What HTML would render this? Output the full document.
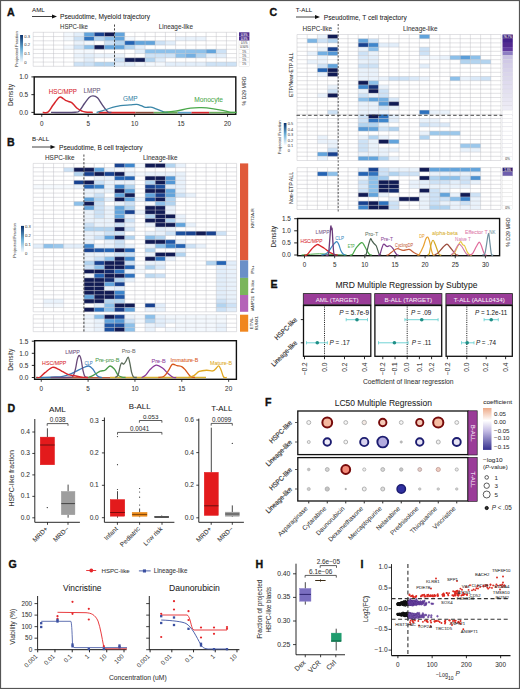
<!DOCTYPE html><html><head><meta charset="utf-8"><style>html,body{margin:0;padding:0;background:#fff;}svg{display:block;font-family:"Liberation Sans",sans-serif;}</style></head><body><svg width="520" height="689" viewBox="0 0 520 689"><rect x="0.5" y="0.5" width="519" height="688" fill="#fff" stroke="#555" stroke-width="1.2"/>
<text x="7" y="16" font-size="10.6" fill="#111" font-weight="bold" stroke="#111" stroke-width="0.35">A</text>
<text x="32" y="12.2" font-size="6.2" fill="#222" stroke="#222" stroke-width="0.05" >AML</text>
<line x1="32" y1="16.5" x2="53" y2="16.5" stroke="#111" stroke-width="0.8" />
<path d="M52 14.5 L57 16.5 L52 18.5 Z" fill="#111"/>
<text x="60" y="19.4" font-size="6.6" fill="#222" stroke="#222" stroke-width="0.05" textLength="90" lengthAdjust="spacingAndGlyphs" >Pseudotime, Myeloid trajectory</text>
<text x="60" y="28.6" font-size="6.3" fill="#333" stroke="#333" stroke-width="0.05" textLength="28" lengthAdjust="spacingAndGlyphs" >HSPC-like</text>
<text x="158.8" y="28.6" font-size="6.3" fill="#333" stroke="#333" stroke-width="0.05" textLength="34.3" lengthAdjust="spacingAndGlyphs" >Lineage-like</text>
<rect x="63.71" y="32.3" width="10.22" height="4.3" fill="#f3f8fd" />
<rect x="73.88" y="32.3" width="10.22" height="4.3" fill="#e2eefa" />
<rect x="84.05" y="32.3" width="10.22" height="4.3" fill="#62a4dc" />
<rect x="94.22" y="32.3" width="10.22" height="4.3" fill="#184290" />
<rect x="104.39" y="32.3" width="10.22" height="4.3" fill="#111b54" />
<rect x="114.56" y="32.3" width="10.22" height="4.3" fill="#62a4dc" />
<rect x="63.71" y="36.55" width="10.22" height="4.3" fill="#f3f8fd" />
<rect x="73.88" y="36.55" width="10.22" height="4.3" fill="#cde2f6" />
<rect x="84.05" y="36.55" width="10.22" height="4.3" fill="#2e72be" />
<rect x="94.22" y="36.55" width="10.22" height="4.3" fill="#b2d4f0" />
<rect x="104.39" y="36.55" width="10.22" height="4.3" fill="#8cc0ea" />
<rect x="114.56" y="36.55" width="10.22" height="4.3" fill="#62a4dc" />
<rect x="124.73" y="36.55" width="10.22" height="4.3" fill="#f3f8fd" />
<rect x="175.58" y="36.55" width="10.22" height="4.3" fill="#e9f2fb" />
<rect x="185.75" y="36.55" width="10.22" height="4.3" fill="#e9f2fb" />
<rect x="195.92" y="36.55" width="10.22" height="4.3" fill="#e9f2fb" />
<rect x="73.88" y="40.8" width="10.22" height="4.3" fill="#e9f2fb" />
<rect x="84.05" y="40.8" width="10.22" height="4.3" fill="#f3f8fd" />
<rect x="104.39" y="40.8" width="10.22" height="4.3" fill="#cde2f6" />
<rect x="114.56" y="40.8" width="10.22" height="4.3" fill="#b2d4f0" />
<rect x="124.73" y="40.8" width="10.22" height="4.3" fill="#2464b4" />
<rect x="134.9" y="40.8" width="10.22" height="4.3" fill="#62a4dc" />
<rect x="145.07" y="40.8" width="10.22" height="4.3" fill="#62a4dc" />
<rect x="155.24" y="40.8" width="10.22" height="4.3" fill="#cde2f6" />
<rect x="165.41" y="40.8" width="10.22" height="4.3" fill="#e2eefa" />
<rect x="63.71" y="45.05" width="10.22" height="4.3" fill="#f3f8fd" />
<rect x="73.88" y="45.05" width="10.22" height="4.3" fill="#cde2f6" />
<rect x="84.05" y="45.05" width="10.22" height="4.3" fill="#8cc0ea" />
<rect x="94.22" y="45.05" width="10.22" height="4.3" fill="#111b54" />
<rect x="104.39" y="45.05" width="10.22" height="4.3" fill="#62a4dc" />
<rect x="114.56" y="45.05" width="10.22" height="4.3" fill="#62a4dc" />
<rect x="124.73" y="45.05" width="10.22" height="4.3" fill="#b2d4f0" />
<rect x="134.9" y="45.05" width="10.22" height="4.3" fill="#e2eefa" />
<rect x="73.88" y="49.3" width="10.22" height="4.3" fill="#f3f8fd" />
<rect x="84.05" y="49.3" width="10.22" height="4.3" fill="#f3f8fd" />
<rect x="134.9" y="49.3" width="10.22" height="4.3" fill="#e2eefa" />
<rect x="145.07" y="49.3" width="10.22" height="4.3" fill="#8cc0ea" />
<rect x="155.24" y="49.3" width="10.22" height="4.3" fill="#8cc0ea" />
<rect x="165.41" y="49.3" width="10.22" height="4.3" fill="#8cc0ea" />
<rect x="175.58" y="49.3" width="10.22" height="4.3" fill="#8cc0ea" />
<rect x="185.75" y="49.3" width="10.22" height="4.3" fill="#8cc0ea" />
<rect x="195.92" y="49.3" width="10.22" height="4.3" fill="#8cc0ea" />
<rect x="206.09" y="49.3" width="10.22" height="4.3" fill="#62a4dc" />
<rect x="216.26" y="49.3" width="10.22" height="4.3" fill="#cde2f6" />
<rect x="73.88" y="53.55" width="10.22" height="4.3" fill="#e9f2fb" />
<rect x="84.05" y="53.55" width="10.22" height="4.3" fill="#e2eefa" />
<rect x="94.22" y="53.55" width="10.22" height="4.3" fill="#e9f2fb" />
<rect x="104.39" y="53.55" width="10.22" height="4.3" fill="#e9f2fb" />
<rect x="114.56" y="53.55" width="10.22" height="4.3" fill="#e9f2fb" />
<rect x="145.07" y="53.55" width="10.22" height="4.3" fill="#cde2f6" />
<rect x="155.24" y="53.55" width="10.22" height="4.3" fill="#cde2f6" />
<rect x="165.41" y="53.55" width="10.22" height="4.3" fill="#cde2f6" />
<rect x="175.58" y="53.55" width="10.22" height="4.3" fill="#8cc0ea" />
<rect x="185.75" y="53.55" width="10.22" height="4.3" fill="#73afe2" />
<rect x="195.92" y="53.55" width="10.22" height="4.3" fill="#b2d4f0" />
<rect x="206.09" y="53.55" width="10.22" height="4.3" fill="#e2eefa" />
<rect x="216.26" y="53.55" width="10.22" height="4.3" fill="#e2eefa" />
<rect x="73.88" y="57.8" width="10.22" height="4.3" fill="#f3f8fd" />
<rect x="84.05" y="57.8" width="10.22" height="4.3" fill="#e2eefa" />
<rect x="114.56" y="57.8" width="10.22" height="4.3" fill="#cde2f6" />
<rect x="124.73" y="57.8" width="10.22" height="4.3" fill="#111b54" />
<rect x="134.9" y="57.8" width="10.22" height="4.3" fill="#111b54" />
<rect x="145.07" y="57.8" width="10.22" height="4.3" fill="#b2d4f0" />
<rect x="155.24" y="57.8" width="10.22" height="4.3" fill="#e2eefa" />
<rect x="73.88" y="62.05" width="10.22" height="4.3" fill="#cde2f6" />
<rect x="84.05" y="62.05" width="10.22" height="4.3" fill="#cde2f6" />
<rect x="94.22" y="62.05" width="10.22" height="4.3" fill="#b2d4f0" />
<rect x="104.39" y="62.05" width="10.22" height="4.3" fill="#b2d4f0" />
<rect x="114.56" y="62.05" width="10.22" height="4.3" fill="#e2eefa" />
<rect x="124.73" y="62.05" width="10.22" height="4.3" fill="#e2eefa" />
<rect x="134.9" y="62.05" width="10.22" height="4.3" fill="#f3f8fd" />
<rect x="145.07" y="62.05" width="10.22" height="4.3" fill="#f3f8fd" />
<rect x="155.24" y="62.05" width="10.22" height="4.3" fill="#f3f8fd" />
<rect x="165.41" y="62.05" width="10.22" height="4.3" fill="#e2eefa" />
<rect x="175.58" y="62.05" width="10.22" height="4.3" fill="#e2eefa" />
<rect x="185.75" y="62.05" width="10.22" height="4.3" fill="#e2eefa" />
<rect x="195.92" y="62.05" width="10.22" height="4.3" fill="#e2eefa" />
<rect x="206.09" y="62.05" width="10.22" height="4.3" fill="#cde2f6" />
<rect x="216.26" y="62.05" width="10.22" height="4.3" fill="#cde2f6" />
<rect x="226.43" y="62.05" width="10.22" height="4.3" fill="#cde2f6" />
<path d="M33.2 32.3H236.6M33.2 36.55H236.6M33.2 40.8H236.6M33.2 45.05H236.6M33.2 49.3H236.6M33.2 53.55H236.6M33.2 57.8H236.6M33.2 62.05H236.6M33.2 66.3H236.6M33.2 32.3V66.3M43.37 32.3V66.3M53.54 32.3V66.3M63.71 32.3V66.3M73.88 32.3V66.3M84.05 32.3V66.3M94.22 32.3V66.3M104.39 32.3V66.3M114.56 32.3V66.3M124.73 32.3V66.3M134.9 32.3V66.3M145.07 32.3V66.3M155.24 32.3V66.3M165.41 32.3V66.3M175.58 32.3V66.3M185.75 32.3V66.3M195.92 32.3V66.3M206.09 32.3V66.3M216.26 32.3V66.3M226.43 32.3V66.3M236.6 32.3V66.3" stroke="#bbbbc3" stroke-width="0.45" fill="none"/>
<line x1="114.5" y1="24.5" x2="114.5" y2="67" stroke="#333" stroke-width="0.9" stroke-dasharray="2.2,1.6" />
<rect x="239" y="32.3" width="10.4" height="4.25" fill="#4b2c8c" />
<text x="244.2" y="35.5" font-size="2.8" fill="#fff" stroke="#fff" stroke-width="0.05" text-anchor="middle" >0.3%</text>
<rect x="239" y="36.55" width="10.4" height="4.25" fill="#4b2c8c" />
<text x="244.2" y="39.75" font-size="2.8" fill="#fff" stroke="#fff" stroke-width="0.05" text-anchor="middle" >0.3%</text>
<rect x="239" y="40.8" width="10.4" height="4.25" fill="#fff" stroke="#ccc" stroke-width="0.3" />
<text x="244.2" y="44" font-size="2.8" fill="#555" stroke="#555" stroke-width="0.05" text-anchor="middle" >0.5%</text>
<rect x="239" y="45.05" width="10.4" height="4.25" fill="#fff" stroke="#ccc" stroke-width="0.3" />
<text x="244.2" y="48.25" font-size="2.8" fill="#555" stroke="#555" stroke-width="0.05" text-anchor="middle" >0.50%</text>
<rect x="239" y="49.3" width="10.4" height="4.25" fill="#fff" stroke="#ccc" stroke-width="0.3" />
<text x="244.2" y="52.5" font-size="2.8" fill="#555" stroke="#555" stroke-width="0.05" text-anchor="middle" >1%</text>
<rect x="239" y="53.55" width="10.4" height="4.25" fill="#fff" stroke="#ccc" stroke-width="0.3" />
<text x="244.2" y="56.75" font-size="2.8" fill="#555" stroke="#555" stroke-width="0.05" text-anchor="middle" >1%</text>
<rect x="239" y="57.8" width="10.4" height="4.25" fill="#fff" stroke="#ccc" stroke-width="0.3" />
<text x="244.2" y="61" font-size="2.8" fill="#555" stroke="#555" stroke-width="0.05" text-anchor="middle" >1%</text>
<rect x="239" y="62.05" width="10.4" height="4.25" fill="#fff" stroke="#ccc" stroke-width="0.3" />
<text x="244.2" y="65.25" font-size="2.8" fill="#555" stroke="#555" stroke-width="0.05" text-anchor="middle" >1%</text>
<defs><linearGradient id="cb236" x1="0" y1="1" x2="0" y2="0"><stop offset="0" stop-color="#f7fbff"/><stop offset="0.5" stop-color="#6aaed6"/><stop offset="1" stop-color="#08306b"/></linearGradient></defs>
<rect x="20.1" y="35" width="2.9" height="27.5" fill="url(#cb236)" />
<text x="24.3" y="37.7" font-size="4.2" fill="#555" stroke="#555" stroke-width="0.05" >0.3</text>
<text x="24.3" y="46.3" font-size="4.2" fill="#555" stroke="#555" stroke-width="0.05" >0.2</text>
<text x="24.3" y="54.9" font-size="4.2" fill="#555" stroke="#555" stroke-width="0.05" >0.1</text>
<text x="24.3" y="63.7" font-size="4.2" fill="#555" stroke="#555" stroke-width="0.05" >0</text>
<text x="17.6" y="49" font-size="3.6" fill="#555" stroke="#555" stroke-width="0.05" text-anchor="middle" transform="rotate(-90 17.6 49)" textLength="36" lengthAdjust="spacingAndGlyphs" >Projected Fraction</text>
<rect x="34.2" y="76.9" width="201.6" height="37.4" fill="none" stroke="#111" stroke-width="1.4" />
<line x1="31.4" y1="76.9" x2="34.2" y2="76.9" stroke="#111" stroke-width="0.9" />
<text x="28.2" y="79.2" font-size="6.5" fill="#333" stroke="#333" stroke-width="0.05" text-anchor="end" >1.0</text>
<line x1="31.4" y1="94.65" x2="34.2" y2="94.65" stroke="#111" stroke-width="0.9" />
<text x="28.2" y="96.95" font-size="6.5" fill="#333" stroke="#333" stroke-width="0.05" text-anchor="end" >0.5</text>
<line x1="31.4" y1="112.4" x2="34.2" y2="112.4" stroke="#111" stroke-width="0.9" />
<text x="28.2" y="114.7" font-size="6.5" fill="#333" stroke="#333" stroke-width="0.05" text-anchor="end" >0.0</text>
<line x1="41.75" y1="114.4" x2="41.75" y2="116.8" stroke="#111" stroke-width="0.8" />
<text x="41.75" y="126" font-size="6.4" fill="#333" stroke="#333" stroke-width="0.05" text-anchor="middle" >0</text>
<line x1="88.2" y1="114.4" x2="88.2" y2="116.8" stroke="#111" stroke-width="0.8" />
<text x="88.2" y="126" font-size="6.4" fill="#333" stroke="#333" stroke-width="0.05" text-anchor="middle" >5</text>
<line x1="134.65" y1="114.4" x2="134.65" y2="116.8" stroke="#111" stroke-width="0.8" />
<text x="134.65" y="126" font-size="6.4" fill="#333" stroke="#333" stroke-width="0.05" text-anchor="middle" >10</text>
<line x1="181.1" y1="114.4" x2="181.1" y2="116.8" stroke="#111" stroke-width="0.8" />
<text x="181.1" y="126" font-size="6.4" fill="#333" stroke="#333" stroke-width="0.05" text-anchor="middle" >15</text>
<line x1="227.55" y1="114.4" x2="227.55" y2="116.8" stroke="#111" stroke-width="0.8" />
<text x="227.55" y="126" font-size="6.4" fill="#333" stroke="#333" stroke-width="0.05" text-anchor="middle" >20</text>
<text x="12.6" y="95" font-size="6.6" fill="#333" stroke="#333" stroke-width="0.05" text-anchor="middle" transform="rotate(-90 12.6 95)" >Density</text>
<text x="246" y="91" font-size="6.1" fill="#333" stroke="#333" stroke-width="0.05" text-anchor="middle" transform="rotate(-90 246 91)" textLength="29" lengthAdjust="spacingAndGlyphs" >% D29 MRD</text>
<line x1="98.5" y1="112.6" x2="135.4" y2="112.6" stroke="#d7262b" stroke-width="1.6" />
<line x1="135.4" y1="112.6" x2="153.8" y2="112.6" stroke="#8b4a3a" stroke-width="1.6" />
<line x1="153.8" y1="112.6" x2="177.7" y2="112.6" stroke="#6aaa5a" stroke-width="1.6" />
<line x1="177.7" y1="112.6" x2="191.5" y2="112.6" stroke="#5b9fc8" stroke-width="1.6" />
<line x1="191.5" y1="112.6" x2="209.2" y2="112.6" stroke="#d7262b" stroke-width="1.6" />
<line x1="209.2" y1="112.6" x2="235" y2="112.6" stroke="#6aaa5a" stroke-width="1.6" />
<path d="M51.04 112.4 C55.07 112.38 70.39 112.65 75.19 112.29 C79.99 111.94 78.29 111.73 79.84 110.27 C81.39 108.81 82.94 105.66 84.48 103.53 C86.03 101.4 87.7 98.76 89.13 97.49 C90.55 96.22 91.64 95.83 93.03 95.89 C94.42 95.95 95.97 96.4 97.49 97.84 C99.01 99.29 100.43 102.28 102.13 104.59 C103.84 106.9 106.16 110.39 107.71 111.69 C109.26 112.99 110.81 112.28 111.42 112.4" fill="none" stroke="#5a4a78" stroke-width="1.4" stroke-linejoin="round"/>
<path d="M96.56 112.4 C97.49 112.16 100.06 111.63 102.13 110.98 C104.21 110.33 105.97 109.38 109.01 108.5 C112.04 107.61 116.84 106.25 120.34 105.66 C123.84 105.06 127.28 105.15 130 104.95 C132.73 104.74 134.84 104.29 136.69 104.41 C138.55 104.53 139.7 105.15 141.15 105.66 C142.61 106.16 143.85 107.19 145.43 107.43 C147.01 107.67 148.86 106.84 150.63 107.08 C152.39 107.31 153.73 108.02 156.02 108.85 C158.31 109.68 162.37 111.45 164.38 112.05 C166.39 112.64 167.47 112.34 168.09 112.4" fill="none" stroke="#3a86a8" stroke-width="1.3" stroke-linejoin="round"/>
<path d="M162.52 112.4 C164.61 112.2 170.42 111.89 175.06 111.19 C179.71 110.49 185.98 108.79 190.39 108.21 C194.8 107.63 197.67 107.61 201.54 107.71 C205.41 107.82 209.78 108.34 213.61 108.85 C217.45 109.36 221.71 110.23 224.58 110.8 C227.44 111.38 228.76 112.03 230.8 112.29 C232.85 112.56 235.83 112.38 236.84 112.4" fill="none" stroke="#4aa84a" stroke-width="1.3" stroke-linejoin="round"/>
<path d="M42.68 112.4 C43.56 112.37 46.27 113.41 47.97 112.22 C49.68 111.04 51.02 107.79 52.9 105.3 C54.77 102.82 57.51 98.44 59.22 97.31 C60.92 96.19 61.97 97.99 63.12 98.56 C64.26 99.12 64.73 100.03 66.09 100.69 C67.45 101.34 69.93 101.69 71.29 102.46 C72.65 103.23 73.24 104.29 74.27 105.3 C75.29 106.31 76.18 107.55 77.42 108.5 C78.66 109.44 80.4 110.39 81.7 110.98 C83 111.57 83.37 111.81 85.23 112.05 C87.09 112.28 91.58 112.34 92.84 112.4" fill="none" stroke="#d7262b" stroke-width="1.5" stroke-linejoin="round"/>
<text x="48.8" y="94.2" font-size="6.3" fill="#d7262b" stroke="#d7262b" stroke-width="0.05" textLength="28.2" lengthAdjust="spacingAndGlyphs" >HSC/MPP</text>
<text x="83.4" y="92.5" font-size="6.3" fill="#6b5b7b" stroke="#6b5b7b" stroke-width="0.05" >LMPP</text>
<text x="122.9" y="100.6" font-size="6.4" fill="#3a86a8" stroke="#3a86a8" stroke-width="0.05" textLength="14.7" lengthAdjust="spacingAndGlyphs" >GMP</text>
<text x="194.2" y="101.5" font-size="6.6" fill="#4aa84a" stroke="#4aa84a" stroke-width="0.05" textLength="28.9" lengthAdjust="spacingAndGlyphs" >Monocyte</text>
<text x="7" y="145.5" font-size="10.6" fill="#111" font-weight="bold" stroke="#111" stroke-width="0.35">B</text>
<text x="32" y="141.2" font-size="6.2" fill="#222" stroke="#222" stroke-width="0.05" >B-ALL</text>
<line x1="32" y1="147" x2="51.5" y2="147" stroke="#111" stroke-width="0.8" />
<path d="M50.5 145 L55.5 147 L50.5 149 Z" fill="#111"/>
<text x="59" y="149.5" font-size="6.6" fill="#222" stroke="#222" stroke-width="0.05" >Pseudotime, B cell trajectory</text>
<text x="45" y="159.5" font-size="6.4" fill="#333" stroke="#333" stroke-width="0.05" >HSPC-like</text>
<text x="143" y="159.5" font-size="6.4" fill="#333" stroke="#333" stroke-width="0.05" >Lineage-like</text>
<rect x="114.56" y="163.4" width="10.22" height="4.29" fill="#184290" />
<rect x="124.73" y="163.4" width="10.22" height="4.29" fill="#3e86cc" />
<rect x="134.9" y="163.4" width="10.22" height="4.29" fill="#f3f8fd" />
<rect x="145.07" y="163.4" width="10.22" height="4.29" fill="#111b54" />
<rect x="155.24" y="163.4" width="10.22" height="4.29" fill="#111b54" />
<rect x="165.41" y="163.4" width="10.22" height="4.29" fill="#b2d4f0" />
<rect x="175.58" y="163.4" width="10.22" height="4.29" fill="#e9f2fb" />
<rect x="63.71" y="167.64" width="10.22" height="4.29" fill="#cde2f6" />
<rect x="73.88" y="167.64" width="10.22" height="4.29" fill="#111b54" />
<rect x="84.05" y="167.64" width="10.22" height="4.29" fill="#111b54" />
<rect x="94.22" y="167.64" width="10.22" height="4.29" fill="#62a4dc" />
<rect x="104.39" y="167.64" width="10.22" height="4.29" fill="#e9f2fb" />
<rect x="114.56" y="167.64" width="10.22" height="4.29" fill="#f3f8fd" />
<rect x="124.73" y="167.64" width="10.22" height="4.29" fill="#f3f8fd" />
<rect x="73.88" y="171.88" width="10.22" height="4.29" fill="#b2d4f0" />
<rect x="84.05" y="171.88" width="10.22" height="4.29" fill="#184290" />
<rect x="94.22" y="171.88" width="10.22" height="4.29" fill="#111b54" />
<rect x="104.39" y="171.88" width="10.22" height="4.29" fill="#184290" />
<rect x="114.56" y="171.88" width="10.22" height="4.29" fill="#111b54" />
<rect x="124.73" y="171.88" width="10.22" height="4.29" fill="#e2eefa" />
<rect x="134.9" y="171.88" width="10.22" height="4.29" fill="#f3f8fd" />
<rect x="145.07" y="171.88" width="10.22" height="4.29" fill="#e9f2fb" />
<rect x="155.24" y="171.88" width="10.22" height="4.29" fill="#e9f2fb" />
<rect x="165.41" y="171.88" width="10.22" height="4.29" fill="#e9f2fb" />
<rect x="175.58" y="171.88" width="10.22" height="4.29" fill="#e9f2fb" />
<rect x="94.22" y="176.12" width="10.22" height="4.29" fill="#e9f2fb" />
<rect x="104.39" y="176.12" width="10.22" height="4.29" fill="#e9f2fb" />
<rect x="114.56" y="176.12" width="10.22" height="4.29" fill="#2464b4" />
<rect x="124.73" y="176.12" width="10.22" height="4.29" fill="#2464b4" />
<rect x="145.07" y="176.12" width="10.22" height="4.29" fill="#111b54" />
<rect x="155.24" y="176.12" width="10.22" height="4.29" fill="#111b54" />
<rect x="165.41" y="176.12" width="10.22" height="4.29" fill="#5498d6" />
<rect x="175.58" y="176.12" width="10.22" height="4.29" fill="#e9f2fb" />
<rect x="73.88" y="180.36" width="10.22" height="4.29" fill="#184290" />
<rect x="84.05" y="180.36" width="10.22" height="4.29" fill="#111b54" />
<rect x="94.22" y="180.36" width="10.22" height="4.29" fill="#cde2f6" />
<rect x="104.39" y="180.36" width="10.22" height="4.29" fill="#e9f2fb" />
<rect x="114.56" y="180.36" width="10.22" height="4.29" fill="#e9f2fb" />
<rect x="124.73" y="180.36" width="10.22" height="4.29" fill="#e9f2fb" />
<rect x="145.07" y="180.36" width="10.22" height="4.29" fill="#b2d4f0" />
<rect x="155.24" y="180.36" width="10.22" height="4.29" fill="#111b54" />
<rect x="165.41" y="180.36" width="10.22" height="4.29" fill="#5498d6" />
<rect x="175.58" y="180.36" width="10.22" height="4.29" fill="#e9f2fb" />
<rect x="33.2" y="184.6" width="10.22" height="4.29" fill="#f5f9fd" />
<rect x="43.37" y="184.6" width="10.22" height="4.29" fill="#f5f9fd" />
<rect x="53.54" y="184.6" width="10.22" height="4.29" fill="#f5f9fd" />
<rect x="63.71" y="184.6" width="10.22" height="4.29" fill="#f5f9fd" />
<rect x="73.88" y="184.6" width="10.22" height="4.29" fill="#e9f2fb" />
<rect x="84.05" y="184.6" width="10.22" height="4.29" fill="#2464b4" />
<rect x="94.22" y="184.6" width="10.22" height="4.29" fill="#3e86cc" />
<rect x="104.39" y="184.6" width="10.22" height="4.29" fill="#e9f2fb" />
<rect x="114.56" y="184.6" width="10.22" height="4.29" fill="#3e86cc" />
<rect x="124.73" y="184.6" width="10.22" height="4.29" fill="#b2d4f0" />
<rect x="145.07" y="184.6" width="10.22" height="4.29" fill="#184290" />
<rect x="155.24" y="184.6" width="10.22" height="4.29" fill="#1d509e" />
<rect x="165.41" y="184.6" width="10.22" height="4.29" fill="#e2eefa" />
<rect x="175.58" y="184.6" width="10.22" height="4.29" fill="#e9f2fb" />
<rect x="84.05" y="188.84" width="10.22" height="4.29" fill="#e9f2fb" />
<rect x="94.22" y="188.84" width="10.22" height="4.29" fill="#e9f2fb" />
<rect x="104.39" y="188.84" width="10.22" height="4.29" fill="#e9f2fb" />
<rect x="114.56" y="188.84" width="10.22" height="4.29" fill="#111b54" />
<rect x="124.73" y="188.84" width="10.22" height="4.29" fill="#62a4dc" />
<rect x="145.07" y="188.84" width="10.22" height="4.29" fill="#111b54" />
<rect x="155.24" y="188.84" width="10.22" height="4.29" fill="#111b54" />
<rect x="165.41" y="188.84" width="10.22" height="4.29" fill="#62a4dc" />
<rect x="175.58" y="188.84" width="10.22" height="4.29" fill="#e9f2fb" />
<rect x="84.05" y="193.08" width="10.22" height="4.29" fill="#e9f2fb" />
<rect x="94.22" y="193.08" width="10.22" height="4.29" fill="#cde2f6" />
<rect x="114.56" y="193.08" width="10.22" height="4.29" fill="#62a4dc" />
<rect x="124.73" y="193.08" width="10.22" height="4.29" fill="#111b54" />
<rect x="145.07" y="193.08" width="10.22" height="4.29" fill="#62a4dc" />
<rect x="155.24" y="193.08" width="10.22" height="4.29" fill="#184290" />
<rect x="165.41" y="193.08" width="10.22" height="4.29" fill="#62a4dc" />
<rect x="175.58" y="193.08" width="10.22" height="4.29" fill="#cde2f6" />
<rect x="185.75" y="193.08" width="10.22" height="4.29" fill="#e9f2fb" />
<rect x="84.05" y="197.32" width="10.22" height="4.29" fill="#62a4dc" />
<rect x="94.22" y="197.32" width="10.22" height="4.29" fill="#b2d4f0" />
<rect x="104.39" y="197.32" width="10.22" height="4.29" fill="#e2eefa" />
<rect x="114.56" y="197.32" width="10.22" height="4.29" fill="#111b54" />
<rect x="124.73" y="197.32" width="10.22" height="4.29" fill="#62a4dc" />
<rect x="134.9" y="197.32" width="10.22" height="4.29" fill="#e9f2fb" />
<rect x="145.07" y="197.32" width="10.22" height="4.29" fill="#1d509e" />
<rect x="155.24" y="197.32" width="10.22" height="4.29" fill="#111b54" />
<rect x="165.41" y="197.32" width="10.22" height="4.29" fill="#b2d4f0" />
<rect x="73.88" y="201.56" width="10.22" height="4.29" fill="#8cc0ea" />
<rect x="84.05" y="201.56" width="10.22" height="4.29" fill="#111b54" />
<rect x="94.22" y="201.56" width="10.22" height="4.29" fill="#cde2f6" />
<rect x="114.56" y="201.56" width="10.22" height="4.29" fill="#e9f2fb" />
<rect x="124.73" y="201.56" width="10.22" height="4.29" fill="#cde2f6" />
<rect x="145.07" y="201.56" width="10.22" height="4.29" fill="#f3f8fd" />
<rect x="155.24" y="201.56" width="10.22" height="4.29" fill="#8cc0ea" />
<rect x="165.41" y="201.56" width="10.22" height="4.29" fill="#b2d4f0" />
<rect x="84.05" y="205.8" width="10.22" height="4.29" fill="#62a4dc" />
<rect x="94.22" y="205.8" width="10.22" height="4.29" fill="#cde2f6" />
<rect x="104.39" y="205.8" width="10.22" height="4.29" fill="#e9f2fb" />
<rect x="114.56" y="205.8" width="10.22" height="4.29" fill="#62a4dc" />
<rect x="124.73" y="205.8" width="10.22" height="4.29" fill="#b2d4f0" />
<rect x="145.07" y="205.8" width="10.22" height="4.29" fill="#111b54" />
<rect x="155.24" y="205.8" width="10.22" height="4.29" fill="#111b54" />
<rect x="165.41" y="205.8" width="10.22" height="4.29" fill="#e9f2fb" />
<rect x="84.05" y="210.04" width="10.22" height="4.29" fill="#e9f2fb" />
<rect x="94.22" y="210.04" width="10.22" height="4.29" fill="#cde2f6" />
<rect x="104.39" y="210.04" width="10.22" height="4.29" fill="#e9f2fb" />
<rect x="114.56" y="210.04" width="10.22" height="4.29" fill="#62a4dc" />
<rect x="124.73" y="210.04" width="10.22" height="4.29" fill="#184290" />
<rect x="134.9" y="210.04" width="10.22" height="4.29" fill="#e9f2fb" />
<rect x="145.07" y="210.04" width="10.22" height="4.29" fill="#111b54" />
<rect x="155.24" y="210.04" width="10.22" height="4.29" fill="#111b54" />
<rect x="165.41" y="210.04" width="10.22" height="4.29" fill="#e9f2fb" />
<rect x="84.05" y="214.28" width="10.22" height="4.29" fill="#e9f2fb" />
<rect x="94.22" y="214.28" width="10.22" height="4.29" fill="#cde2f6" />
<rect x="104.39" y="214.28" width="10.22" height="4.29" fill="#e9f2fb" />
<rect x="114.56" y="214.28" width="10.22" height="4.29" fill="#62a4dc" />
<rect x="124.73" y="214.28" width="10.22" height="4.29" fill="#e9f2fb" />
<rect x="145.07" y="214.28" width="10.22" height="4.29" fill="#b2d4f0" />
<rect x="155.24" y="214.28" width="10.22" height="4.29" fill="#111b54" />
<rect x="165.41" y="214.28" width="10.22" height="4.29" fill="#111b54" />
<rect x="175.58" y="214.28" width="10.22" height="4.29" fill="#e9f2fb" />
<rect x="84.05" y="218.52" width="10.22" height="4.29" fill="#e9f2fb" />
<rect x="94.22" y="218.52" width="10.22" height="4.29" fill="#e9f2fb" />
<rect x="104.39" y="218.52" width="10.22" height="4.29" fill="#e9f2fb" />
<rect x="114.56" y="218.52" width="10.22" height="4.29" fill="#111b54" />
<rect x="124.73" y="218.52" width="10.22" height="4.29" fill="#cde2f6" />
<rect x="145.07" y="218.52" width="10.22" height="4.29" fill="#111b54" />
<rect x="155.24" y="218.52" width="10.22" height="4.29" fill="#111b54" />
<rect x="165.41" y="218.52" width="10.22" height="4.29" fill="#b2d4f0" />
<rect x="175.58" y="218.52" width="10.22" height="4.29" fill="#e9f2fb" />
<rect x="84.05" y="222.76" width="10.22" height="4.29" fill="#cde2f6" />
<rect x="94.22" y="222.76" width="10.22" height="4.29" fill="#e9f2fb" />
<rect x="104.39" y="222.76" width="10.22" height="4.29" fill="#e9f2fb" />
<rect x="114.56" y="222.76" width="10.22" height="4.29" fill="#cde2f6" />
<rect x="124.73" y="222.76" width="10.22" height="4.29" fill="#e9f2fb" />
<rect x="145.07" y="222.76" width="10.22" height="4.29" fill="#e9f2fb" />
<rect x="155.24" y="222.76" width="10.22" height="4.29" fill="#111b54" />
<rect x="165.41" y="222.76" width="10.22" height="4.29" fill="#111b54" />
<rect x="175.58" y="222.76" width="10.22" height="4.29" fill="#62a4dc" />
<rect x="185.75" y="222.76" width="10.22" height="4.29" fill="#e9f2fb" />
<rect x="84.05" y="227" width="10.22" height="4.29" fill="#b2d4f0" />
<rect x="94.22" y="227" width="10.22" height="4.29" fill="#b2d4f0" />
<rect x="104.39" y="227" width="10.22" height="4.29" fill="#b2d4f0" />
<rect x="114.56" y="227" width="10.22" height="4.29" fill="#111b54" />
<rect x="124.73" y="227" width="10.22" height="4.29" fill="#cde2f6" />
<rect x="155.24" y="227" width="10.22" height="4.29" fill="#e2eefa" />
<rect x="165.41" y="227" width="10.22" height="4.29" fill="#e9f2fb" />
<rect x="84.05" y="231.24" width="10.22" height="4.29" fill="#e9f2fb" />
<rect x="94.22" y="231.24" width="10.22" height="4.29" fill="#e9f2fb" />
<rect x="104.39" y="231.24" width="10.22" height="4.29" fill="#cde2f6" />
<rect x="114.56" y="231.24" width="10.22" height="4.29" fill="#cde2f6" />
<rect x="145.07" y="231.24" width="10.22" height="4.29" fill="#e9f2fb" />
<rect x="155.24" y="231.24" width="10.22" height="4.29" fill="#e9f2fb" />
<rect x="165.41" y="231.24" width="10.22" height="4.29" fill="#cde2f6" />
<rect x="175.58" y="231.24" width="10.22" height="4.29" fill="#1d509e" />
<rect x="185.75" y="231.24" width="10.22" height="4.29" fill="#184290" />
<rect x="195.92" y="231.24" width="10.22" height="4.29" fill="#111b54" />
<rect x="206.09" y="231.24" width="10.22" height="4.29" fill="#184290" />
<rect x="216.26" y="231.24" width="10.22" height="4.29" fill="#cde2f6" />
<rect x="84.05" y="235.48" width="10.22" height="4.29" fill="#e9f2fb" />
<rect x="94.22" y="235.48" width="10.22" height="4.29" fill="#cde2f6" />
<rect x="104.39" y="235.48" width="10.22" height="4.29" fill="#62a4dc" />
<rect x="114.56" y="235.48" width="10.22" height="4.29" fill="#111b54" />
<rect x="124.73" y="235.48" width="10.22" height="4.29" fill="#b2d4f0" />
<rect x="145.07" y="235.48" width="10.22" height="4.29" fill="#8cc0ea" />
<rect x="155.24" y="235.48" width="10.22" height="4.29" fill="#b2d4f0" />
<rect x="84.05" y="239.72" width="10.22" height="4.29" fill="#e9f2fb" />
<rect x="104.39" y="239.72" width="10.22" height="4.29" fill="#e9f2fb" />
<rect x="114.56" y="239.72" width="10.22" height="4.29" fill="#cde2f6" />
<rect x="145.07" y="239.72" width="10.22" height="4.29" fill="#111b54" />
<rect x="155.24" y="239.72" width="10.22" height="4.29" fill="#111b54" />
<rect x="165.41" y="239.72" width="10.22" height="4.29" fill="#1f56a6" />
<rect x="175.58" y="239.72" width="10.22" height="4.29" fill="#e9f2fb" />
<rect x="33.2" y="243.96" width="10.22" height="4.29" fill="#e2eefa" />
<rect x="43.37" y="243.96" width="10.22" height="4.29" fill="#8cc0ea" />
<rect x="53.54" y="243.96" width="10.22" height="4.29" fill="#9bc8ec" />
<rect x="63.71" y="243.96" width="10.22" height="4.29" fill="#e2eefa" />
<rect x="73.88" y="243.96" width="10.22" height="4.29" fill="#e2eefa" />
<rect x="84.05" y="243.96" width="10.22" height="4.29" fill="#3e86cc" />
<rect x="94.22" y="243.96" width="10.22" height="4.29" fill="#e9f2fb" />
<rect x="104.39" y="243.96" width="10.22" height="4.29" fill="#e9f2fb" />
<rect x="114.56" y="243.96" width="10.22" height="4.29" fill="#cde2f6" />
<rect x="124.73" y="243.96" width="10.22" height="4.29" fill="#e9f2fb" />
<rect x="145.07" y="243.96" width="10.22" height="4.29" fill="#e9f2fb" />
<rect x="155.24" y="243.96" width="10.22" height="4.29" fill="#8cc0ea" />
<rect x="165.41" y="243.96" width="10.22" height="4.29" fill="#3e86cc" />
<rect x="175.58" y="243.96" width="10.22" height="4.29" fill="#2464b4" />
<rect x="185.75" y="243.96" width="10.22" height="4.29" fill="#cde2f6" />
<rect x="195.92" y="243.96" width="10.22" height="4.29" fill="#e9f2fb" />
<rect x="84.05" y="248.2" width="10.22" height="4.29" fill="#184290" />
<rect x="94.22" y="248.2" width="10.22" height="4.29" fill="#1f56a6" />
<rect x="104.39" y="248.2" width="10.22" height="4.29" fill="#2464b4" />
<rect x="114.56" y="248.2" width="10.22" height="4.29" fill="#111b54" />
<rect x="124.73" y="248.2" width="10.22" height="4.29" fill="#2464b4" />
<rect x="145.07" y="248.2" width="10.22" height="4.29" fill="#b2d4f0" />
<rect x="175.58" y="248.2" width="10.22" height="4.29" fill="#e9f2fb" />
<rect x="84.05" y="252.44" width="10.22" height="4.29" fill="#e9f2fb" />
<rect x="94.22" y="252.44" width="10.22" height="4.29" fill="#e9f2fb" />
<rect x="104.39" y="252.44" width="10.22" height="4.29" fill="#e9f2fb" />
<rect x="114.56" y="252.44" width="10.22" height="4.29" fill="#cde2f6" />
<rect x="124.73" y="252.44" width="10.22" height="4.29" fill="#cde2f6" />
<rect x="145.07" y="252.44" width="10.22" height="4.29" fill="#e9f2fb" />
<rect x="155.24" y="252.44" width="10.22" height="4.29" fill="#111b54" />
<rect x="165.41" y="252.44" width="10.22" height="4.29" fill="#111b54" />
<rect x="175.58" y="252.44" width="10.22" height="4.29" fill="#b2d4f0" />
<rect x="84.05" y="256.68" width="10.22" height="4.29" fill="#e9f2fb" />
<rect x="94.22" y="256.68" width="10.22" height="4.29" fill="#cde2f6" />
<rect x="104.39" y="256.68" width="10.22" height="4.29" fill="#8cc0ea" />
<rect x="114.56" y="256.68" width="10.22" height="4.29" fill="#111b54" />
<rect x="124.73" y="256.68" width="10.22" height="4.29" fill="#3e86cc" />
<rect x="145.07" y="256.68" width="10.22" height="4.29" fill="#111b54" />
<rect x="155.24" y="256.68" width="10.22" height="4.29" fill="#2e72be" />
<rect x="165.41" y="256.68" width="10.22" height="4.29" fill="#e9f2fb" />
<rect x="84.05" y="260.92" width="10.22" height="4.29" fill="#b2d4f0" />
<rect x="94.22" y="260.92" width="10.22" height="4.29" fill="#184290" />
<rect x="104.39" y="260.92" width="10.22" height="4.29" fill="#111b54" />
<rect x="114.56" y="260.92" width="10.22" height="4.29" fill="#111b54" />
<rect x="124.73" y="260.92" width="10.22" height="4.29" fill="#cde2f6" />
<rect x="145.07" y="260.92" width="10.22" height="4.29" fill="#e9f2fb" />
<rect x="155.24" y="260.92" width="10.22" height="4.29" fill="#e9f2fb" />
<rect x="206.09" y="260.92" width="10.22" height="4.29" fill="#b2d4f0" />
<rect x="216.26" y="260.92" width="10.22" height="4.29" fill="#2464b4" />
<rect x="226.43" y="260.92" width="10.22" height="4.29" fill="#e2eefa" />
<rect x="84.05" y="265.16" width="10.22" height="4.29" fill="#cde2f6" />
<rect x="94.22" y="265.16" width="10.22" height="4.29" fill="#8cc0ea" />
<rect x="104.39" y="265.16" width="10.22" height="4.29" fill="#111b54" />
<rect x="114.56" y="265.16" width="10.22" height="4.29" fill="#111b54" />
<rect x="124.73" y="265.16" width="10.22" height="4.29" fill="#2464b4" />
<rect x="134.9" y="265.16" width="10.22" height="4.29" fill="#f3f8fd" />
<rect x="145.07" y="265.16" width="10.22" height="4.29" fill="#b2d4f0" />
<rect x="155.24" y="265.16" width="10.22" height="4.29" fill="#dae9f8" />
<rect x="216.26" y="265.16" width="10.22" height="4.29" fill="#e2eefa" />
<rect x="226.43" y="265.16" width="10.22" height="4.29" fill="#e9f2fb" />
<rect x="84.05" y="269.4" width="10.22" height="4.29" fill="#111b54" />
<rect x="94.22" y="269.4" width="10.22" height="4.29" fill="#111b54" />
<rect x="104.39" y="269.4" width="10.22" height="4.29" fill="#142b6c" />
<rect x="114.56" y="269.4" width="10.22" height="4.29" fill="#2e72be" />
<rect x="124.73" y="269.4" width="10.22" height="4.29" fill="#e9f2fb" />
<rect x="134.9" y="269.4" width="10.22" height="4.29" fill="#f3f8fd" />
<rect x="216.26" y="269.4" width="10.22" height="4.29" fill="#e2eefa" />
<rect x="226.43" y="269.4" width="10.22" height="4.29" fill="#e9f2fb" />
<rect x="84.05" y="273.64" width="10.22" height="4.29" fill="#f3f8fd" />
<rect x="94.22" y="273.64" width="10.22" height="4.29" fill="#2464b4" />
<rect x="104.39" y="273.64" width="10.22" height="4.29" fill="#111b54" />
<rect x="114.56" y="273.64" width="10.22" height="4.29" fill="#111b54" />
<rect x="124.73" y="273.64" width="10.22" height="4.29" fill="#2e72be" />
<rect x="145.07" y="273.64" width="10.22" height="4.29" fill="#bddaf2" />
<rect x="155.24" y="273.64" width="10.22" height="4.29" fill="#cde2f6" />
<rect x="216.26" y="273.64" width="10.22" height="4.29" fill="#e2eefa" />
<rect x="226.43" y="273.64" width="10.22" height="4.29" fill="#e9f2fb" />
<rect x="84.05" y="277.88" width="10.22" height="4.29" fill="#111b54" />
<rect x="94.22" y="277.88" width="10.22" height="4.29" fill="#111b54" />
<rect x="104.39" y="277.88" width="10.22" height="4.29" fill="#142b6c" />
<rect x="114.56" y="277.88" width="10.22" height="4.29" fill="#b2d4f0" />
<rect x="124.73" y="277.88" width="10.22" height="4.29" fill="#e9f2fb" />
<rect x="216.26" y="277.88" width="10.22" height="4.29" fill="#e2eefa" />
<rect x="226.43" y="277.88" width="10.22" height="4.29" fill="#e9f2fb" />
<rect x="84.05" y="282.12" width="10.22" height="4.29" fill="#111b54" />
<rect x="94.22" y="282.12" width="10.22" height="4.29" fill="#111b54" />
<rect x="104.39" y="282.12" width="10.22" height="4.29" fill="#62a4dc" />
<rect x="114.56" y="282.12" width="10.22" height="4.29" fill="#184290" />
<rect x="216.26" y="282.12" width="10.22" height="4.29" fill="#e2eefa" />
<rect x="226.43" y="282.12" width="10.22" height="4.29" fill="#e9f2fb" />
<rect x="84.05" y="286.36" width="10.22" height="4.29" fill="#111b54" />
<rect x="94.22" y="286.36" width="10.22" height="4.29" fill="#111b54" />
<rect x="104.39" y="286.36" width="10.22" height="4.29" fill="#e9f2fb" />
<rect x="114.56" y="286.36" width="10.22" height="4.29" fill="#e2eefa" />
<rect x="216.26" y="286.36" width="10.22" height="4.29" fill="#e2eefa" />
<rect x="226.43" y="286.36" width="10.22" height="4.29" fill="#e9f2fb" />
<rect x="84.05" y="290.6" width="10.22" height="4.29" fill="#111b54" />
<rect x="94.22" y="290.6" width="10.22" height="4.29" fill="#111b54" />
<rect x="104.39" y="290.6" width="10.22" height="4.29" fill="#111b54" />
<rect x="114.56" y="290.6" width="10.22" height="4.29" fill="#3e86cc" />
<rect x="216.26" y="290.6" width="10.22" height="4.29" fill="#e2eefa" />
<rect x="226.43" y="290.6" width="10.22" height="4.29" fill="#e9f2fb" />
<rect x="84.05" y="294.84" width="10.22" height="4.29" fill="#62a4dc" />
<rect x="94.22" y="294.84" width="10.22" height="4.29" fill="#111b54" />
<rect x="104.39" y="294.84" width="10.22" height="4.29" fill="#111b54" />
<rect x="114.56" y="294.84" width="10.22" height="4.29" fill="#1f56a6" />
<rect x="216.26" y="294.84" width="10.22" height="4.29" fill="#e2eefa" />
<rect x="226.43" y="294.84" width="10.22" height="4.29" fill="#e9f2fb" />
<rect x="43.37" y="299.08" width="10.22" height="4.29" fill="#e9f2fb" />
<rect x="53.54" y="299.08" width="10.22" height="4.29" fill="#e9f2fb" />
<rect x="84.05" y="299.08" width="10.22" height="4.29" fill="#111b54" />
<rect x="94.22" y="299.08" width="10.22" height="4.29" fill="#111b54" />
<rect x="104.39" y="299.08" width="10.22" height="4.29" fill="#b2d4f0" />
<rect x="114.56" y="299.08" width="10.22" height="4.29" fill="#b2d4f0" />
<rect x="216.26" y="299.08" width="10.22" height="4.29" fill="#cde2f6" />
<rect x="226.43" y="299.08" width="10.22" height="4.29" fill="#e2eefa" />
<rect x="43.37" y="303.32" width="10.22" height="4.29" fill="#f3f8fd" />
<rect x="53.54" y="303.32" width="10.22" height="4.29" fill="#f3f8fd" />
<rect x="94.22" y="303.32" width="10.22" height="4.29" fill="#e2eefa" />
<rect x="104.39" y="303.32" width="10.22" height="4.29" fill="#8cc0ea" />
<rect x="114.56" y="303.32" width="10.22" height="4.29" fill="#111b54" />
<rect x="124.73" y="303.32" width="10.22" height="4.29" fill="#111b54" />
<rect x="145.07" y="303.32" width="10.22" height="4.29" fill="#184290" />
<rect x="155.24" y="303.32" width="10.22" height="4.29" fill="#e2eefa" />
<rect x="216.26" y="303.32" width="10.22" height="4.29" fill="#b2d4f0" />
<rect x="226.43" y="303.32" width="10.22" height="4.29" fill="#cde2f6" />
<rect x="84.05" y="307.56" width="10.22" height="4.29" fill="#111b54" />
<rect x="94.22" y="307.56" width="10.22" height="4.29" fill="#2e72be" />
<rect x="104.39" y="307.56" width="10.22" height="4.29" fill="#8cc0ea" />
<rect x="114.56" y="307.56" width="10.22" height="4.29" fill="#173a84" />
<rect x="124.73" y="307.56" width="10.22" height="4.29" fill="#62a4dc" />
<rect x="145.07" y="307.56" width="10.22" height="4.29" fill="#e9f2fb" />
<rect x="155.24" y="307.56" width="10.22" height="4.29" fill="#e9f2fb" />
<rect x="216.26" y="307.56" width="10.22" height="4.29" fill="#cde2f6" />
<rect x="226.43" y="307.56" width="10.22" height="4.29" fill="#e2eefa" />
<path d="M33.2 163.4H236.6M33.2 167.64H236.6M33.2 171.88H236.6M33.2 176.12H236.6M33.2 180.36H236.6M33.2 184.6H236.6M33.2 188.84H236.6M33.2 193.08H236.6M33.2 197.32H236.6M33.2 201.56H236.6M33.2 205.8H236.6M33.2 210.04H236.6M33.2 214.28H236.6M33.2 218.52H236.6M33.2 222.76H236.6M33.2 227H236.6M33.2 231.24H236.6M33.2 235.48H236.6M33.2 239.72H236.6M33.2 243.96H236.6M33.2 248.2H236.6M33.2 252.44H236.6M33.2 256.68H236.6M33.2 260.92H236.6M33.2 265.16H236.6M33.2 269.4H236.6M33.2 273.64H236.6M33.2 277.88H236.6M33.2 282.12H236.6M33.2 286.36H236.6M33.2 290.6H236.6M33.2 294.84H236.6M33.2 299.08H236.6M33.2 303.32H236.6M33.2 307.56H236.6M33.2 311.8H236.6M33.2 163.4V311.8M43.37 163.4V311.8M53.54 163.4V311.8M63.71 163.4V311.8M73.88 163.4V311.8M84.05 163.4V311.8M94.22 163.4V311.8M104.39 163.4V311.8M114.56 163.4V311.8M124.73 163.4V311.8M134.9 163.4V311.8M145.07 163.4V311.8M155.24 163.4V311.8M165.41 163.4V311.8M175.58 163.4V311.8M185.75 163.4V311.8M195.92 163.4V311.8M206.09 163.4V311.8M216.26 163.4V311.8M226.43 163.4V311.8M236.6 163.4V311.8" stroke="#bbbbc3" stroke-width="0.45" fill="none"/>
<rect x="84.05" y="314.7" width="10.22" height="4.29" fill="#e9f2fb" />
<rect x="94.22" y="314.7" width="10.22" height="4.29" fill="#8cc0ea" />
<rect x="104.39" y="314.7" width="10.22" height="4.29" fill="#111b54" />
<rect x="114.56" y="314.7" width="10.22" height="4.29" fill="#184290" />
<rect x="124.73" y="314.7" width="10.22" height="4.29" fill="#e9f2fb" />
<rect x="134.9" y="314.7" width="10.22" height="4.29" fill="#f3f8fd" />
<rect x="145.07" y="314.7" width="10.22" height="4.29" fill="#8cc0ea" />
<rect x="155.24" y="314.7" width="10.22" height="4.29" fill="#e9f2fb" />
<rect x="165.41" y="314.7" width="10.22" height="4.29" fill="#f3f8fd" />
<rect x="175.58" y="314.7" width="10.22" height="4.29" fill="#f3f8fd" />
<rect x="185.75" y="314.7" width="10.22" height="4.29" fill="#f3f8fd" />
<rect x="195.92" y="314.7" width="10.22" height="4.29" fill="#f3f8fd" />
<rect x="206.09" y="314.7" width="10.22" height="4.29" fill="#f3f8fd" />
<rect x="216.26" y="314.7" width="10.22" height="4.29" fill="#f3f8fd" />
<rect x="84.05" y="318.94" width="10.22" height="4.29" fill="#f3f8fd" />
<rect x="94.22" y="318.94" width="10.22" height="4.29" fill="#e9f2fb" />
<rect x="104.39" y="318.94" width="10.22" height="4.29" fill="#62a4dc" />
<rect x="114.56" y="318.94" width="10.22" height="4.29" fill="#5498d6" />
<rect x="124.73" y="318.94" width="10.22" height="4.29" fill="#cde2f6" />
<rect x="134.9" y="318.94" width="10.22" height="4.29" fill="#f3f8fd" />
<rect x="145.07" y="318.94" width="10.22" height="4.29" fill="#b2d4f0" />
<rect x="155.24" y="318.94" width="10.22" height="4.29" fill="#e2eefa" />
<rect x="165.41" y="318.94" width="10.22" height="4.29" fill="#e9f2fb" />
<rect x="175.58" y="318.94" width="10.22" height="4.29" fill="#f3f8fd" />
<rect x="185.75" y="318.94" width="10.22" height="4.29" fill="#f3f8fd" />
<rect x="195.92" y="318.94" width="10.22" height="4.29" fill="#f3f8fd" />
<rect x="206.09" y="318.94" width="10.22" height="4.29" fill="#f3f8fd" />
<rect x="216.26" y="318.94" width="10.22" height="4.29" fill="#f3f8fd" />
<rect x="84.05" y="323.18" width="10.22" height="4.29" fill="#f3f8fd" />
<rect x="94.22" y="323.18" width="10.22" height="4.29" fill="#e9f2fb" />
<rect x="104.39" y="323.18" width="10.22" height="4.29" fill="#1f56a6" />
<rect x="114.56" y="323.18" width="10.22" height="4.29" fill="#1d509e" />
<rect x="124.73" y="323.18" width="10.22" height="4.29" fill="#8cc0ea" />
<rect x="145.07" y="323.18" width="10.22" height="4.29" fill="#e9f2fb" />
<rect x="155.24" y="323.18" width="10.22" height="4.29" fill="#e2eefa" />
<rect x="175.58" y="323.18" width="10.22" height="4.29" fill="#f3f8fd" />
<rect x="185.75" y="323.18" width="10.22" height="4.29" fill="#f3f8fd" />
<rect x="195.92" y="323.18" width="10.22" height="4.29" fill="#f3f8fd" />
<rect x="206.09" y="323.18" width="10.22" height="4.29" fill="#f3f8fd" />
<rect x="216.26" y="323.18" width="10.22" height="4.29" fill="#e9f2fb" />
<rect x="84.05" y="327.42" width="10.22" height="4.29" fill="#f3f8fd" />
<rect x="94.22" y="327.42" width="10.22" height="4.29" fill="#e9f2fb" />
<rect x="104.39" y="327.42" width="10.22" height="4.29" fill="#1d509e" />
<rect x="114.56" y="327.42" width="10.22" height="4.29" fill="#111b54" />
<rect x="124.73" y="327.42" width="10.22" height="4.29" fill="#8cc0ea" />
<rect x="145.07" y="327.42" width="10.22" height="4.29" fill="#e9f2fb" />
<rect x="165.41" y="327.42" width="10.22" height="4.29" fill="#f3f8fd" />
<rect x="175.58" y="327.42" width="10.22" height="4.29" fill="#f3f8fd" />
<rect x="185.75" y="327.42" width="10.22" height="4.29" fill="#f3f8fd" />
<rect x="195.92" y="327.42" width="10.22" height="4.29" fill="#f3f8fd" />
<rect x="206.09" y="327.42" width="10.22" height="4.29" fill="#f3f8fd" />
<rect x="216.26" y="327.42" width="10.22" height="4.29" fill="#e9f2fb" />
<path d="M33.2 314.7H236.6M33.2 318.94H236.6M33.2 323.18H236.6M33.2 327.42H236.6M33.2 331.66H236.6M33.2 314.7V331.66M43.37 314.7V331.66M53.54 314.7V331.66M63.71 314.7V331.66M73.88 314.7V331.66M84.05 314.7V331.66M94.22 314.7V331.66M104.39 314.7V331.66M114.56 314.7V331.66M124.73 314.7V331.66M134.9 314.7V331.66M145.07 314.7V331.66M155.24 314.7V331.66M165.41 314.7V331.66M175.58 314.7V331.66M185.75 314.7V331.66M195.92 314.7V331.66M206.09 314.7V331.66M216.26 314.7V331.66M226.43 314.7V331.66M236.6 314.7V331.66" stroke="#bbbbc3" stroke-width="0.45" fill="none"/>
<line x1="83.9" y1="154.5" x2="83.9" y2="333" stroke="#333" stroke-width="0.9" stroke-dasharray="2.2,1.6" />
<rect x="240" y="163.4" width="8.2" height="96.9" fill="#e05a3a" />
<rect x="240" y="260.3" width="8.2" height="17.6" fill="#6a8fc8" />
<rect x="240" y="277.9" width="8.2" height="17.1" fill="#7ab55c" />
<rect x="240" y="295" width="8.2" height="16.8" fill="#b463b8" />
<rect x="240" y="314.7" width="8.2" height="17" fill="#f0861e" />
<text x="254.2" y="218" font-size="4.4" fill="#444" stroke="#444" stroke-width="0.05" text-anchor="middle" transform="rotate(-90 254.2 218)" >KMT2A-R</text>
<text x="254.2" y="269.5" font-size="4.4" fill="#444" stroke="#444" stroke-width="0.05" text-anchor="middle" transform="rotate(-90 254.2 269.5)" >Ph+</text>
<text x="254.2" y="286.5" font-size="4.4" fill="#444" stroke="#444" stroke-width="0.05" text-anchor="middle" transform="rotate(-90 254.2 286.5)" >Ph-like</text>
<text x="254.2" y="303.5" font-size="4.4" fill="#444" stroke="#444" stroke-width="0.05" text-anchor="middle" transform="rotate(-90 254.2 303.5)" >iAMP21</text>
<text x="253.2" y="323.2" font-size="4.2" fill="#444" stroke="#444" stroke-width="0.05" text-anchor="middle" transform="rotate(-90 253.2 323.2)" >ETV6-</text>
<text x="257.6" y="323.2" font-size="4.2" fill="#444" stroke="#444" stroke-width="0.05" text-anchor="middle" transform="rotate(-90 257.6 323.2)" >RUNX1</text>
<defs><linearGradient id="cb435" x1="0" y1="1" x2="0" y2="0"><stop offset="0" stop-color="#f7fbff"/><stop offset="0.5" stop-color="#6aaed6"/><stop offset="1" stop-color="#08306b"/></linearGradient></defs>
<rect x="21" y="225.9" width="3" height="26.5" fill="url(#cb435)" />
<text x="25" y="228.4" font-size="4.2" fill="#555" stroke="#555" stroke-width="0.05" >0.3</text>
<text x="25" y="237.4" font-size="4.2" fill="#555" stroke="#555" stroke-width="0.05" >0.2</text>
<text x="25" y="246.2" font-size="4.2" fill="#555" stroke="#555" stroke-width="0.05" >0.1</text>
<text x="25" y="254.5" font-size="4.2" fill="#555" stroke="#555" stroke-width="0.05" >0</text>
<text x="16.3" y="240.4" font-size="3.8" fill="#555" stroke="#555" stroke-width="0.05" text-anchor="middle" transform="rotate(-90 16.3 240.4)" textLength="34.8" lengthAdjust="spacingAndGlyphs" >Projected Fraction</text>
<rect x="34.6" y="340.7" width="201.8" height="38.6" fill="none" stroke="#111" stroke-width="1.4" />
<line x1="31.8" y1="341.2" x2="34.6" y2="341.2" stroke="#111" stroke-width="0.9" />
<text x="28.4" y="343.5" font-size="6.5" fill="#333" stroke="#333" stroke-width="0.05" text-anchor="end" >1.5</text>
<line x1="31.8" y1="353.3" x2="34.6" y2="353.3" stroke="#111" stroke-width="0.9" />
<text x="28.4" y="355.6" font-size="6.5" fill="#333" stroke="#333" stroke-width="0.05" text-anchor="end" >1.0</text>
<line x1="31.8" y1="365.4" x2="34.6" y2="365.4" stroke="#111" stroke-width="0.9" />
<text x="28.4" y="367.7" font-size="6.5" fill="#333" stroke="#333" stroke-width="0.05" text-anchor="end" >0.5</text>
<line x1="31.8" y1="377.5" x2="34.6" y2="377.5" stroke="#111" stroke-width="0.9" />
<text x="28.4" y="379.8" font-size="6.5" fill="#333" stroke="#333" stroke-width="0.05" text-anchor="end" >0.0</text>
<line x1="41.25" y1="379.4" x2="41.25" y2="381.8" stroke="#111" stroke-width="0.8" />
<text x="41.25" y="390.8" font-size="6.4" fill="#333" stroke="#333" stroke-width="0.05" text-anchor="middle" >0</text>
<line x1="88.1" y1="379.4" x2="88.1" y2="381.8" stroke="#111" stroke-width="0.8" />
<text x="88.1" y="390.8" font-size="6.4" fill="#333" stroke="#333" stroke-width="0.05" text-anchor="middle" >5</text>
<line x1="134.95" y1="379.4" x2="134.95" y2="381.8" stroke="#111" stroke-width="0.8" />
<text x="134.95" y="390.8" font-size="6.4" fill="#333" stroke="#333" stroke-width="0.05" text-anchor="middle" >10</text>
<line x1="181.8" y1="379.4" x2="181.8" y2="381.8" stroke="#111" stroke-width="0.8" />
<text x="181.8" y="390.8" font-size="6.4" fill="#333" stroke="#333" stroke-width="0.05" text-anchor="middle" >15</text>
<line x1="228.65" y1="379.4" x2="228.65" y2="381.8" stroke="#111" stroke-width="0.8" />
<text x="228.65" y="390.8" font-size="6.4" fill="#333" stroke="#333" stroke-width="0.05" text-anchor="middle" >20</text>
<text x="12.8" y="359.8" font-size="6.6" fill="#333" stroke="#333" stroke-width="0.05" text-anchor="middle" transform="rotate(-90 12.8 359.8)" >Density</text>
<line x1="36" y1="377.6" x2="60" y2="377.6" stroke="#3a8a7a" stroke-width="1.3" />
<line x1="60" y1="377.6" x2="110" y2="377.6" stroke="#c05a3a" stroke-width="1.1" />
<line x1="110" y1="377.6" x2="206" y2="377.6" stroke="#d8b030" stroke-width="1.5" />
<path d="M41.25 377.5 C43.59 377.42 51.71 377.22 55.3 377.02 C58.9 376.81 60.46 376.73 62.8 376.29 C65.14 375.85 67.28 375.12 69.36 374.35 C71.44 373.59 72.98 372.78 75.26 371.69 C77.54 370.6 80.79 368.77 83.04 367.82 C85.29 366.87 87.13 365.8 88.76 366 C90.38 366.21 91.33 367.36 92.78 369.03 C94.24 370.7 95.91 374.64 97.47 376.05 C99.03 377.46 101.37 377.26 102.16 377.5" fill="none" stroke="#3a7ab8" stroke-width="1.3" stroke-linejoin="round"/>
<path d="M50.62 377.5 C53.74 377.46 65.61 377.5 69.36 377.26 C73.11 377.02 72.09 377.42 73.11 376.05 C74.12 374.68 74.75 371.81 75.45 369.03 C76.15 366.25 76.7 361.61 77.32 359.35 C77.95 357.09 78.57 355.48 79.2 355.48 C79.82 355.48 80.45 356.89 81.07 359.35 C81.7 361.81 82.32 367.42 82.95 370.24 C83.57 373.06 83.96 375.08 84.82 376.29 C85.68 377.5 87.55 377.3 88.1 377.5" fill="none" stroke="#6a4a7a" stroke-width="1.3" stroke-linejoin="round"/>
<path d="M36.56 377.5 C37.11 377.46 38.44 378.06 39.84 377.26 C41.25 376.45 42.92 374.31 45 372.66 C47.08 371.01 50.12 367.94 52.31 367.34 C54.49 366.73 56.37 368.3 58.12 369.03 C59.87 369.76 61.05 370.76 62.8 371.69 C64.55 372.62 66.74 373.91 68.61 374.6 C70.48 375.28 72.45 375.48 74.04 375.81 C75.64 376.13 76.51 376.27 78.17 376.53 C79.82 376.79 82.32 377.22 83.98 377.38 C85.63 377.54 87.41 377.48 88.1 377.5" fill="none" stroke="#d7262b" stroke-width="1.4" stroke-linejoin="round"/>
<path d="M88.1 377.5 C89.04 377.1 91.69 376.13 93.72 375.08 C95.75 374.03 98.41 372.01 100.28 371.21 C102.15 370.4 103.34 371.11 104.97 370.24 C106.59 369.37 108.46 366.21 110.03 366 C111.59 365.8 112.99 367.52 114.34 369.03 C115.68 370.54 116.83 373.75 118.08 375.08 C119.33 376.41 120.58 376.61 121.83 377.02 C123.08 377.42 124.96 377.42 125.58 377.5" fill="none" stroke="#4a9a4a" stroke-width="1.3" stroke-linejoin="round"/>
<path d="M115.27 377.5 C115.74 377.1 117.23 377.1 118.08 375.08 C118.94 373.06 119.8 367.42 120.43 365.4 C121.05 363.38 121.29 363.18 121.83 362.98 C122.38 362.78 123.08 364.39 123.71 364.19 C124.33 363.99 124.83 362.94 125.58 361.77 C126.33 360.6 127.5 356.97 128.2 357.17 C128.91 357.37 129.22 360.4 129.8 362.98 C130.37 365.56 131.05 370.32 131.67 372.66 C132.3 375 132.69 376.21 133.54 377.02 C134.4 377.82 136.28 377.42 136.82 377.5" fill="none" stroke="#5a6a58" stroke-width="1.3" stroke-linejoin="round"/>
<path d="M141.51 377.5 C142.13 377.18 143.79 376.94 145.26 375.56 C146.72 374.19 148.46 371.01 150.32 369.27 C152.18 367.54 154.38 365.36 156.41 365.16 C158.44 364.96 160.47 366.57 162.5 368.06 C164.53 369.55 166.84 372.58 168.59 374.11 C170.34 375.64 171.73 376.69 172.99 377.26 C174.26 377.82 175.65 377.46 176.18 377.5" fill="none" stroke="#8a3a9a" stroke-width="1.3" stroke-linejoin="round"/>
<path d="M158.38 377.5 C159.31 377.3 162.29 377.46 164 376.29 C165.7 375.12 167.21 372.46 168.59 370.48 C169.96 368.51 170.82 365.24 172.24 364.43 C173.66 363.63 175.48 365.24 177.11 365.64 C178.75 366.05 180.64 366.05 182.08 366.85 C183.52 367.66 184.31 368.87 185.74 370.48 C187.16 372.1 189.08 375.36 190.61 376.53 C192.14 377.7 194.2 377.34 194.92 377.5" fill="none" stroke="#d8561a" stroke-width="1.3" stroke-linejoin="round"/>
<path d="M188.36 377.5 C189.3 377.18 192.17 376.57 193.98 375.56 C195.79 374.56 197.14 372.34 199.23 371.45 C201.32 370.56 204.3 370.32 206.54 370.24 C208.77 370.16 211.13 371.17 212.63 370.97 C214.13 370.76 214.52 369.88 215.53 369.03 C216.55 368.18 217.78 365.68 218.72 365.88 C219.65 366.09 220.34 368.38 221.15 370.24 C221.97 372.1 222.65 375.81 223.59 377.02 C224.53 378.23 226.25 377.42 226.78 377.5" fill="none" stroke="#e0a820" stroke-width="1.3" stroke-linejoin="round"/>
<text x="42.1" y="365.4" font-size="5.8" fill="#d7262b" stroke="#d7262b" stroke-width="0.05" textLength="24.2" lengthAdjust="spacingAndGlyphs" >HSC/MPP</text>
<text x="65.2" y="354.4" font-size="5.8" fill="#6a4a7a" stroke="#6a4a7a" stroke-width="0.05" textLength="14.6" lengthAdjust="spacingAndGlyphs" >LMPP</text>
<text x="84.4" y="365.4" font-size="5.8" fill="#3a7ab8" stroke="#3a7ab8" stroke-width="0.05" textLength="8.3" lengthAdjust="spacingAndGlyphs" >CLP</text>
<text x="95.2" y="361.5" font-size="5.8" fill="#4a9a4a" stroke="#4a9a4a" stroke-width="0.05" textLength="24.4" lengthAdjust="spacingAndGlyphs" >Pre-pro-B</text>
<text x="121.7" y="352.7" font-size="5.8" fill="#6a6a6a" stroke="#6a6a6a" stroke-width="0.05" textLength="13.9" lengthAdjust="spacingAndGlyphs" >Pro-B</text>
<text x="151.5" y="363.2" font-size="5.8" fill="#8a3a9a" stroke="#8a3a9a" stroke-width="0.05" textLength="14.2" lengthAdjust="spacingAndGlyphs" >Pre-B</text>
<text x="170.6" y="361.5" font-size="5.8" fill="#d8561a" stroke="#d8561a" stroke-width="0.05" textLength="27.8" lengthAdjust="spacingAndGlyphs" >Immature-B</text>
<text x="210.1" y="364.9" font-size="5.8" fill="#e0a820" stroke="#e0a820" stroke-width="0.05" textLength="22" lengthAdjust="spacingAndGlyphs" >Mature-B</text>
<text x="269.5" y="16.3" font-size="10.6" fill="#111" font-weight="bold" stroke="#111" stroke-width="0.35">C</text>
<text x="295.8" y="12.2" font-size="6.2" fill="#222" stroke="#222" stroke-width="0.05" >T-ALL</text>
<line x1="296" y1="17" x2="316" y2="17" stroke="#111" stroke-width="0.8" />
<path d="M315 15 L320 17 L315 19 Z" fill="#111"/>
<text x="323.8" y="20" font-size="6.6" fill="#222" stroke="#222" stroke-width="0.05" >Pseudotime, T cell trajectory</text>
<text x="302.5" y="30.5" font-size="6.4" fill="#333" stroke="#333" stroke-width="0.05" >HSPC-like</text>
<text x="403" y="30.5" font-size="6.4" fill="#333" stroke="#333" stroke-width="0.05" >Lineage-like</text>
<rect x="317.4" y="34.5" width="10.25" height="4.25" fill="#e9f2fb" />
<rect x="327.6" y="34.5" width="10.25" height="4.25" fill="#111b54" />
<rect x="419.4" y="34.5" width="10.25" height="4.25" fill="#62a4dc" />
<rect x="307.2" y="38.7" width="10.25" height="4.25" fill="#7bb5e4" />
<rect x="317.4" y="38.7" width="10.25" height="4.25" fill="#cde2f6" />
<rect x="327.6" y="38.7" width="10.25" height="4.25" fill="#b2d4f0" />
<rect x="358.2" y="38.7" width="10.25" height="4.25" fill="#62a4dc" />
<rect x="368.4" y="38.7" width="10.25" height="4.25" fill="#cde2f6" />
<rect x="358.2" y="42.9" width="10.25" height="4.25" fill="#184290" />
<rect x="368.4" y="42.9" width="10.25" height="4.25" fill="#3e86cc" />
<rect x="378.6" y="42.9" width="10.25" height="4.25" fill="#e2eefa" />
<rect x="388.8" y="42.9" width="10.25" height="4.25" fill="#e2eefa" />
<rect x="317.4" y="47.1" width="10.25" height="4.25" fill="#e9f2fb" />
<rect x="327.6" y="47.1" width="10.25" height="4.25" fill="#184290" />
<rect x="358.2" y="47.1" width="10.25" height="4.25" fill="#e9f2fb" />
<rect x="368.4" y="47.1" width="10.25" height="4.25" fill="#8cc0ea" />
<rect x="419.4" y="47.1" width="10.25" height="4.25" fill="#cde2f6" />
<rect x="307.2" y="51.3" width="10.25" height="4.25" fill="#e9f2fb" />
<rect x="317.4" y="51.3" width="10.25" height="4.25" fill="#73afe2" />
<rect x="327.6" y="51.3" width="10.25" height="4.25" fill="#5498d6" />
<rect x="358.2" y="51.3" width="10.25" height="4.25" fill="#cde2f6" />
<rect x="368.4" y="51.3" width="10.25" height="4.25" fill="#e9f2fb" />
<rect x="419.4" y="51.3" width="10.25" height="4.25" fill="#cde2f6" />
<rect x="317.4" y="55.5" width="10.25" height="4.25" fill="#e9f2fb" />
<rect x="358.2" y="55.5" width="10.25" height="4.25" fill="#dae9f8" />
<rect x="368.4" y="55.5" width="10.25" height="4.25" fill="#e2eefa" />
<rect x="419.4" y="55.5" width="10.25" height="4.25" fill="#f3f8fd" />
<rect x="429.6" y="55.5" width="10.25" height="4.25" fill="#f3f8fd" />
<rect x="439.8" y="55.5" width="10.25" height="4.25" fill="#e9f2fb" />
<rect x="450" y="55.5" width="10.25" height="4.25" fill="#8cc0ea" />
<rect x="460.2" y="55.5" width="10.25" height="4.25" fill="#5b9ed9" />
<rect x="470.4" y="55.5" width="10.25" height="4.25" fill="#8cc0ea" />
<rect x="307.2" y="59.7" width="10.25" height="4.25" fill="#e9f2fb" />
<rect x="317.4" y="59.7" width="10.25" height="4.25" fill="#e9f2fb" />
<rect x="358.2" y="59.7" width="10.25" height="4.25" fill="#e9f2fb" />
<rect x="368.4" y="59.7" width="10.25" height="4.25" fill="#e2eefa" />
<rect x="460.2" y="59.7" width="10.25" height="4.25" fill="#b2d4f0" />
<rect x="470.4" y="59.7" width="10.25" height="4.25" fill="#b2d4f0" />
<rect x="480.6" y="59.7" width="10.25" height="4.25" fill="#b2d4f0" />
<rect x="317.4" y="63.9" width="10.25" height="4.25" fill="#cde2f6" />
<rect x="327.6" y="63.9" width="10.25" height="4.25" fill="#62a4dc" />
<rect x="358.2" y="63.9" width="10.25" height="4.25" fill="#cde2f6" />
<rect x="368.4" y="63.9" width="10.25" height="4.25" fill="#cde2f6" />
<rect x="419.4" y="63.9" width="10.25" height="4.25" fill="#e2eefa" />
<rect x="317.4" y="68.1" width="10.25" height="4.25" fill="#2464b4" />
<rect x="327.6" y="68.1" width="10.25" height="4.25" fill="#111b54" />
<rect x="358.2" y="68.1" width="10.25" height="4.25" fill="#e9f2fb" />
<rect x="368.4" y="68.1" width="10.25" height="4.25" fill="#e9f2fb" />
<rect x="317.4" y="72.3" width="10.25" height="4.25" fill="#e9f2fb" />
<rect x="327.6" y="72.3" width="10.25" height="4.25" fill="#111b54" />
<rect x="358.2" y="72.3" width="10.25" height="4.25" fill="#e9f2fb" />
<rect x="368.4" y="72.3" width="10.25" height="4.25" fill="#e9f2fb" />
<rect x="358.2" y="76.5" width="10.25" height="4.25" fill="#e9f2fb" />
<rect x="368.4" y="76.5" width="10.25" height="4.25" fill="#e9f2fb" />
<rect x="378.6" y="76.5" width="10.25" height="4.25" fill="#e9f2fb" />
<rect x="388.8" y="76.5" width="10.25" height="4.25" fill="#cde2f6" />
<rect x="399" y="76.5" width="10.25" height="4.25" fill="#cde2f6" />
<rect x="409.2" y="76.5" width="10.25" height="4.25" fill="#dae9f8" />
<rect x="419.4" y="76.5" width="10.25" height="4.25" fill="#e9f2fb" />
<rect x="450" y="76.5" width="10.25" height="4.25" fill="#8cc0ea" />
<rect x="460.2" y="76.5" width="10.25" height="4.25" fill="#e9f2fb" />
<rect x="470.4" y="76.5" width="10.25" height="4.25" fill="#dae9f8" />
<rect x="480.6" y="76.5" width="10.25" height="4.25" fill="#cde2f6" />
<rect x="358.2" y="80.7" width="10.25" height="4.25" fill="#111b54" />
<rect x="368.4" y="80.7" width="10.25" height="4.25" fill="#8cc0ea" />
<rect x="327.6" y="84.9" width="10.25" height="4.25" fill="#e9f2fb" />
<rect x="358.2" y="84.9" width="10.25" height="4.25" fill="#3e86cc" />
<rect x="368.4" y="84.9" width="10.25" height="4.25" fill="#153278" />
<rect x="378.6" y="84.9" width="10.25" height="4.25" fill="#e9f2fb" />
<rect x="327.6" y="89.1" width="10.25" height="4.25" fill="#cde2f6" />
<rect x="358.2" y="89.1" width="10.25" height="4.25" fill="#e9f2fb" />
<rect x="368.4" y="89.1" width="10.25" height="4.25" fill="#111b54" />
<rect x="378.6" y="89.1" width="10.25" height="4.25" fill="#cde2f6" />
<rect x="317.4" y="93.3" width="10.25" height="4.25" fill="#e9f2fb" />
<rect x="327.6" y="93.3" width="10.25" height="4.25" fill="#111b54" />
<rect x="358.2" y="93.3" width="10.25" height="4.25" fill="#cde2f6" />
<rect x="368.4" y="93.3" width="10.25" height="4.25" fill="#e9f2fb" />
<rect x="378.6" y="93.3" width="10.25" height="4.25" fill="#cde2f6" />
<rect x="358.2" y="97.5" width="10.25" height="4.25" fill="#8cc0ea" />
<rect x="368.4" y="97.5" width="10.25" height="4.25" fill="#62a4dc" />
<rect x="378.6" y="97.5" width="10.25" height="4.25" fill="#73afe2" />
<rect x="388.8" y="97.5" width="10.25" height="4.25" fill="#dae9f8" />
<rect x="358.2" y="101.7" width="10.25" height="4.25" fill="#e9f2fb" />
<rect x="368.4" y="101.7" width="10.25" height="4.25" fill="#e9f2fb" />
<rect x="378.6" y="101.7" width="10.25" height="4.25" fill="#5498d6" />
<rect x="388.8" y="101.7" width="10.25" height="4.25" fill="#111b54" />
<rect x="358.2" y="105.9" width="10.25" height="4.25" fill="#e9f2fb" />
<rect x="368.4" y="105.9" width="10.25" height="4.25" fill="#e9f2fb" />
<rect x="378.6" y="105.9" width="10.25" height="4.25" fill="#cde2f6" />
<rect x="388.8" y="105.9" width="10.25" height="4.25" fill="#e9f2fb" />
<rect x="327.6" y="110.1" width="10.25" height="4.25" fill="#cde2f6" />
<rect x="358.2" y="110.1" width="10.25" height="4.25" fill="#e9f2fb" />
<rect x="368.4" y="110.1" width="10.25" height="4.25" fill="#e9f2fb" />
<rect x="378.6" y="110.1" width="10.25" height="4.25" fill="#e9f2fb" />
<rect x="419.4" y="110.1" width="10.25" height="4.25" fill="#2e72be" />
<rect x="429.6" y="110.1" width="10.25" height="4.25" fill="#e9f2fb" />
<rect x="439.8" y="110.1" width="10.25" height="4.25" fill="#e9f2fb" />
<rect x="358.2" y="114.3" width="10.25" height="4.25" fill="#cde2f6" />
<rect x="368.4" y="114.3" width="10.25" height="4.25" fill="#111b54" />
<rect x="378.6" y="114.3" width="10.25" height="4.25" fill="#2e72be" />
<rect x="388.8" y="114.3" width="10.25" height="4.25" fill="#e2eefa" />
<rect x="358.2" y="118.5" width="10.25" height="4.25" fill="#cde2f6" />
<rect x="368.4" y="118.5" width="10.25" height="4.25" fill="#2e72be" />
<rect x="378.6" y="118.5" width="10.25" height="4.25" fill="#3e86cc" />
<rect x="388.8" y="118.5" width="10.25" height="4.25" fill="#e2eefa" />
<rect x="419.4" y="118.5" width="10.25" height="4.25" fill="#e9f2fb" />
<rect x="429.6" y="118.5" width="10.25" height="4.25" fill="#e9f2fb" />
<rect x="358.2" y="122.7" width="10.25" height="4.25" fill="#b2d4f0" />
<rect x="368.4" y="122.7" width="10.25" height="4.25" fill="#b2d4f0" />
<rect x="378.6" y="122.7" width="10.25" height="4.25" fill="#e9f2fb" />
<rect x="419.4" y="122.7" width="10.25" height="4.25" fill="#cde2f6" />
<rect x="429.6" y="122.7" width="10.25" height="4.25" fill="#dae9f8" />
<rect x="439.8" y="122.7" width="10.25" height="4.25" fill="#dae9f8" />
<rect x="358.2" y="126.9" width="10.25" height="4.25" fill="#5498d6" />
<rect x="368.4" y="126.9" width="10.25" height="4.25" fill="#62a4dc" />
<rect x="378.6" y="126.9" width="10.25" height="4.25" fill="#cde2f6" />
<rect x="388.8" y="126.9" width="10.25" height="4.25" fill="#b2d4f0" />
<rect x="419.4" y="131.1" width="10.25" height="4.25" fill="#e9f2fb" />
<rect x="429.6" y="131.1" width="10.25" height="4.25" fill="#9bc8ec" />
<rect x="439.8" y="131.1" width="10.25" height="4.25" fill="#9bc8ec" />
<rect x="450" y="131.1" width="10.25" height="4.25" fill="#9bc8ec" />
<rect x="317.4" y="135.3" width="10.25" height="4.25" fill="#e9f2fb" />
<rect x="358.2" y="135.3" width="10.25" height="4.25" fill="#e9f2fb" />
<rect x="368.4" y="135.3" width="10.25" height="4.25" fill="#b2d4f0" />
<rect x="378.6" y="135.3" width="10.25" height="4.25" fill="#e9f2fb" />
<rect x="419.4" y="135.3" width="10.25" height="4.25" fill="#b2d4f0" />
<rect x="317.4" y="139.5" width="10.25" height="4.25" fill="#e9f2fb" />
<rect x="327.6" y="139.5" width="10.25" height="4.25" fill="#e9f2fb" />
<rect x="358.2" y="139.5" width="10.25" height="4.25" fill="#cde2f6" />
<rect x="368.4" y="139.5" width="10.25" height="4.25" fill="#e9f2fb" />
<rect x="378.6" y="139.5" width="10.25" height="4.25" fill="#111b54" />
<rect x="388.8" y="139.5" width="10.25" height="4.25" fill="#62a4dc" />
<rect x="327.6" y="143.7" width="10.25" height="4.25" fill="#e9f2fb" />
<rect x="358.2" y="143.7" width="10.25" height="4.25" fill="#cde2f6" />
<rect x="368.4" y="143.7" width="10.25" height="4.25" fill="#e9f2fb" />
<rect x="460.2" y="143.7" width="10.25" height="4.25" fill="#9bc8ec" />
<rect x="470.4" y="143.7" width="10.25" height="4.25" fill="#9bc8ec" />
<rect x="327.6" y="147.9" width="10.25" height="4.25" fill="#cde2f6" />
<rect x="358.2" y="147.9" width="10.25" height="4.25" fill="#cde2f6" />
<rect x="368.4" y="147.9" width="10.25" height="4.25" fill="#e9f2fb" />
<rect x="378.6" y="147.9" width="10.25" height="4.25" fill="#e9f2fb" />
<rect x="388.8" y="147.9" width="10.25" height="4.25" fill="#e9f2fb" />
<rect x="460.2" y="147.9" width="10.25" height="4.25" fill="#e9f2fb" />
<rect x="470.4" y="147.9" width="10.25" height="4.25" fill="#e9f2fb" />
<rect x="317.4" y="152.1" width="10.25" height="4.25" fill="#62a4dc" />
<rect x="327.6" y="152.1" width="10.25" height="4.25" fill="#184290" />
<rect x="358.2" y="152.1" width="10.25" height="4.25" fill="#e9f2fb" />
<rect x="368.4" y="152.1" width="10.25" height="4.25" fill="#e9f2fb" />
<rect x="378.6" y="152.1" width="10.25" height="4.25" fill="#e9f2fb" />
<rect x="317.4" y="156.3" width="10.25" height="4.25" fill="#e9f2fb" />
<rect x="358.2" y="156.3" width="10.25" height="4.25" fill="#62a4dc" />
<rect x="368.4" y="156.3" width="10.25" height="4.25" fill="#62a4dc" />
<rect x="378.6" y="156.3" width="10.25" height="4.25" fill="#b2d4f0" />
<rect x="388.8" y="156.3" width="10.25" height="4.25" fill="#e9f2fb" />
<path d="M297 34.5H501M297 38.7H501M297 42.9H501M297 47.1H501M297 51.3H501M297 55.5H501M297 59.7H501M297 63.9H501M297 68.1H501M297 72.3H501M297 76.5H501M297 80.7H501M297 84.9H501M297 89.1H501M297 93.3H501M297 97.5H501M297 101.7H501M297 105.9H501M297 110.1H501M297 114.3H501M297 118.5H501M297 122.7H501M297 126.9H501M297 131.1H501M297 135.3H501M297 139.5H501M297 143.7H501M297 147.9H501M297 152.1H501M297 156.3H501M297 160.5H501M297 34.5V160.5M307.2 34.5V160.5M317.4 34.5V160.5M327.6 34.5V160.5M337.8 34.5V160.5M348 34.5V160.5M358.2 34.5V160.5M368.4 34.5V160.5M378.6 34.5V160.5M388.8 34.5V160.5M399 34.5V160.5M409.2 34.5V160.5M419.4 34.5V160.5M429.6 34.5V160.5M439.8 34.5V160.5M450 34.5V160.5M460.2 34.5V160.5M470.4 34.5V160.5M480.6 34.5V160.5M490.8 34.5V160.5M501 34.5V160.5" stroke="#bbbbc3" stroke-width="0.45" fill="none"/>
<rect x="358.2" y="167.6" width="10.25" height="4.24" fill="#e9f2fb" />
<rect x="368.4" y="167.6" width="10.25" height="4.24" fill="#184290" />
<rect x="378.6" y="167.6" width="10.25" height="4.24" fill="#cde2f6" />
<rect x="388.8" y="167.6" width="10.25" height="4.24" fill="#e9f2fb" />
<rect x="399" y="167.6" width="10.25" height="4.24" fill="#e9f2fb" />
<rect x="409.2" y="167.6" width="10.25" height="4.24" fill="#e9f2fb" />
<rect x="419.4" y="167.6" width="10.25" height="4.24" fill="#111b54" />
<rect x="429.6" y="167.6" width="10.25" height="4.24" fill="#62a4dc" />
<rect x="439.8" y="167.6" width="10.25" height="4.24" fill="#62a4dc" />
<rect x="450" y="167.6" width="10.25" height="4.24" fill="#62a4dc" />
<rect x="460.2" y="167.6" width="10.25" height="4.24" fill="#62a4dc" />
<rect x="470.4" y="167.6" width="10.25" height="4.24" fill="#62a4dc" />
<rect x="317.4" y="171.79" width="10.25" height="4.24" fill="#2464b4" />
<rect x="327.6" y="171.79" width="10.25" height="4.24" fill="#8cc0ea" />
<rect x="358.2" y="171.79" width="10.25" height="4.24" fill="#2464b4" />
<rect x="368.4" y="171.79" width="10.25" height="4.24" fill="#2e72be" />
<rect x="378.6" y="171.79" width="10.25" height="4.24" fill="#cde2f6" />
<rect x="388.8" y="171.79" width="10.25" height="4.24" fill="#b2d4f0" />
<rect x="399" y="171.79" width="10.25" height="4.24" fill="#cde2f6" />
<rect x="409.2" y="171.79" width="10.25" height="4.24" fill="#cde2f6" />
<rect x="429.6" y="171.79" width="10.25" height="4.24" fill="#e9f2fb" />
<rect x="439.8" y="171.79" width="10.25" height="4.24" fill="#e9f2fb" />
<rect x="450" y="171.79" width="10.25" height="4.24" fill="#e9f2fb" />
<rect x="460.2" y="171.79" width="10.25" height="4.24" fill="#e9f2fb" />
<rect x="470.4" y="171.79" width="10.25" height="4.24" fill="#e9f2fb" />
<rect x="358.2" y="175.98" width="10.25" height="4.24" fill="#e9f2fb" />
<rect x="368.4" y="175.98" width="10.25" height="4.24" fill="#8cc0ea" />
<rect x="378.6" y="175.98" width="10.25" height="4.24" fill="#a3ccee" />
<rect x="419.4" y="175.98" width="10.25" height="4.24" fill="#111b54" />
<rect x="429.6" y="175.98" width="10.25" height="4.24" fill="#b2d4f0" />
<rect x="439.8" y="175.98" width="10.25" height="4.24" fill="#8cc0ea" />
<rect x="450" y="175.98" width="10.25" height="4.24" fill="#8cc0ea" />
<rect x="460.2" y="175.98" width="10.25" height="4.24" fill="#cde2f6" />
<rect x="470.4" y="175.98" width="10.25" height="4.24" fill="#4c92d2" />
<rect x="358.2" y="180.17" width="10.25" height="4.24" fill="#cde2f6" />
<rect x="368.4" y="180.17" width="10.25" height="4.24" fill="#8cc0ea" />
<rect x="378.6" y="180.17" width="10.25" height="4.24" fill="#111b54" />
<rect x="388.8" y="180.17" width="10.25" height="4.24" fill="#111b54" />
<rect x="409.2" y="180.17" width="10.25" height="4.24" fill="#e9f2fb" />
<rect x="419.4" y="180.17" width="10.25" height="4.24" fill="#e2eefa" />
<rect x="429.6" y="180.17" width="10.25" height="4.24" fill="#cde2f6" />
<rect x="439.8" y="180.17" width="10.25" height="4.24" fill="#cde2f6" />
<rect x="450" y="180.17" width="10.25" height="4.24" fill="#e2eefa" />
<rect x="460.2" y="180.17" width="10.25" height="4.24" fill="#cde2f6" />
<rect x="470.4" y="180.17" width="10.25" height="4.24" fill="#e9f2fb" />
<rect x="358.2" y="184.36" width="10.25" height="4.24" fill="#dae9f8" />
<rect x="368.4" y="184.36" width="10.25" height="4.24" fill="#8cc0ea" />
<rect x="378.6" y="184.36" width="10.25" height="4.24" fill="#111b54" />
<rect x="388.8" y="184.36" width="10.25" height="4.24" fill="#111b54" />
<rect x="409.2" y="184.36" width="10.25" height="4.24" fill="#e9f2fb" />
<rect x="419.4" y="184.36" width="10.25" height="4.24" fill="#e9f2fb" />
<rect x="429.6" y="184.36" width="10.25" height="4.24" fill="#e9f2fb" />
<rect x="439.8" y="184.36" width="10.25" height="4.24" fill="#e9f2fb" />
<rect x="450" y="184.36" width="10.25" height="4.24" fill="#e9f2fb" />
<rect x="460.2" y="184.36" width="10.25" height="4.24" fill="#e9f2fb" />
<rect x="358.2" y="188.55" width="10.25" height="4.24" fill="#cde2f6" />
<rect x="368.4" y="188.55" width="10.25" height="4.24" fill="#8cc0ea" />
<rect x="378.6" y="188.55" width="10.25" height="4.24" fill="#111b54" />
<rect x="388.8" y="188.55" width="10.25" height="4.24" fill="#142b6c" />
<rect x="419.4" y="188.55" width="10.25" height="4.24" fill="#111b54" />
<rect x="429.6" y="188.55" width="10.25" height="4.24" fill="#cde2f6" />
<rect x="439.8" y="188.55" width="10.25" height="4.24" fill="#e9f2fb" />
<rect x="358.2" y="192.74" width="10.25" height="4.24" fill="#111b54" />
<rect x="368.4" y="192.74" width="10.25" height="4.24" fill="#62a4dc" />
<rect x="378.6" y="192.74" width="10.25" height="4.24" fill="#e9f2fb" />
<rect x="419.4" y="192.74" width="10.25" height="4.24" fill="#e9f2fb" />
<rect x="429.6" y="192.74" width="10.25" height="4.24" fill="#cde2f6" />
<rect x="439.8" y="192.74" width="10.25" height="4.24" fill="#62a4dc" />
<rect x="450" y="192.74" width="10.25" height="4.24" fill="#e9f2fb" />
<rect x="460.2" y="192.74" width="10.25" height="4.24" fill="#111b54" />
<rect x="470.4" y="192.74" width="10.25" height="4.24" fill="#cde2f6" />
<rect x="388.8" y="196.93" width="10.25" height="4.24" fill="#e9f2fb" />
<rect x="399" y="196.93" width="10.25" height="4.24" fill="#111b54" />
<rect x="409.2" y="196.93" width="10.25" height="4.24" fill="#111b54" />
<rect x="419.4" y="196.93" width="10.25" height="4.24" fill="#e9f2fb" />
<rect x="429.6" y="196.93" width="10.25" height="4.24" fill="#cde2f6" />
<rect x="439.8" y="196.93" width="10.25" height="4.24" fill="#cde2f6" />
<rect x="450" y="196.93" width="10.25" height="4.24" fill="#8cc0ea" />
<rect x="460.2" y="196.93" width="10.25" height="4.24" fill="#3e86cc" />
<rect x="470.4" y="196.93" width="10.25" height="4.24" fill="#e9f2fb" />
<rect x="358.2" y="201.12" width="10.25" height="4.24" fill="#184290" />
<rect x="368.4" y="201.12" width="10.25" height="4.24" fill="#111b54" />
<rect x="378.6" y="201.12" width="10.25" height="4.24" fill="#2e72be" />
<rect x="388.8" y="201.12" width="10.25" height="4.24" fill="#cde2f6" />
<rect x="419.4" y="201.12" width="10.25" height="4.24" fill="#e9f2fb" />
<rect x="429.6" y="201.12" width="10.25" height="4.24" fill="#cde2f6" />
<rect x="439.8" y="201.12" width="10.25" height="4.24" fill="#e9f2fb" />
<rect x="450" y="201.12" width="10.25" height="4.24" fill="#e9f2fb" />
<rect x="460.2" y="201.12" width="10.25" height="4.24" fill="#cde2f6" />
<rect x="470.4" y="201.12" width="10.25" height="4.24" fill="#e9f2fb" />
<rect x="358.2" y="205.31" width="10.25" height="4.24" fill="#3e86cc" />
<rect x="368.4" y="205.31" width="10.25" height="4.24" fill="#111b54" />
<rect x="378.6" y="205.31" width="10.25" height="4.24" fill="#111b54" />
<rect x="388.8" y="205.31" width="10.25" height="4.24" fill="#cde2f6" />
<rect x="419.4" y="205.31" width="10.25" height="4.24" fill="#e9f2fb" />
<rect x="429.6" y="205.31" width="10.25" height="4.24" fill="#b2d4f0" />
<rect x="439.8" y="205.31" width="10.25" height="4.24" fill="#b2d4f0" />
<rect x="450" y="205.31" width="10.25" height="4.24" fill="#e9f2fb" />
<rect x="460.2" y="205.31" width="10.25" height="4.24" fill="#e9f2fb" />
<rect x="470.4" y="205.31" width="10.25" height="4.24" fill="#e9f2fb" />
<path d="M297 167.6H501M297 171.79H501M297 175.98H501M297 180.17H501M297 184.36H501M297 188.55H501M297 192.74H501M297 196.93H501M297 201.12H501M297 205.31H501M297 209.5H501M297 167.6V209.5M307.2 167.6V209.5M317.4 167.6V209.5M327.6 167.6V209.5M337.8 167.6V209.5M348 167.6V209.5M358.2 167.6V209.5M368.4 167.6V209.5M378.6 167.6V209.5M388.8 167.6V209.5M399 167.6V209.5M409.2 167.6V209.5M419.4 167.6V209.5M429.6 167.6V209.5M439.8 167.6V209.5M450 167.6V209.5M460.2 167.6V209.5M470.4 167.6V209.5M480.6 167.6V209.5M490.8 167.6V209.5M501 167.6V209.5" stroke="#bbbbc3" stroke-width="0.45" fill="none"/>
<line x1="338.2" y1="24" x2="338.2" y2="212" stroke="#333" stroke-width="0.8" stroke-dasharray="2,1.5" />
<line x1="296.5" y1="115.3" x2="512.5" y2="115.3" stroke="#333" stroke-width="0.9" stroke-dasharray="3.5,2.3" />
<rect x="502.5" y="34.5" width="10.3" height="4.25" fill="#3b1a76" />
<rect x="502.5" y="38.7" width="10.3" height="4.25" fill="#44208a" />
<rect x="502.5" y="42.9" width="10.3" height="4.25" fill="#52298f" />
<rect x="502.5" y="47.1" width="10.3" height="4.25" fill="#613a9e" />
<rect x="502.5" y="51.3" width="10.3" height="4.25" fill="#8d7dc2" />
<rect x="502.5" y="55.5" width="10.3" height="4.2" fill="#c9c1e2" stroke="#d4d4dc" stroke-width="0.3" />
<rect x="502.5" y="59.7" width="10.3" height="4.2" fill="#d0c9e6" stroke="#d4d4dc" stroke-width="0.3" />
<rect x="502.5" y="63.9" width="10.3" height="4.2" fill="#d4cee8" stroke="#d4d4dc" stroke-width="0.3" />
<rect x="502.5" y="68.1" width="10.3" height="4.2" fill="#d7d2ea" stroke="#d4d4dc" stroke-width="0.3" />
<rect x="502.5" y="72.3" width="10.3" height="4.2" fill="#dad5eb" stroke="#d4d4dc" stroke-width="0.3" />
<rect x="502.5" y="76.5" width="10.3" height="4.2" fill="#dcd8ec" stroke="#d4d4dc" stroke-width="0.3" />
<rect x="502.5" y="80.7" width="10.3" height="4.2" fill="#dfdbee" stroke="#d4d4dc" stroke-width="0.3" />
<rect x="502.5" y="84.9" width="10.3" height="4.2" fill="#e1deef" stroke="#d4d4dc" stroke-width="0.3" />
<rect x="502.5" y="89.1" width="10.3" height="4.2" fill="#e3e0f0" stroke="#d4d4dc" stroke-width="0.3" />
<rect x="502.5" y="93.3" width="10.3" height="4.2" fill="#e5e3f1" stroke="#d4d4dc" stroke-width="0.3" />
<rect x="502.5" y="97.5" width="10.3" height="4.2" fill="#e8e6f3" stroke="#d4d4dc" stroke-width="0.3" />
<rect x="502.5" y="101.7" width="10.3" height="4.2" fill="#ebe9f4" stroke="#d4d4dc" stroke-width="0.3" />
<rect x="502.5" y="105.9" width="10.3" height="4.2" fill="#eeedf6" stroke="#d4d4dc" stroke-width="0.3" />
<rect x="502.5" y="110.1" width="10.3" height="4.2" fill="#ffffff" stroke="#d4d4dc" stroke-width="0.3" />
<rect x="502.5" y="114.3" width="10.3" height="4.2" fill="#ffffff" stroke="#d4d4dc" stroke-width="0.3" />
<rect x="502.5" y="118.5" width="10.3" height="4.2" fill="#ffffff" stroke="#d4d4dc" stroke-width="0.3" />
<rect x="502.5" y="122.7" width="10.3" height="4.2" fill="#ffffff" stroke="#d4d4dc" stroke-width="0.3" />
<rect x="502.5" y="126.9" width="10.3" height="4.2" fill="#ffffff" stroke="#d4d4dc" stroke-width="0.3" />
<rect x="502.5" y="131.1" width="10.3" height="4.2" fill="#ffffff" stroke="#d4d4dc" stroke-width="0.3" />
<rect x="502.5" y="135.3" width="10.3" height="4.2" fill="#ffffff" stroke="#d4d4dc" stroke-width="0.3" />
<rect x="502.5" y="139.5" width="10.3" height="4.2" fill="#ffffff" stroke="#d4d4dc" stroke-width="0.3" />
<rect x="502.5" y="143.7" width="10.3" height="4.2" fill="#ffffff" stroke="#d4d4dc" stroke-width="0.3" />
<rect x="502.5" y="147.9" width="10.3" height="4.2" fill="#ffffff" stroke="#d4d4dc" stroke-width="0.3" />
<rect x="502.5" y="152.1" width="10.3" height="4.2" fill="#ffffff" stroke="#d4d4dc" stroke-width="0.3" />
<rect x="502.5" y="156.3" width="10.3" height="4.2" fill="#ffffff" stroke="#d4d4dc" stroke-width="0.3" />
<text x="507.6" y="38" font-size="3" fill="#fff" stroke="#fff" stroke-width="0.05" text-anchor="middle" >76.7%</text>
<text x="507.6" y="159.8" font-size="3.3" fill="#555" stroke="#555" stroke-width="0.05" text-anchor="middle" >0%</text>
<rect x="502.5" y="167.6" width="10.3" height="4.19" fill="#2f1b6c" stroke="#d0d0d0" stroke-width="0.25" />
<rect x="502.5" y="171.79" width="10.3" height="4.19" fill="#6e5eae" stroke="#d0d0d0" stroke-width="0.25" />
<rect x="502.5" y="175.98" width="10.3" height="4.19" fill="#ffffff" stroke="#d0d0d0" stroke-width="0.25" />
<rect x="502.5" y="180.17" width="10.3" height="4.19" fill="#ffffff" stroke="#d0d0d0" stroke-width="0.25" />
<rect x="502.5" y="184.36" width="10.3" height="4.19" fill="#ffffff" stroke="#d0d0d0" stroke-width="0.25" />
<rect x="502.5" y="188.55" width="10.3" height="4.19" fill="#ffffff" stroke="#d0d0d0" stroke-width="0.25" />
<rect x="502.5" y="192.74" width="10.3" height="4.19" fill="#ffffff" stroke="#d0d0d0" stroke-width="0.25" />
<rect x="502.5" y="196.93" width="10.3" height="4.19" fill="#ffffff" stroke="#d0d0d0" stroke-width="0.25" />
<rect x="502.5" y="201.12" width="10.3" height="4.19" fill="#ffffff" stroke="#d0d0d0" stroke-width="0.25" />
<rect x="502.5" y="205.31" width="10.3" height="4.19" fill="#ffffff" stroke="#d0d0d0" stroke-width="0.25" />
<text x="507.6" y="171" font-size="3" fill="#fff" stroke="#fff" stroke-width="0.05" text-anchor="middle" >1.5%</text>
<text x="507.6" y="209" font-size="3.3" fill="#555" stroke="#555" stroke-width="0.05" text-anchor="middle" >0%</text>
<text x="292.8" y="74.8" font-size="5.4" fill="#333" stroke="#333" stroke-width="0.05" text-anchor="middle" transform="rotate(-90 292.8 74.8)" textLength="44.5" lengthAdjust="spacingAndGlyphs" >ETP/Near-ETP ALL</text>
<text x="292.8" y="187.9" font-size="5.4" fill="#333" stroke="#333" stroke-width="0.05" text-anchor="middle" transform="rotate(-90 292.8 187.9)" textLength="32" lengthAdjust="spacingAndGlyphs" >Non-ETP ALL</text>
<defs><linearGradient id="cb2961" x1="0" y1="1" x2="0" y2="0"><stop offset="0" stop-color="#f7fbff"/><stop offset="0.5" stop-color="#6aaed6"/><stop offset="1" stop-color="#08306b"/></linearGradient></defs>
<rect x="283.8" y="123" width="2.7" height="22" fill="url(#cb2961)" />
<text x="287.7" y="125.2" font-size="3.9" fill="#555" stroke="#555" stroke-width="0.05" >0.5</text>
<text x="287.7" y="130.6" font-size="3.9" fill="#555" stroke="#555" stroke-width="0.05" >0.4</text>
<text x="287.7" y="136" font-size="3.9" fill="#555" stroke="#555" stroke-width="0.05" >0.3</text>
<text x="287.7" y="141.7" font-size="3.9" fill="#555" stroke="#555" stroke-width="0.05" >0.2</text>
<text x="287.7" y="147.1" font-size="3.9" fill="#555" stroke="#555" stroke-width="0.05" >0.1</text>
<text x="287.7" y="152.2" font-size="3.9" fill="#555" stroke="#555" stroke-width="0.05" >0</text>
<text x="280.8" y="137.3" font-size="3.2" fill="#555" stroke="#555" stroke-width="0.05" text-anchor="middle" transform="rotate(-90 280.8 137.3)" textLength="34" lengthAdjust="spacingAndGlyphs" >Projected Fraction</text>
<rect x="297.6" y="218.5" width="202" height="37.2" fill="none" stroke="#111" stroke-width="1.4" />
<line x1="294.2" y1="218.7" x2="297.5" y2="218.7" stroke="#111" stroke-width="0.9" />
<text x="290.8" y="220.9" font-size="6.4" fill="#333" stroke="#333" stroke-width="0.05" text-anchor="end" >1.5</text>
<line x1="294.2" y1="230.8" x2="297.5" y2="230.8" stroke="#111" stroke-width="0.9" />
<text x="290.8" y="233" font-size="6.4" fill="#333" stroke="#333" stroke-width="0.05" text-anchor="end" >1.0</text>
<line x1="294.2" y1="242.9" x2="297.5" y2="242.9" stroke="#111" stroke-width="0.9" />
<text x="290.8" y="245.1" font-size="6.4" fill="#333" stroke="#333" stroke-width="0.05" text-anchor="end" >0.5</text>
<line x1="294.2" y1="255" x2="297.5" y2="255" stroke="#111" stroke-width="0.9" />
<text x="290.8" y="257.2" font-size="6.4" fill="#333" stroke="#333" stroke-width="0.05" text-anchor="end" >0.0</text>
<line x1="304.5" y1="255.8" x2="304.5" y2="258.2" stroke="#111" stroke-width="0.8" />
<text x="304.5" y="267.4" font-size="6.3" fill="#333" stroke="#333" stroke-width="0.05" text-anchor="middle" >0</text>
<line x1="334.65" y1="255.8" x2="334.65" y2="258.2" stroke="#111" stroke-width="0.8" />
<text x="334.65" y="267.4" font-size="6.3" fill="#333" stroke="#333" stroke-width="0.05" text-anchor="middle" >5</text>
<line x1="364.8" y1="255.8" x2="364.8" y2="258.2" stroke="#111" stroke-width="0.8" />
<text x="364.8" y="267.4" font-size="6.3" fill="#333" stroke="#333" stroke-width="0.05" text-anchor="middle" >10</text>
<line x1="394.95" y1="255.8" x2="394.95" y2="258.2" stroke="#111" stroke-width="0.8" />
<text x="394.95" y="267.4" font-size="6.3" fill="#333" stroke="#333" stroke-width="0.05" text-anchor="middle" >15</text>
<line x1="425.1" y1="255.8" x2="425.1" y2="258.2" stroke="#111" stroke-width="0.8" />
<text x="425.1" y="267.4" font-size="6.3" fill="#333" stroke="#333" stroke-width="0.05" text-anchor="middle" >20</text>
<line x1="455.25" y1="255.8" x2="455.25" y2="258.2" stroke="#111" stroke-width="0.8" />
<text x="455.25" y="267.4" font-size="6.3" fill="#333" stroke="#333" stroke-width="0.05" text-anchor="middle" >25</text>
<line x1="485.4" y1="255.8" x2="485.4" y2="258.2" stroke="#111" stroke-width="0.8" />
<text x="485.4" y="267.4" font-size="6.3" fill="#333" stroke="#333" stroke-width="0.05" text-anchor="middle" >30</text>
<text x="275.8" y="236.8" font-size="6.6" fill="#333" stroke="#333" stroke-width="0.05" text-anchor="middle" transform="rotate(-90 275.8 236.8)" textLength="21.6" lengthAdjust="spacingAndGlyphs" >Density</text>
<text x="509.6" y="232.1" font-size="6.1" fill="#333" stroke="#333" stroke-width="0.05" text-anchor="middle" transform="rotate(-90 509.6 232.1)" textLength="29.4" lengthAdjust="spacingAndGlyphs" >% D29 MRD</text>
<path d="M301.49 255 C302.99 254.88 307.51 254.48 310.53 254.27 C313.54 254.07 316.56 253.79 319.57 253.79 C322.59 253.79 325.61 254.11 328.62 254.27 C331.63 254.44 334.65 254.64 337.67 254.76 C340.68 254.88 345.2 254.96 346.71 255" fill="none" stroke="#4aa84a" stroke-width="1" stroke-linejoin="round"/>
<path d="M321.38 255 C321.99 254.88 323.8 254.88 325 254.27 C326.21 253.67 327.38 252.78 328.62 251.37 C329.86 249.96 331.07 247.42 332.42 245.8 C333.77 244.19 335.62 241.85 336.7 241.69 C337.78 241.53 338.19 243.38 338.87 244.84 C339.55 246.29 340.1 248.87 340.8 250.4 C341.5 251.93 342.31 253.27 343.09 254.03 C343.88 254.8 345.1 254.84 345.5 255" fill="none" stroke="#3a8ac0" stroke-width="1.2" stroke-linejoin="round"/>
<path d="M304.5 255 C304.91 254.96 305.77 255.77 306.97 254.76 C308.18 253.75 310.07 250.64 311.74 248.95 C313.4 247.26 315.47 245.08 316.98 244.59 C318.49 244.11 319.63 245.48 320.78 246.05 C321.94 246.61 322.81 247.22 323.92 247.98 C325.02 248.75 326.38 249.88 327.41 250.64 C328.45 251.41 328.92 251.93 330.13 252.58 C331.33 253.23 333.39 254.11 334.65 254.52 C335.91 254.92 337.16 254.92 337.67 255" fill="none" stroke="#d7262b" stroke-width="1.3" stroke-linejoin="round"/>
<path d="M325.61 255 C326.06 254.92 327.67 256.53 328.32 254.52 C328.97 252.5 329.11 247.58 329.52 242.9 C329.94 238.22 330.47 228.66 330.79 226.44 C331.11 224.23 331.23 229.19 331.45 229.59 C331.68 229.99 331.87 226.65 332.12 228.86 C332.37 231.08 332.66 238.75 332.96 242.9 C333.26 247.05 333.44 251.77 333.93 253.79 C334.41 255.81 335.53 254.8 335.86 255" fill="none" stroke="#6a3a7a" stroke-width="1.3" stroke-linejoin="round"/>
<path d="M349.73 255 C350.17 254.92 351.27 255.73 352.38 254.52 C353.48 253.31 354.82 249.72 356.36 247.74 C357.9 245.76 360.3 243.06 361.6 242.66 C362.91 242.25 363.29 243.95 364.2 245.32 C365.1 246.69 366.13 249.35 367.03 250.89 C367.94 252.42 368.79 253.83 369.62 254.52 C370.46 255.2 371.63 254.92 372.04 255" fill="none" stroke="#4aa84a" stroke-width="1.2" stroke-linejoin="round"/>
<path d="M364.2 255 C364.53 254.88 365.48 255.89 366.19 254.27 C366.89 252.66 367.69 247.9 368.42 245.32 C369.14 242.74 369.93 239.51 370.53 238.79 C371.13 238.06 371.48 240.2 372.04 240.96 C372.59 241.73 373.15 242.58 373.85 243.38 C374.54 244.19 375.54 244.67 376.2 245.8 C376.85 246.93 377.26 248.79 377.76 250.16 C378.27 251.53 378.66 253.23 379.21 254.03 C379.76 254.84 380.77 254.84 381.08 255" fill="none" stroke="#4a6050" stroke-width="1.2" stroke-linejoin="round"/>
<path d="M378.07 255 C378.39 254.88 379.34 255.48 380 254.27 C380.65 253.06 381.35 249.43 381.99 247.74 C382.62 246.05 382.97 244.31 383.79 244.11 C384.62 243.91 385.89 246.25 386.93 246.53 C387.97 246.81 388.98 245.44 390.01 245.8 C391.03 246.17 392.26 247.66 393.08 248.71 C393.9 249.76 394.32 251.09 394.95 252.1 C395.58 253.1 396.28 254.27 396.88 254.76 C397.48 255.24 398.29 254.96 398.57 255" fill="none" stroke="#7a3a8a" stroke-width="1.2" stroke-linejoin="round"/>
<path d="M386.51 255 C386.84 254.96 387.29 255.52 388.5 254.76 C389.7 253.99 392.21 251.41 393.74 250.4 C395.28 249.39 396.17 248.71 397.72 248.71 C399.28 248.71 401.18 250.28 403.09 250.4 C405 250.52 407.39 249.07 409.18 249.43 C410.97 249.8 412.28 251.69 413.82 252.58 C415.37 253.47 417.39 254.35 418.47 254.76 C419.54 255.16 419.97 254.96 420.28 255" fill="none" stroke="#c8603a" stroke-width="1.2" stroke-linejoin="round"/>
<path d="M417.26 255 C417.58 254.92 418.19 255.93 419.19 254.52 C420.2 253.1 422.21 249.07 423.29 246.53 C424.38 243.99 424.97 240.84 425.7 239.27 C426.44 237.7 427.04 236.69 427.69 237.09 C428.35 237.5 428.99 239.47 429.62 241.69 C430.26 243.91 430.94 248.22 431.49 250.4 C432.04 252.58 432.4 253.99 432.94 254.76 C433.48 255.52 434.45 254.96 434.75 255" fill="none" stroke="#e8a030" stroke-width="1.2" stroke-linejoin="round"/>
<path d="M427.51 255 C427.79 254.8 428.6 255.6 429.2 253.79 C429.8 251.97 430.48 246.37 431.13 244.11 C431.78 241.85 432.47 240.24 433.12 240.24 C433.77 240.24 434.42 242.66 435.05 244.11 C435.68 245.56 436.23 247.22 436.92 248.95 C437.61 250.68 438.47 253.51 439.21 254.52 C439.95 255.52 441.02 254.92 441.38 255" fill="none" stroke="#d4a820" stroke-width="1.2" stroke-linejoin="round"/>
<path d="M434.75 255 C435.35 254.6 437.06 253.79 438.37 252.58 C439.67 251.37 441.18 249.15 442.59 247.74 C443.99 246.33 445.6 244.23 446.81 244.11 C448.01 243.99 448.78 245.84 449.82 247.01 C450.87 248.18 452.02 249.84 453.08 251.13 C454.13 252.42 455.29 254.11 456.15 254.76 C457.02 255.4 457.91 254.96 458.26 255" fill="none" stroke="#9a4a3a" stroke-width="1.2" stroke-linejoin="round"/>
<path d="M451.03 255 C451.63 254.6 453.44 254.19 454.65 252.58 C455.85 250.97 457.26 247.13 458.26 245.32 C459.27 243.5 459.92 241.77 460.68 241.69 C461.43 241.61 462.13 244.15 462.79 244.84 C463.44 245.52 463.84 244.59 464.6 245.8 C465.35 247.01 466.46 250.6 467.31 252.1 C468.16 253.59 468.92 254.27 469.72 254.76 C470.53 255.24 471.73 254.96 472.13 255" fill="none" stroke="#e8c840" stroke-width="1.2" stroke-linejoin="round"/>
<path d="M451.03 255 C451.53 254.52 453.04 253.51 454.04 252.1 C455.05 250.68 456.19 247.86 457.06 246.53 C457.92 245.2 458.43 244.11 459.23 244.11 C460.03 244.11 461.04 245.44 461.88 246.53 C462.73 247.62 463.49 249.35 464.3 250.64 C465.1 251.93 465.9 253.55 466.71 254.27 C467.51 255 468.72 254.88 469.12 255" fill="none" stroke="#d07aa8" stroke-width="1.1" stroke-linejoin="round"/>
<path d="M469.72 255 C470.22 254.72 471.63 254.72 472.74 253.31 C473.84 251.89 475.28 248.39 476.36 246.53 C477.43 244.67 478.39 242.38 479.19 242.17 C479.99 241.97 480.53 243.87 481.18 245.32 C481.83 246.77 482.51 249.35 483.11 250.89 C483.71 252.42 484.21 253.83 484.8 254.52 C485.38 255.2 486.3 254.92 486.61 255" fill="none" stroke="#e06a9a" stroke-width="1.2" stroke-linejoin="round"/>
<path d="M482.38 255 C482.79 254.8 484.09 255.6 484.8 253.79 C485.5 251.97 485.99 247.5 486.61 244.11 C487.22 240.72 487.92 233.66 488.48 233.46 C489.03 233.26 489.43 239.43 489.92 242.9 C490.41 246.37 490.88 252.26 491.43 254.27 C491.98 256.29 492.94 254.88 493.24 255" fill="none" stroke="#7090a0" stroke-width="1.2" stroke-linejoin="round"/>
<text x="300.4" y="242.9" font-size="5.6" fill="#d7262b" stroke="#d7262b" stroke-width="0.05" textLength="22" lengthAdjust="spacingAndGlyphs" >HSC/MPP</text>
<text x="315.5" y="234.2" font-size="5.6" fill="#7a5a8a" stroke="#7a5a8a" stroke-width="0.05" textLength="14.1" lengthAdjust="spacingAndGlyphs" >LMPP</text>
<text x="335.2" y="239.5" font-size="5.6" fill="#3a8ac0" stroke="#3a8ac0" stroke-width="0.05" textLength="8.7" lengthAdjust="spacingAndGlyphs" >CLP</text>
<text x="347.8" y="248" font-size="5.6" fill="#4aa84a" stroke="#4aa84a" stroke-width="0.05" textLength="6.9" lengthAdjust="spacingAndGlyphs" >ETP</text>
<text x="364.9" y="236.2" font-size="5.6" fill="#6a7a6a" stroke="#6a7a6a" stroke-width="0.05" textLength="13.3" lengthAdjust="spacingAndGlyphs" >Pro-T</text>
<text x="380.8" y="241.1" font-size="5.6" fill="#8a4a9a" stroke="#8a4a9a" stroke-width="0.05" textLength="12.3" lengthAdjust="spacingAndGlyphs" >Pre-T</text>
<text x="395.1" y="246.5" font-size="5.6" fill="#c8603a" stroke="#c8603a" stroke-width="0.05" textLength="18" lengthAdjust="spacingAndGlyphs" >CyclingDP</text>
<text x="419.2" y="238" font-size="5.6" fill="#e8a030" stroke="#e8a030" stroke-width="0.05" textLength="5.4" lengthAdjust="spacingAndGlyphs" >DP</text>
<text x="432" y="234.6" font-size="5.6" fill="#d8b030" stroke="#d8b030" stroke-width="0.05" textLength="25.7" lengthAdjust="spacingAndGlyphs" >alpha-beta</text>
<text x="455.1" y="240.8" font-size="5.6" fill="#d880b0" stroke="#d880b0" stroke-width="0.05" textLength="15.7" lengthAdjust="spacingAndGlyphs" >Naive T</text>
<text x="464.9" y="234.2" font-size="5.6" fill="#e07aa8" stroke="#e07aa8" stroke-width="0.05" textLength="22.8" lengthAdjust="spacingAndGlyphs" >Effector T</text>
<text x="489.2" y="234.2" font-size="5.6" fill="#7090a0" stroke="#7090a0" stroke-width="0.05" textLength="6.2" lengthAdjust="spacingAndGlyphs" >NK</text>
<text x="7.5" y="412" font-size="10.6" fill="#111" font-weight="bold" stroke="#111" stroke-width="0.35">D</text>
<text x="57.4" y="411.6" font-size="7.8" fill="#222" stroke="#222" stroke-width="0.05" text-anchor="middle" textLength="16.8" lengthAdjust="spacingAndGlyphs" >AML</text>
<line x1="34.8" y1="419" x2="34.8" y2="522.3" stroke="#111" stroke-width="0.9" />
<line x1="32.3" y1="432" x2="34.8" y2="432" stroke="#111" stroke-width="0.8" />
<text x="30" y="434" font-size="6.6" fill="#333" stroke="#333" stroke-width="0.05" text-anchor="end" >0.4</text>
<line x1="32.3" y1="453.45" x2="34.8" y2="453.45" stroke="#111" stroke-width="0.8" />
<text x="30" y="455.45" font-size="6.6" fill="#333" stroke="#333" stroke-width="0.05" text-anchor="end" >0.3</text>
<line x1="32.3" y1="474.9" x2="34.8" y2="474.9" stroke="#111" stroke-width="0.8" />
<text x="30" y="476.9" font-size="6.6" fill="#333" stroke="#333" stroke-width="0.05" text-anchor="end" >0.2</text>
<line x1="32.3" y1="496.35" x2="34.8" y2="496.35" stroke="#111" stroke-width="0.8" />
<text x="30" y="498.35" font-size="6.6" fill="#333" stroke="#333" stroke-width="0.05" text-anchor="end" >0.1</text>
<line x1="32.3" y1="517.8" x2="34.8" y2="517.8" stroke="#111" stroke-width="0.8" />
<text x="30" y="519.8" font-size="6.6" fill="#333" stroke="#333" stroke-width="0.05" text-anchor="end" >0.0</text>
<line x1="34.8" y1="522.3" x2="79.9" y2="522.3" stroke="#111" stroke-width="0.9" />
<line x1="47.5" y1="522.3" x2="47.5" y2="524.8" stroke="#111" stroke-width="0.8" />
<text x="48.3" y="529.3" font-size="6.5" fill="#333" stroke="#333" stroke-width="0.05" text-anchor="end" transform="rotate(-45 48.3 529.3)" >MRD+</text>
<line x1="68" y1="522.3" x2="68" y2="524.8" stroke="#111" stroke-width="0.8" />
<text x="68.8" y="529.3" font-size="6.5" fill="#333" stroke="#333" stroke-width="0.05" text-anchor="end" transform="rotate(-45 68.8 529.3)" >MRD–</text>
<line x1="47.4" y1="428.3" x2="47.4" y2="437.1" stroke="#333" stroke-width="0.9" />
<line x1="47.4" y1="464.8" x2="47.4" y2="464.8" stroke="#333" stroke-width="0.9" />
<rect x="40.2" y="437.1" width="14.4" height="27.7" fill="#e31a1c" stroke="#e31a1c" stroke-width="0.4" />
<line x1="40.2" y1="445" x2="54.6" y2="445" stroke="#6b1010" stroke-width="1" />
<circle cx="47.3" cy="507.6" r="0.7" fill="#333"/>
<line x1="68.1" y1="484.6" x2="68.1" y2="491.4" stroke="#333" stroke-width="0.9" />
<line x1="68.1" y1="514.8" x2="68.1" y2="517.7" stroke="#333" stroke-width="0.9" />
<rect x="61.25" y="491.4" width="13.7" height="23.4" fill="#9e9e9e" stroke="#9e9e9e" stroke-width="0.4" />
<line x1="61.25" y1="503.6" x2="74.95" y2="503.6" stroke="#444" stroke-width="1" />
<path d="M47.2 425.8 V423.6 H68 V425.8" fill="none" stroke="#333" stroke-width="0.8"/>
<text x="57.6" y="421.9" font-size="6.3" fill="#333" stroke="#333" stroke-width="0.05" text-anchor="middle" >0.038</text>
<text x="14.2" y="478.4" font-size="6.9" fill="#333" stroke="#333" stroke-width="0.05" text-anchor="middle" transform="rotate(-90 14.2 478.4)" textLength="56.3" lengthAdjust="spacingAndGlyphs" >HSPC-like fraction</text>
<text x="139.65" y="408.6" font-size="7.8" fill="#222" stroke="#222" stroke-width="0.05" text-anchor="middle" textLength="21.9" lengthAdjust="spacingAndGlyphs" >B-ALL</text>
<line x1="104.4" y1="417.5" x2="104.4" y2="522.3" stroke="#111" stroke-width="0.9" />
<line x1="101.9" y1="420.5" x2="104.4" y2="420.5" stroke="#111" stroke-width="0.8" />
<text x="98.8" y="422.5" font-size="6.6" fill="#333" stroke="#333" stroke-width="0.05" text-anchor="end" >0.3</text>
<line x1="101.9" y1="452.9" x2="104.4" y2="452.9" stroke="#111" stroke-width="0.8" />
<text x="98.8" y="454.9" font-size="6.6" fill="#333" stroke="#333" stroke-width="0.05" text-anchor="end" >0.2</text>
<line x1="101.9" y1="485.3" x2="104.4" y2="485.3" stroke="#111" stroke-width="0.8" />
<text x="98.8" y="487.3" font-size="6.6" fill="#333" stroke="#333" stroke-width="0.05" text-anchor="end" >0.1</text>
<line x1="101.9" y1="517.7" x2="104.4" y2="517.7" stroke="#111" stroke-width="0.8" />
<text x="98.8" y="519.7" font-size="6.6" fill="#333" stroke="#333" stroke-width="0.05" text-anchor="end" >0.0</text>
<line x1="104.4" y1="522.3" x2="174.4" y2="522.3" stroke="#111" stroke-width="0.9" />
<line x1="117.4" y1="522.3" x2="117.4" y2="524.8" stroke="#111" stroke-width="0.8" />
<text x="118.2" y="529.3" font-size="6.5" fill="#333" stroke="#333" stroke-width="0.05" text-anchor="end" transform="rotate(-45 118.2 529.3)" >Infant</text>
<line x1="139.6" y1="522.3" x2="139.6" y2="524.8" stroke="#111" stroke-width="0.8" />
<text x="140.4" y="529.3" font-size="6.5" fill="#333" stroke="#333" stroke-width="0.05" text-anchor="end" transform="rotate(-45 140.4 529.3)" >Pediatric</text>
<line x1="162" y1="522.3" x2="162" y2="524.8" stroke="#111" stroke-width="0.8" />
<text x="162.8" y="529.3" font-size="6.5" fill="#333" stroke="#333" stroke-width="0.05" text-anchor="end" transform="rotate(-45 162.8 529.3)" >Low risk</text>
<line x1="117.5" y1="491.2" x2="117.5" y2="499.5" stroke="#333" stroke-width="0.9" />
<line x1="117.5" y1="516.2" x2="117.5" y2="517.7" stroke="#333" stroke-width="0.9" />
<rect x="110.2" y="499.5" width="14.6" height="16.7" fill="#e31a1c" stroke="#e31a1c" stroke-width="0.4" />
<line x1="110.2" y1="512.5" x2="124.8" y2="512.5" stroke="#7a0a0a" stroke-width="1" />
<circle cx="117.5" cy="464.7" r="0.6" fill="#333"/>
<circle cx="117.5" cy="436.6" r="0.6" fill="#333"/>
<circle cx="117.5" cy="489.5" r="0.6" fill="#333"/>
<line x1="139.6" y1="508.5" x2="139.6" y2="512.3" stroke="#333" stroke-width="0.9" />
<line x1="139.6" y1="516.3" x2="139.6" y2="517.2" stroke="#333" stroke-width="0.9" />
<rect x="132.15" y="512.3" width="14.9" height="4" fill="#e8891a" stroke="#e8891a" stroke-width="0.4" />
<line x1="132.15" y1="514.5" x2="147.05" y2="514.5" stroke="#8a4a0a" stroke-width="1" />
<circle cx="139.6" cy="492" r="0.6" fill="#333"/>
<circle cx="139.6" cy="497.2" r="0.6" fill="#333"/>
<circle cx="139.6" cy="488.5" r="0.6" fill="#333"/>
<circle cx="139.6" cy="505" r="0.6" fill="#333"/>
<line x1="161.7" y1="515.5" x2="161.7" y2="516.2" stroke="#333" stroke-width="0.9" />
<line x1="161.7" y1="517.8" x2="161.7" y2="518" stroke="#333" stroke-width="0.9" />
<rect x="154.6" y="516.2" width="14.2" height="1.6" fill="#777" stroke="#777" stroke-width="0.4" />
<line x1="154.6" y1="517" x2="168.8" y2="517" stroke="#222" stroke-width="1" />
<path d="M139.4 422.7 V420.5 H161.9 V422.7" fill="none" stroke="#333" stroke-width="0.8"/>
<text x="150.65" y="419" font-size="6.2" fill="#333" stroke="#333" stroke-width="0.05" text-anchor="middle" >0.053</text>
<path d="M117.5 434.6 V432.4 H161.9 V434.6" fill="none" stroke="#333" stroke-width="0.8"/>
<text x="139.7" y="430.5" font-size="6.3" fill="#333" stroke="#333" stroke-width="0.05" text-anchor="middle" >0.0041</text>
<text x="221.8" y="411" font-size="7.8" fill="#222" stroke="#222" stroke-width="0.05" text-anchor="middle" textLength="21" lengthAdjust="spacingAndGlyphs" >T-ALL</text>
<line x1="198.8" y1="418.6" x2="198.8" y2="522.3" stroke="#111" stroke-width="0.9" />
<line x1="196.3" y1="420" x2="198.8" y2="420" stroke="#111" stroke-width="0.8" />
<text x="194" y="422" font-size="6.6" fill="#333" stroke="#333" stroke-width="0.05" text-anchor="end" >0.6</text>
<line x1="196.3" y1="452.6" x2="198.8" y2="452.6" stroke="#111" stroke-width="0.8" />
<text x="194" y="454.6" font-size="6.6" fill="#333" stroke="#333" stroke-width="0.05" text-anchor="end" >0.4</text>
<line x1="196.3" y1="485.2" x2="198.8" y2="485.2" stroke="#111" stroke-width="0.8" />
<text x="194" y="487.2" font-size="6.6" fill="#333" stroke="#333" stroke-width="0.05" text-anchor="end" >0.2</text>
<line x1="196.3" y1="517.8" x2="198.8" y2="517.8" stroke="#111" stroke-width="0.8" />
<text x="194" y="519.8" font-size="6.6" fill="#333" stroke="#333" stroke-width="0.05" text-anchor="end" >0.0</text>
<line x1="198.8" y1="522.3" x2="243.9" y2="522.3" stroke="#111" stroke-width="0.9" />
<line x1="211.2" y1="522.3" x2="211.2" y2="524.8" stroke="#111" stroke-width="0.8" />
<text x="212" y="529.3" font-size="6.5" fill="#333" stroke="#333" stroke-width="0.05" text-anchor="end" transform="rotate(-45 212 529.3)" >MRD+</text>
<line x1="232.3" y1="522.3" x2="232.3" y2="524.8" stroke="#111" stroke-width="0.8" />
<text x="233.1" y="529.3" font-size="6.5" fill="#333" stroke="#333" stroke-width="0.05" text-anchor="end" transform="rotate(-45 233.1 529.3)" >MRD–</text>
<line x1="211.3" y1="427.7" x2="211.3" y2="472.3" stroke="#333" stroke-width="0.9" />
<line x1="211.3" y1="515.5" x2="211.3" y2="515.5" stroke="#333" stroke-width="0.9" />
<rect x="204.2" y="472.3" width="14.2" height="43.2" fill="#e31a1c" stroke="#e31a1c" stroke-width="0.4" />
<line x1="204.2" y1="505.8" x2="218.4" y2="505.8" stroke="#6b1010" stroke-width="1" />
<line x1="232.3" y1="505.4" x2="232.3" y2="512.1" stroke="#333" stroke-width="0.9" />
<line x1="232.3" y1="516.2" x2="232.3" y2="517" stroke="#333" stroke-width="0.9" />
<rect x="225.2" y="512.1" width="14.2" height="4.1" fill="#9e9e9e" stroke="#9e9e9e" stroke-width="0.4" />
<line x1="225.2" y1="514" x2="239.4" y2="514" stroke="#444" stroke-width="1" />
<circle cx="232.3" cy="443.4" r="0.6" fill="#333"/>
<path d="M211.2 425.6 V423.4 H232.3 V425.6" fill="none" stroke="#333" stroke-width="0.8"/>
<text x="221.75" y="421.6" font-size="6.3" fill="#333" stroke="#333" stroke-width="0.05" text-anchor="middle" >0.0099</text>
<text x="270.5" y="288.2" font-size="10.6" fill="#111" font-weight="bold" stroke="#111" stroke-width="0.35">E</text>
<text x="335.4" y="287.8" font-size="8.6" fill="#222" stroke="#222" stroke-width="0.05" textLength="142" lengthAdjust="spacingAndGlyphs" >MRD Multiple Regression by Subtype</text>
<rect x="303.3" y="293.6" width="67.7" height="11.2" fill="#9a3c98" stroke="#222" stroke-width="0.8" />
<text x="337.15" y="302.2" font-size="6.2" fill="#f8eef8" stroke="#f8eef8" stroke-width="0.05" text-anchor="middle" >AML (TARGET)</text>
<rect x="303.5" y="305.5" width="67.3" height="50.8" fill="none" stroke="#111" stroke-width="1.3" />
<line x1="324.5" y1="306.5" x2="324.5" y2="355.5" stroke="#222" stroke-width="1" stroke-dasharray="1.1,1.1" />
<line x1="304.5" y1="356.5" x2="304.5" y2="359.2" stroke="#111" stroke-width="0.9" />
<text x="306.7" y="362.6" font-size="6.3" fill="#333" stroke="#333" stroke-width="0.05" text-anchor="end" transform="rotate(-90 306.7 362.6)" textLength="12.4" lengthAdjust="spacingAndGlyphs" >−0.2</text>
<line x1="324.5" y1="356.5" x2="324.5" y2="359.2" stroke="#111" stroke-width="0.9" />
<text x="326.7" y="362.6" font-size="6.3" fill="#333" stroke="#333" stroke-width="0.05" text-anchor="end" transform="rotate(-90 326.7 362.6)" textLength="9.1" lengthAdjust="spacingAndGlyphs" >0.0</text>
<line x1="344.5" y1="356.5" x2="344.5" y2="359.2" stroke="#111" stroke-width="0.9" />
<text x="346.7" y="362.6" font-size="6.3" fill="#333" stroke="#333" stroke-width="0.05" text-anchor="end" transform="rotate(-90 346.7 362.6)" textLength="9.1" lengthAdjust="spacingAndGlyphs" >0.2</text>
<line x1="364.5" y1="356.5" x2="364.5" y2="359.2" stroke="#111" stroke-width="0.9" />
<text x="366.7" y="362.6" font-size="6.3" fill="#333" stroke="#333" stroke-width="0.05" text-anchor="end" transform="rotate(-90 366.7 362.6)" textLength="9.1" lengthAdjust="spacingAndGlyphs" >0.4</text>
<line x1="346.2" y1="319.7" x2="367.5" y2="319.7" stroke="#62cfd0" stroke-width="0.9" />
<line x1="346.2" y1="318.1" x2="346.2" y2="321.3" stroke="#62cfd0" stroke-width="0.8" />
<line x1="367.5" y1="318.1" x2="367.5" y2="321.3" stroke="#62cfd0" stroke-width="0.8" />
<circle cx="357" cy="319.7" r="1.8" fill="#1f8f86"/>
<line x1="306.5" y1="342.8" x2="327.4" y2="342.8" stroke="#62cfd0" stroke-width="0.9" />
<line x1="306.5" y1="341.2" x2="306.5" y2="344.4" stroke="#62cfd0" stroke-width="0.8" />
<line x1="327.4" y1="341.2" x2="327.4" y2="344.4" stroke="#62cfd0" stroke-width="0.8" />
<circle cx="317.3" cy="342.8" r="1.8" fill="#1f8f86"/>
<text x="339.2" y="314.6" font-size="6.4" fill="#222" stroke="#222" stroke-width="0.05" textLength="29.8" lengthAdjust="spacingAndGlyphs" ><tspan font-style="italic">P</tspan> = 5.7e-9</text>
<text x="329.6" y="344.6" font-size="6.4" fill="#222" stroke="#222" stroke-width="0.05" textLength="20.2" lengthAdjust="spacingAndGlyphs" ><tspan font-style="italic">P</tspan> = .17</text>
<rect x="374.7" y="293.6" width="67.2" height="11.2" fill="#9a3c98" stroke="#222" stroke-width="0.8" />
<text x="408.3" y="302.2" font-size="6.2" fill="#f8eef8" stroke="#f8eef8" stroke-width="0.05" text-anchor="middle" >B-ALL (TARGET)</text>
<rect x="374.9" y="305.5" width="66.8" height="50.8" fill="none" stroke="#111" stroke-width="1.3" />
<line x1="407.2" y1="306.5" x2="407.2" y2="355.5" stroke="#222" stroke-width="1" stroke-dasharray="1.1,1.1" />
<line x1="382.8" y1="356.5" x2="382.8" y2="359.2" stroke="#111" stroke-width="0.9" />
<text x="385" y="362.6" font-size="6.3" fill="#333" stroke="#333" stroke-width="0.05" text-anchor="end" transform="rotate(-90 385 362.6)" textLength="12.4" lengthAdjust="spacingAndGlyphs" >−0.2</text>
<line x1="395" y1="356.5" x2="395" y2="359.2" stroke="#111" stroke-width="0.9" />
<text x="397.2" y="362.6" font-size="6.3" fill="#333" stroke="#333" stroke-width="0.05" text-anchor="end" transform="rotate(-90 397.2 362.6)" textLength="12.4" lengthAdjust="spacingAndGlyphs" >−0.1</text>
<line x1="407.2" y1="356.5" x2="407.2" y2="359.2" stroke="#111" stroke-width="0.9" />
<text x="409.4" y="362.6" font-size="6.3" fill="#333" stroke="#333" stroke-width="0.05" text-anchor="end" transform="rotate(-90 409.4 362.6)" textLength="9.1" lengthAdjust="spacingAndGlyphs" >0.0</text>
<line x1="419.4" y1="356.5" x2="419.4" y2="359.2" stroke="#111" stroke-width="0.9" />
<text x="421.6" y="362.6" font-size="6.3" fill="#333" stroke="#333" stroke-width="0.05" text-anchor="end" transform="rotate(-90 421.6 362.6)" textLength="9.1" lengthAdjust="spacingAndGlyphs" >0.1</text>
<line x1="431.6" y1="356.5" x2="431.6" y2="359.2" stroke="#111" stroke-width="0.9" />
<text x="433.8" y="362.6" font-size="6.3" fill="#333" stroke="#333" stroke-width="0.05" text-anchor="end" transform="rotate(-90 433.8 362.6)" textLength="9.1" lengthAdjust="spacingAndGlyphs" >0.2</text>
<line x1="404.9" y1="319.7" x2="438.1" y2="319.7" stroke="#62cfd0" stroke-width="0.9" />
<line x1="404.9" y1="318.1" x2="404.9" y2="321.3" stroke="#62cfd0" stroke-width="0.8" />
<line x1="438.1" y1="318.1" x2="438.1" y2="321.3" stroke="#62cfd0" stroke-width="0.8" />
<circle cx="421.72" cy="319.7" r="1.8" fill="#1f8f86"/>
<line x1="378.5" y1="342.8" x2="408.1" y2="342.8" stroke="#62cfd0" stroke-width="0.9" />
<line x1="378.5" y1="341.2" x2="378.5" y2="344.4" stroke="#62cfd0" stroke-width="0.8" />
<line x1="408.1" y1="341.2" x2="408.1" y2="344.4" stroke="#62cfd0" stroke-width="0.8" />
<circle cx="394.39" cy="342.8" r="1.8" fill="#1f8f86"/>
<text x="411" y="314.6" font-size="6.4" fill="#222" stroke="#222" stroke-width="0.05" textLength="20.2" lengthAdjust="spacingAndGlyphs" ><tspan font-style="italic">P</tspan> = .09</text>
<text x="411.7" y="344.6" font-size="6.4" fill="#222" stroke="#222" stroke-width="0.05" textLength="19.5" lengthAdjust="spacingAndGlyphs" ><tspan font-style="italic">P</tspan> = .11</text>
<rect x="445.9" y="293.6" width="66.6" height="11.2" fill="#9a3c98" stroke="#222" stroke-width="0.8" />
<text x="479.2" y="302.2" font-size="6.2" fill="#f8eef8" stroke="#f8eef8" stroke-width="0.05" text-anchor="middle" >T-ALL (AALL0434)</text>
<rect x="446.1" y="305.5" width="66.2" height="50.8" fill="none" stroke="#111" stroke-width="1.3" />
<line x1="466.8" y1="306.5" x2="466.8" y2="355.5" stroke="#222" stroke-width="1" stroke-dasharray="1.1,1.1" />
<line x1="447.4" y1="356.5" x2="447.4" y2="359.2" stroke="#111" stroke-width="0.9" />
<text x="449.6" y="362.6" font-size="6.3" fill="#333" stroke="#333" stroke-width="0.05" text-anchor="end" transform="rotate(-90 449.6 362.6)" textLength="12.4" lengthAdjust="spacingAndGlyphs" >−0.2</text>
<line x1="466.8" y1="356.5" x2="466.8" y2="359.2" stroke="#111" stroke-width="0.9" />
<text x="469" y="362.6" font-size="6.3" fill="#333" stroke="#333" stroke-width="0.05" text-anchor="end" transform="rotate(-90 469 362.6)" textLength="9.1" lengthAdjust="spacingAndGlyphs" >0.0</text>
<line x1="486.2" y1="356.5" x2="486.2" y2="359.2" stroke="#111" stroke-width="0.9" />
<text x="488.4" y="362.6" font-size="6.3" fill="#333" stroke="#333" stroke-width="0.05" text-anchor="end" transform="rotate(-90 488.4 362.6)" textLength="9.1" lengthAdjust="spacingAndGlyphs" >0.2</text>
<line x1="505.6" y1="356.5" x2="505.6" y2="359.2" stroke="#111" stroke-width="0.9" />
<text x="507.8" y="362.6" font-size="6.3" fill="#333" stroke="#333" stroke-width="0.05" text-anchor="end" transform="rotate(-90 507.8 362.6)" textLength="9.1" lengthAdjust="spacingAndGlyphs" >0.4</text>
<line x1="484.1" y1="319.7" x2="498.3" y2="319.7" stroke="#62cfd0" stroke-width="0.9" />
<line x1="484.1" y1="318.1" x2="484.1" y2="321.3" stroke="#62cfd0" stroke-width="0.8" />
<line x1="498.3" y1="318.1" x2="498.3" y2="321.3" stroke="#62cfd0" stroke-width="0.8" />
<circle cx="491.24" cy="319.7" r="1.8" fill="#1f8f86"/>
<line x1="461.5" y1="342.8" x2="474" y2="342.8" stroke="#62cfd0" stroke-width="0.9" />
<line x1="461.5" y1="341.2" x2="461.5" y2="344.4" stroke="#62cfd0" stroke-width="0.8" />
<line x1="474" y1="341.2" x2="474" y2="344.4" stroke="#62cfd0" stroke-width="0.8" />
<circle cx="467.19" cy="342.8" r="1.8" fill="#1f8f86"/>
<text x="475" y="314.6" font-size="6.4" fill="#222" stroke="#222" stroke-width="0.05" textLength="32.2" lengthAdjust="spacingAndGlyphs" ><tspan font-style="italic">P</tspan> = 1.2e-11</text>
<text x="475.9" y="344.6" font-size="6.4" fill="#222" stroke="#222" stroke-width="0.05" textLength="20.2" lengthAdjust="spacingAndGlyphs" ><tspan font-style="italic">P</tspan> = .74</text>
<line x1="300.8" y1="319.6" x2="303.5" y2="319.6" stroke="#111" stroke-width="0.9" />
<text x="297.6" y="320.2" font-size="6.9" fill="#333" text-anchor="end" transform="rotate(-45 297.6 320.2)" textLength="28.6" lengthAdjust="spacingAndGlyphs" stroke="#333" stroke-width="0.18">HSPC-like</text>
<line x1="300.8" y1="342.8" x2="303.5" y2="342.8" stroke="#111" stroke-width="0.9" />
<text x="297.6" y="343.4" font-size="6.9" fill="#333" text-anchor="end" transform="rotate(-45 297.6 343.4)" textLength="33.4" lengthAdjust="spacingAndGlyphs" stroke="#333" stroke-width="0.18">Lineage-like</text>
<text x="363" y="384" font-size="7.6" fill="#333" stroke="#333" stroke-width="0.05" textLength="90.6" lengthAdjust="spacingAndGlyphs" >Coefficient of linear regression</text>
<text x="265" y="406.4" font-size="10.6" fill="#111" font-weight="bold" stroke="#111" stroke-width="0.35">F</text>
<text x="334.7" y="406.1" font-size="8.6" fill="#222" stroke="#222" stroke-width="0.05" textLength="97.2" lengthAdjust="spacingAndGlyphs" >LC50 Multiple Regression</text>
<rect x="297.8" y="411" width="170.2" height="43.6" fill="none" stroke="#111" stroke-width="1.3" />
<rect x="297.8" y="457.6" width="170.2" height="43.4" fill="none" stroke="#111" stroke-width="1.3" />
<rect x="468" y="410.8" width="9.2" height="44.2" fill="#9a3c98" stroke="#111" stroke-width="0.6" />
<rect x="468" y="457.4" width="9.2" height="44" fill="#9a3c98" stroke="#111" stroke-width="0.6" />
<text x="472.6" y="433" font-size="6" fill="#f8eef8" stroke="#f8eef8" stroke-width="0.05" text-anchor="middle" transform="rotate(90 472.6 433)" dy="2.1">B-ALL</text>
<text x="472.6" y="479.4" font-size="6" fill="#f8eef8" stroke="#f8eef8" stroke-width="0.05" text-anchor="middle" transform="rotate(90 472.6 479.4)" dy="2.1">T-ALL</text>
<line x1="308.75" y1="501.4" x2="308.75" y2="503.4" stroke="#111" stroke-width="0.9" />
<text x="308.15" y="509" font-size="6.4" fill="#333" stroke="#333" stroke-width="0.05" text-anchor="end" transform="rotate(-45 308.15 509)" >Asparaginase</text>
<line x1="327.25" y1="501.4" x2="327.25" y2="503.4" stroke="#111" stroke-width="0.9" />
<text x="326.65" y="509" font-size="6.4" fill="#333" stroke="#333" stroke-width="0.05" text-anchor="end" transform="rotate(-45 326.65 509)" >Cytarabine</text>
<line x1="345.75" y1="501.4" x2="345.75" y2="503.4" stroke="#111" stroke-width="0.9" />
<text x="345.15" y="509" font-size="6.4" fill="#333" stroke="#333" stroke-width="0.05" text-anchor="end" transform="rotate(-45 345.15 509)" >Daunorubicin</text>
<line x1="364.25" y1="501.4" x2="364.25" y2="503.4" stroke="#111" stroke-width="0.9" />
<text x="363.65" y="509" font-size="6.4" fill="#333" stroke="#333" stroke-width="0.05" text-anchor="end" transform="rotate(-45 363.65 509)" >Dexamethasone</text>
<line x1="382.75" y1="501.4" x2="382.75" y2="503.4" stroke="#111" stroke-width="0.9" />
<text x="382.15" y="509" font-size="6.4" fill="#333" stroke="#333" stroke-width="0.05" text-anchor="end" transform="rotate(-45 382.15 509)" >Mercaptopurine</text>
<line x1="401.25" y1="501.4" x2="401.25" y2="503.4" stroke="#111" stroke-width="0.9" />
<text x="400.65" y="509" font-size="6.4" fill="#333" stroke="#333" stroke-width="0.05" text-anchor="end" transform="rotate(-45 400.65 509)" >Nelarabine</text>
<line x1="419.75" y1="501.4" x2="419.75" y2="503.4" stroke="#111" stroke-width="0.9" />
<text x="419.15" y="509" font-size="6.4" fill="#333" stroke="#333" stroke-width="0.05" text-anchor="end" transform="rotate(-45 419.15 509)" >Prednisolone</text>
<line x1="438.25" y1="501.4" x2="438.25" y2="503.4" stroke="#111" stroke-width="0.9" />
<text x="437.65" y="509" font-size="6.4" fill="#333" stroke="#333" stroke-width="0.05" text-anchor="end" transform="rotate(-45 437.65 509)" >Thioguanine</text>
<line x1="456.75" y1="501.4" x2="456.75" y2="503.4" stroke="#111" stroke-width="0.9" />
<text x="456.15" y="509" font-size="6.4" fill="#333" stroke="#333" stroke-width="0.05" text-anchor="end" transform="rotate(-45 456.15 509)" >Vincristine</text>
<line x1="295" y1="422.5" x2="297.5" y2="422.5" stroke="#111" stroke-width="0.7" />
<text x="292.6" y="423.3" font-size="6.9" fill="#333" text-anchor="end" transform="rotate(-45 292.6 423.3)" textLength="29.1" lengthAdjust="spacingAndGlyphs" stroke="#333" stroke-width="0.18">HSPC-like</text>
<line x1="295" y1="442" x2="297.5" y2="442" stroke="#111" stroke-width="0.7" />
<text x="292.6" y="442.8" font-size="6.9" fill="#333" text-anchor="end" transform="rotate(-45 292.6 442.8)" textLength="34" lengthAdjust="spacingAndGlyphs" stroke="#333" stroke-width="0.18">Lineage-like</text>
<line x1="295" y1="469.5" x2="297.5" y2="469.5" stroke="#111" stroke-width="0.7" />
<text x="292.6" y="470.3" font-size="6.9" fill="#333" text-anchor="end" transform="rotate(-45 292.6 470.3)" textLength="29.1" lengthAdjust="spacingAndGlyphs" stroke="#333" stroke-width="0.18">HSPC-like</text>
<line x1="295" y1="489" x2="297.5" y2="489" stroke="#111" stroke-width="0.7" />
<text x="292.6" y="489.8" font-size="6.9" fill="#333" text-anchor="end" transform="rotate(-45 292.6 489.8)" textLength="34" lengthAdjust="spacingAndGlyphs" stroke="#333" stroke-width="0.18">Lineage-like</text>
<circle cx="308.75" cy="422.5" r="2" fill="#f4f4f4" stroke="#aaaaaa" stroke-width="0.9"/>
<circle cx="327.25" cy="422.5" r="4.9" fill="#f5b89f" stroke="#760a0a" stroke-width="2"/>
<circle cx="345.75" cy="422.5" r="1.9" fill="#f6f6f6" stroke="#aaaaaa" stroke-width="0.9"/>
<circle cx="364.25" cy="422.5" r="2.2" fill="#f3e8e2" stroke="#aaaaaa" stroke-width="0.9"/>
<circle cx="382.75" cy="422.5" r="3.7" fill="#f4c8b6" stroke="#760a0a" stroke-width="1.9"/>
<circle cx="401.25" cy="422.5" r="1.9" fill="#f6f6f6" stroke="#aaaaaa" stroke-width="0.9"/>
<circle cx="419.75" cy="422.5" r="3.6" fill="#f4c8b6" stroke="#760a0a" stroke-width="1.9"/>
<circle cx="438.25" cy="422.5" r="5.1" fill="#f5bca2" stroke="#760a0a" stroke-width="2"/>
<circle cx="456.75" cy="422.5" r="1.9" fill="#f4f4f4" stroke="#aaaaaa" stroke-width="0.9"/>
<circle cx="308.75" cy="442" r="1.5" fill="#eeeeee" stroke="#aaaaaa" stroke-width="0.8"/>
<circle cx="327.25" cy="442" r="3.7" fill="#eeecf8" stroke="#1c1c70" stroke-width="1.9"/>
<circle cx="345.75" cy="442" r="1.9" fill="#f6f6f6" stroke="#aaaaaa" stroke-width="0.9"/>
<circle cx="364.25" cy="442" r="4.1" fill="#d8d3ee" stroke="#1c1c70" stroke-width="1.9"/>
<circle cx="382.75" cy="442" r="5.4" fill="#b3abdf" stroke="#1c1c70" stroke-width="1.9"/>
<circle cx="401.25" cy="442" r="1.2" fill="#bbbbbb" stroke="#aaaaaa" stroke-width="0.5"/>
<circle cx="419.75" cy="442" r="3.7" fill="#e6e3f3" stroke="#1c1c70" stroke-width="1.9"/>
<circle cx="438.25" cy="442" r="2" fill="#f0f0f0" stroke="#aaaaaa" stroke-width="0.9"/>
<circle cx="456.75" cy="442" r="4" fill="#e6e3f3" stroke="#1c1c70" stroke-width="1.9"/>
<circle cx="308.75" cy="469.5" r="1.4" fill="#c4c4c4" stroke="#aaaaaa" stroke-width="0.5"/>
<circle cx="327.25" cy="469.5" r="1.9" fill="#d6d6d6" stroke="#aaaaaa" stroke-width="0.9"/>
<circle cx="345.75" cy="469.5" r="4.4" fill="#f38a78" stroke="#760a0a" stroke-width="2"/>
<circle cx="364.25" cy="469.5" r="1.6" fill="#eeeeee" stroke="#aaaaaa" stroke-width="0.8"/>
<circle cx="382.75" cy="469.5" r="1.9" fill="#d8d8d8" stroke="#aaaaaa" stroke-width="0.9"/>
<circle cx="401.25" cy="469.5" r="1.7" fill="#c8c8c8" stroke="#aaaaaa" stroke-width="0.8"/>
<circle cx="419.75" cy="469.5" r="1.9" fill="#e6d0c8" stroke="#b8a0a0" stroke-width="0.9"/>
<circle cx="438.25" cy="469.5" r="2.1" fill="#eecbbf" stroke="#c4a09a" stroke-width="0.9"/>
<circle cx="456.75" cy="469.5" r="1.6" fill="#e8e8e8" stroke="#aaaaaa" stroke-width="0.8"/>
<circle cx="308.75" cy="489" r="1.6" fill="#cccccc" stroke="#aaaaaa" stroke-width="0.6"/>
<circle cx="327.25" cy="489" r="2.1" fill="#c4c4c4" stroke="#aaaaaa" stroke-width="0.9"/>
<circle cx="345.75" cy="489" r="0.9" fill="#aaaaaa" stroke="#aaaaaa" stroke-width="0.3"/>
<circle cx="364.25" cy="489" r="2" fill="#eeeeee" stroke="#aaaaaa" stroke-width="0.9"/>
<circle cx="382.75" cy="489" r="2" fill="#dddddd" stroke="#aaaaaa" stroke-width="0.9"/>
<circle cx="401.25" cy="489" r="4.2" fill="#3030a0" stroke="#1c1c70" stroke-width="1.5"/>
<circle cx="419.75" cy="489" r="1.3" fill="#cccccc" stroke="#aaaaaa" stroke-width="0.5"/>
<circle cx="438.25" cy="489" r="1.3" fill="#cccccc" stroke="#aaaaaa" stroke-width="0.5"/>
<circle cx="456.75" cy="489" r="1.3" fill="#cccccc" stroke="#aaaaaa" stroke-width="0.5"/>
<text x="483.2" y="403.7" font-size="6" fill="#333" stroke="#333" stroke-width="0.05" textLength="28.8" lengthAdjust="spacingAndGlyphs" >coefficient</text>
<defs><linearGradient id="coefg" x1="0" y1="0" x2="0" y2="1"><stop offset="0" stop-color="#eeaa88"/><stop offset="0.3" stop-color="#ffffff"/><stop offset="0.55" stop-color="#c3bbe4"/><stop offset="1" stop-color="#35308e"/></linearGradient></defs>
<rect x="483" y="408" width="8.5" height="41.9" fill="url(#coefg)" />
<text x="494.1" y="415.9" font-size="6.1" fill="#333" stroke="#333" stroke-width="0.05" >0.05</text>
<text x="494.1" y="424" font-size="6.1" fill="#333" stroke="#333" stroke-width="0.05" >0.00</text>
<text x="494.1" y="432.5" font-size="6.1" fill="#333" stroke="#333" stroke-width="0.05" >−0.05</text>
<text x="494.1" y="440.3" font-size="6.1" fill="#333" stroke="#333" stroke-width="0.05" >−0.10</text>
<text x="494.1" y="448.6" font-size="6.1" fill="#333" stroke="#333" stroke-width="0.05" >−0.15</text>
<text x="483" y="461.6" font-size="6.2" fill="#333" stroke="#333" stroke-width="0.05" textLength="19.7" lengthAdjust="spacingAndGlyphs" >−log10</text>
<text x="483" y="468.9" font-size="6.2" fill="#333" stroke="#333" stroke-width="0.05" textLength="24.7" lengthAdjust="spacingAndGlyphs" >(<tspan font-style="italic">P</tspan>-value)</text>
<circle cx="486.7" cy="477.4" r="1.8" fill="#fff" stroke="#333" stroke-width="0.8"/>
<text x="494.5" y="479.5" font-size="6.2" fill="#333" stroke="#333" stroke-width="0.05" >1</text>
<circle cx="486.7" cy="485.7" r="2.7" fill="#fff" stroke="#333" stroke-width="0.8"/>
<text x="494.5" y="487.8" font-size="6.2" fill="#333" stroke="#333" stroke-width="0.05" >3</text>
<circle cx="486.7" cy="494.5" r="3.5" fill="#fff" stroke="#333" stroke-width="0.8"/>
<text x="494.5" y="496.6" font-size="6.2" fill="#333" stroke="#333" stroke-width="0.05" >5</text>
<circle cx="486.7" cy="508" r="1.6" fill="#333" stroke="#000" stroke-width="0.9"/>
<text x="491.7" y="510.1" font-size="6.3" fill="#333" stroke="#333" stroke-width="0.05" textLength="20.2" lengthAdjust="spacingAndGlyphs" ><tspan font-style="italic">P</tspan> &lt; .05</text>
<text x="8.5" y="568" font-size="10.6" fill="#111" font-weight="bold" stroke="#111" stroke-width="0.35">G</text>
<line x1="86.2" y1="570.5" x2="96.2" y2="570.5" stroke="#e5262a" stroke-width="0.9" />
<circle cx="91.3" cy="570.5" r="1.9" fill="#e5262a"/>
<text x="101.5" y="572.6" font-size="6.2" fill="#333" stroke="#333" stroke-width="0.05" textLength="28.2" lengthAdjust="spacingAndGlyphs" >HSPC-like</text>
<line x1="138.9" y1="570.9" x2="150.7" y2="570.9" stroke="#3a4fa0" stroke-width="0.9" />
<rect x="142.9" y="569.4" width="3.1" height="3.1" fill="#3a4fa0" />
<text x="153.7" y="572.8" font-size="6.3" fill="#333" stroke="#333" stroke-width="0.05" textLength="33.8" lengthAdjust="spacingAndGlyphs" >Lineage-like</text>
<text x="82.3" y="590.5" font-size="8.3" fill="#222" stroke="#222" stroke-width="0.05" text-anchor="middle" textLength="38.4" lengthAdjust="spacingAndGlyphs" >Vincristine</text>
<text x="194.5" y="590.5" font-size="8.5" fill="#222" stroke="#222" stroke-width="0.05" text-anchor="middle" textLength="50.8" lengthAdjust="spacingAndGlyphs" >Daunorubicin</text>
<line x1="37.6" y1="596" x2="37.6" y2="649.7" stroke="#111" stroke-width="0.9" />
<line x1="34.5" y1="603.6" x2="37.6" y2="603.6" stroke="#111" stroke-width="0.8" />
<text x="32.2" y="605.6" font-size="6.4" fill="#333" stroke="#333" stroke-width="0.05" text-anchor="end" >200</text>
<line x1="34.5" y1="615.12" x2="37.6" y2="615.12" stroke="#111" stroke-width="0.8" />
<text x="32.2" y="617.12" font-size="6.4" fill="#333" stroke="#333" stroke-width="0.05" text-anchor="end" >150</text>
<line x1="34.5" y1="626.65" x2="37.6" y2="626.65" stroke="#111" stroke-width="0.8" />
<text x="32.2" y="628.65" font-size="6.4" fill="#333" stroke="#333" stroke-width="0.05" text-anchor="end" >100</text>
<line x1="34.5" y1="638.18" x2="37.6" y2="638.18" stroke="#111" stroke-width="0.8" />
<text x="32.2" y="640.18" font-size="6.4" fill="#333" stroke="#333" stroke-width="0.05" text-anchor="end" >50</text>
<line x1="34.5" y1="649.7" x2="37.6" y2="649.7" stroke="#111" stroke-width="0.8" />
<text x="32.2" y="651.7" font-size="6.4" fill="#333" stroke="#333" stroke-width="0.05" text-anchor="end" >0</text>
<line x1="37.6" y1="649.7" x2="126.6" y2="649.7" stroke="#111" stroke-width="1" />
<line x1="37.7" y1="649.7" x2="37.7" y2="652.3" stroke="#111" stroke-width="0.9" />
<text x="37.9" y="656.8" font-size="6.3" fill="#333" stroke="#333" stroke-width="0.05" text-anchor="end" transform="rotate(-45 37.9 656.8)" >0.001</text>
<line x1="54.96" y1="649.7" x2="54.96" y2="652.3" stroke="#111" stroke-width="0.9" />
<text x="55.16" y="656.8" font-size="6.3" fill="#333" stroke="#333" stroke-width="0.05" text-anchor="end" transform="rotate(-45 55.16 656.8)" >0.01</text>
<line x1="72.22" y1="649.7" x2="72.22" y2="652.3" stroke="#111" stroke-width="0.9" />
<text x="72.42" y="656.8" font-size="6.3" fill="#333" stroke="#333" stroke-width="0.05" text-anchor="end" transform="rotate(-45 72.42 656.8)" >0.1</text>
<line x1="89.48" y1="649.7" x2="89.48" y2="652.3" stroke="#111" stroke-width="0.9" />
<text x="89.68" y="656.8" font-size="6.3" fill="#333" stroke="#333" stroke-width="0.05" text-anchor="end" transform="rotate(-45 89.68 656.8)" >1</text>
<line x1="106.74" y1="649.7" x2="106.74" y2="652.3" stroke="#111" stroke-width="0.9" />
<text x="106.94" y="656.8" font-size="6.3" fill="#333" stroke="#333" stroke-width="0.05" text-anchor="end" transform="rotate(-45 106.94 656.8)" >10</text>
<line x1="124" y1="649.7" x2="124" y2="652.3" stroke="#111" stroke-width="0.9" />
<text x="124.2" y="656.8" font-size="6.3" fill="#333" stroke="#333" stroke-width="0.05" text-anchor="end" transform="rotate(-45 124.2 656.8)" >100</text>
<path d="M57.5 612.3 L86 612.7 C91 613 95 614.5 98 621 C100.5 628 102 638 103.5 645.5 C104.3 648.3 105 648.8 107 648.8 L127 648.8" fill="none" stroke="#e5262a" stroke-width="0.9"/>
<path d="M41.2 621.3 L70.8 621.3 C71.6 622 72 630 72.5 644 C72.8 647 73.5 647.6 75 647.6 L127 647.6" fill="none" stroke="#3a4fa0" stroke-width="0.8"/>
<circle cx="72.5" cy="601.8" r="1.1" fill="#e5262a"/>
<circle cx="72.5" cy="613.8" r="1.1" fill="#e5262a"/>
<circle cx="88.8" cy="608.8" r="1.1" fill="#e5262a"/>
<circle cx="88.8" cy="619.5" r="1.1" fill="#e5262a"/>
<circle cx="103.8" cy="646.2" r="1.1" fill="#e5262a"/>
<circle cx="119.5" cy="646.5" r="1.1" fill="#e5262a"/>
<circle cx="57.5" cy="616.2" r="1.1" fill="#e5262a"/>
<circle cx="57.5" cy="618.8" r="1.1" fill="#e5262a"/>
<rect x="40.05" y="622.05" width="2.3" height="2.3" fill="#3a4fa0" />
<rect x="40.05" y="625.85" width="2.3" height="2.3" fill="#3a4fa0" />
<rect x="56.35" y="618.85" width="2.3" height="2.3" fill="#3a4fa0" />
<rect x="56.35" y="620.35" width="2.3" height="2.3" fill="#3a4fa0" />
<rect x="71.35" y="643.35" width="2.3" height="2.3" fill="#3a4fa0" />
<rect x="71.35" y="645.15" width="2.3" height="2.3" fill="#3a4fa0" />
<rect x="87.65" y="647.85" width="2.3" height="2.3" fill="#3a4fa0" />
<rect x="102.65" y="647.85" width="2.3" height="2.3" fill="#3a4fa0" />
<rect x="118.35" y="644.35" width="2.3" height="2.3" fill="#3a4fa0" />
<rect x="118.35" y="646.15" width="2.3" height="2.3" fill="#3a4fa0" />
<line x1="149.3" y1="596" x2="149.3" y2="649.7" stroke="#111" stroke-width="0.9" />
<line x1="146.2" y1="603.6" x2="149.3" y2="603.6" stroke="#111" stroke-width="0.8" />
<line x1="146.2" y1="615.12" x2="149.3" y2="615.12" stroke="#111" stroke-width="0.8" />
<line x1="146.2" y1="626.65" x2="149.3" y2="626.65" stroke="#111" stroke-width="0.8" />
<line x1="146.2" y1="638.18" x2="149.3" y2="638.18" stroke="#111" stroke-width="0.8" />
<line x1="146.2" y1="649.7" x2="149.3" y2="649.7" stroke="#111" stroke-width="0.8" />
<line x1="149.3" y1="649.7" x2="239.4" y2="649.7" stroke="#111" stroke-width="1" />
<line x1="150.1" y1="649.7" x2="150.1" y2="652.3" stroke="#111" stroke-width="0.9" />
<text x="150.3" y="656.8" font-size="6.3" fill="#333" stroke="#333" stroke-width="0.05" text-anchor="end" transform="rotate(-45 150.3 656.8)" >0.001</text>
<line x1="171.82" y1="649.7" x2="171.82" y2="652.3" stroke="#111" stroke-width="0.9" />
<text x="172.02" y="656.8" font-size="6.3" fill="#333" stroke="#333" stroke-width="0.05" text-anchor="end" transform="rotate(-45 172.02 656.8)" >0.01</text>
<line x1="193.54" y1="649.7" x2="193.54" y2="652.3" stroke="#111" stroke-width="0.9" />
<text x="193.74" y="656.8" font-size="6.3" fill="#333" stroke="#333" stroke-width="0.05" text-anchor="end" transform="rotate(-45 193.74 656.8)" >0.1</text>
<line x1="215.26" y1="649.7" x2="215.26" y2="652.3" stroke="#111" stroke-width="0.9" />
<text x="215.46" y="656.8" font-size="6.3" fill="#333" stroke="#333" stroke-width="0.05" text-anchor="end" transform="rotate(-45 215.46 656.8)" >1</text>
<line x1="236.98" y1="649.7" x2="236.98" y2="652.3" stroke="#111" stroke-width="0.9" />
<text x="237.18" y="656.8" font-size="6.3" fill="#333" stroke="#333" stroke-width="0.05" text-anchor="end" transform="rotate(-45 237.18 656.8)" >10</text>
<path d="M161.2 615 L187 615 C189.5 615.5 190.5 623 192.5 629 L194 630 L227 630" fill="none" stroke="#e5262a" stroke-width="0.9"/>
<path d="M161.2 620 C172 620.5 182 621.5 186 623.5 C192 627 196 636 201 645 C203 648.5 206 649 210 649 L227 649" fill="none" stroke="#3a4fa0" stroke-width="0.9"/>
<circle cx="161.2" cy="613.8" r="1.1" fill="#e5262a"/>
<circle cx="161.2" cy="637" r="1.1" fill="#e5262a"/>
<circle cx="174" cy="601.2" r="1.1" fill="#e5262a"/>
<circle cx="174" cy="609.5" r="1.1" fill="#e5262a"/>
<circle cx="188.5" cy="611.2" r="1.1" fill="#e5262a"/>
<circle cx="188.5" cy="620" r="1.1" fill="#e5262a"/>
<circle cx="201" cy="627.5" r="1.1" fill="#e5262a"/>
<circle cx="201" cy="637.5" r="1.1" fill="#e5262a"/>
<circle cx="214" cy="627.5" r="1.1" fill="#e5262a"/>
<circle cx="214" cy="633.8" r="1.1" fill="#e5262a"/>
<circle cx="227" cy="627" r="1.1" fill="#e5262a"/>
<circle cx="227" cy="628.8" r="1.1" fill="#e5262a"/>
<rect x="160.05" y="615.05" width="2.3" height="2.3" fill="#3a4fa0" />
<rect x="160.05" y="621.85" width="2.3" height="2.3" fill="#3a4fa0" />
<rect x="172.85" y="616.35" width="2.3" height="2.3" fill="#3a4fa0" />
<rect x="172.85" y="623.85" width="2.3" height="2.3" fill="#3a4fa0" />
<rect x="187.35" y="627.65" width="2.3" height="2.3" fill="#3a4fa0" />
<rect x="199.85" y="642.65" width="2.3" height="2.3" fill="#3a4fa0" />
<rect x="199.85" y="644.35" width="2.3" height="2.3" fill="#3a4fa0" />
<rect x="212.85" y="648.05" width="2.3" height="2.3" fill="#3a4fa0" />
<rect x="225.85" y="648.05" width="2.3" height="2.3" fill="#3a4fa0" />
<text x="15" y="626.7" font-size="7" fill="#333" stroke="#333" stroke-width="0.05" text-anchor="middle" transform="rotate(-90 15 626.7)" textLength="36.2" lengthAdjust="spacingAndGlyphs" >Viability (%)</text>
<text x="137.8" y="680.3" font-size="8" fill="#333" stroke="#333" stroke-width="0.05" text-anchor="middle" textLength="57.8" lengthAdjust="spacingAndGlyphs" >Concentration (uM)</text>
<text x="255.5" y="567.5" font-size="10.6" fill="#111" font-weight="bold" stroke="#111" stroke-width="0.35">H</text>
<line x1="296" y1="563.7" x2="296" y2="654.75" stroke="#111" stroke-width="0.9" />
<line x1="293" y1="573.8" x2="296" y2="573.8" stroke="#111" stroke-width="0.8" />
<text x="290.4" y="575.8" font-size="6.8" fill="#333" stroke="#333" stroke-width="0.05" text-anchor="end" >0.40</text>
<line x1="293" y1="597.4" x2="296" y2="597.4" stroke="#111" stroke-width="0.8" />
<text x="290.4" y="599.4" font-size="6.8" fill="#333" stroke="#333" stroke-width="0.05" text-anchor="end" >0.35</text>
<line x1="293" y1="621" x2="296" y2="621" stroke="#111" stroke-width="0.8" />
<text x="290.4" y="623" font-size="6.8" fill="#333" stroke="#333" stroke-width="0.05" text-anchor="end" >0.30</text>
<line x1="293" y1="644.6" x2="296" y2="644.6" stroke="#111" stroke-width="0.8" />
<text x="290.4" y="646.6" font-size="6.8" fill="#333" stroke="#333" stroke-width="0.05" text-anchor="end" >0.25</text>
<line x1="296" y1="654.75" x2="345" y2="654.75" stroke="#111" stroke-width="0.9" />
<line x1="305.25" y1="654.75" x2="305.25" y2="657.25" stroke="#111" stroke-width="0.8" />
<text x="306.05" y="662.95" font-size="6.9" fill="#333" stroke="#333" stroke-width="0.05" text-anchor="end" transform="rotate(-45 306.05 662.95)" >Dex</text>
<line x1="320.6" y1="654.75" x2="320.6" y2="657.25" stroke="#111" stroke-width="0.8" />
<text x="321.4" y="662.95" font-size="6.9" fill="#333" stroke="#333" stroke-width="0.05" text-anchor="end" transform="rotate(-45 321.4 662.95)" >VCR</text>
<line x1="335.8" y1="654.75" x2="335.8" y2="657.25" stroke="#111" stroke-width="0.8" />
<text x="336.6" y="662.95" font-size="6.9" fill="#333" stroke="#333" stroke-width="0.05" text-anchor="end" transform="rotate(-45 336.6 662.95)" >Ctrl</text>
<line x1="305.3" y1="582.2" x2="305.3" y2="588.5" stroke="#333" stroke-width="0.9" />
<line x1="305.3" y1="601.2" x2="305.3" y2="604.6" stroke="#333" stroke-width="0.9" />
<rect x="299.65" y="588.5" width="11.3" height="12.7" fill="#7a6ec0" stroke="#7a6ec0" stroke-width="0.4" />
<line x1="299.65" y1="594.4" x2="310.95" y2="594.4" stroke="#2f2470" stroke-width="1" />
<line x1="315.2" y1="580.5" x2="325.6" y2="580.5" stroke="#3a2a14" stroke-width="1" />
<line x1="320.5" y1="579.3" x2="320.5" y2="581.7" stroke="#3a2a14" stroke-width="0.8" />
<line x1="336.2" y1="628.7" x2="336.2" y2="633.1" stroke="#333" stroke-width="0.9" />
<line x1="336.2" y1="641.6" x2="336.2" y2="650.5" stroke="#333" stroke-width="0.9" />
<rect x="331.2" y="633.1" width="10" height="8.5" fill="#1f9c6e" stroke="#1f9c6e" stroke-width="0.4" />
<line x1="331.2" y1="641" x2="341.2" y2="641" stroke="#0a5a3a" stroke-width="1" />
<path d="M320.2 567.8 V565.6 H336.5 V567.8" fill="none" stroke="#333" stroke-width="0.8"/>
<text x="328.35" y="563.5" font-size="6.4" fill="#333" stroke="#333" stroke-width="0.05" text-anchor="middle" >2.6e−05</text>
<path d="M305.1 577.6 V575.4 H336.3 V577.6" fill="none" stroke="#333" stroke-width="0.8"/>
<text x="320.7" y="573.75" font-size="6.4" fill="#333" stroke="#333" stroke-width="0.05" text-anchor="middle" >6.1e−06</text>
<text x="261.8" y="609.2" font-size="7" fill="#333" stroke="#333" stroke-width="0.05" text-anchor="middle" transform="rotate(-90 261.8 609.2)" textLength="59.3" lengthAdjust="spacingAndGlyphs" >Fraction of projected</text>
<text x="270.6" y="609.8" font-size="7" fill="#333" stroke="#333" stroke-width="0.05" text-anchor="middle" transform="rotate(-90 270.6 609.8)" textLength="45.5" lengthAdjust="spacingAndGlyphs" >HSPC-like blasts</text>
<text x="360.5" y="567.5" font-size="10.6" fill="#111" font-weight="bold" stroke="#111" stroke-width="0.35">I</text>
<line x1="391.5" y1="564.1" x2="391.5" y2="655.6" stroke="#111" stroke-width="0.9" />
<line x1="388.5" y1="567.3" x2="391.5" y2="567.3" stroke="#111" stroke-width="0.8" />
<text x="387.6" y="569.3" font-size="6.6" fill="#333" stroke="#333" stroke-width="0.05" text-anchor="end" >1.0</text>
<line x1="388.5" y1="588" x2="391.5" y2="588" stroke="#111" stroke-width="0.8" />
<text x="387.6" y="590" font-size="6.6" fill="#333" stroke="#333" stroke-width="0.05" text-anchor="end" >0.5</text>
<line x1="388.5" y1="608.7" x2="391.5" y2="608.7" stroke="#111" stroke-width="0.8" />
<text x="387.6" y="610.7" font-size="6.6" fill="#333" stroke="#333" stroke-width="0.05" text-anchor="end" >0.0</text>
<line x1="388.5" y1="629.4" x2="391.5" y2="629.4" stroke="#111" stroke-width="0.8" />
<text x="387.6" y="631.4" font-size="6.6" fill="#333" stroke="#333" stroke-width="0.05" text-anchor="end" >−0.5</text>
<line x1="388.5" y1="650.1" x2="391.5" y2="650.1" stroke="#111" stroke-width="0.8" />
<text x="387.6" y="652.1" font-size="6.6" fill="#333" stroke="#333" stroke-width="0.05" text-anchor="end" >−1.0</text>
<line x1="391.5" y1="655.6" x2="510.5" y2="655.6" stroke="#111" stroke-width="1.1" />
<line x1="397.9" y1="655.6" x2="397.9" y2="658.2" stroke="#111" stroke-width="0.9" />
<text x="397.9" y="666.8" font-size="6.4" fill="#333" stroke="#333" stroke-width="0.05" text-anchor="middle" >0</text>
<line x1="432.15" y1="655.6" x2="432.15" y2="658.2" stroke="#111" stroke-width="0.9" />
<text x="432.15" y="666.8" font-size="6.4" fill="#333" stroke="#333" stroke-width="0.05" text-anchor="middle" >100</text>
<line x1="466.4" y1="655.6" x2="466.4" y2="658.2" stroke="#111" stroke-width="0.9" />
<text x="466.4" y="666.8" font-size="6.4" fill="#333" stroke="#333" stroke-width="0.05" text-anchor="middle" >200</text>
<line x1="500.65" y1="655.6" x2="500.65" y2="658.2" stroke="#111" stroke-width="0.9" />
<text x="500.65" y="666.8" font-size="6.4" fill="#333" stroke="#333" stroke-width="0.05" text-anchor="middle" >300</text>
<text x="368.2" y="608.9" font-size="7.2" fill="#333" stroke="#333" stroke-width="0.05" text-anchor="middle" transform="rotate(-90 368.2 608.9)" textLength="26" lengthAdjust="spacingAndGlyphs" >Log2(FC)</text>
<text x="436" y="676.9" font-size="6.6" fill="#333" stroke="#333" stroke-width="0.05" textLength="11.8" lengthAdjust="spacingAndGlyphs" >−Log</text>
<text x="448" y="679.6" font-size="5" fill="#333" stroke="#333" stroke-width="0.05" >10</text>
<text x="455.6" y="676.1" font-size="6.4" fill="#333" stroke="#333" stroke-width="0.05" font-style="italic" >P</text>
<circle cx="402.31" cy="602.03" r="0.8" fill="#111"/>
<circle cx="402.46" cy="613.88" r="0.8" fill="#111"/>
<circle cx="402.94" cy="603.15" r="0.8" fill="#111"/>
<circle cx="402.98" cy="614.25" r="0.8" fill="#111"/>
<circle cx="404.32" cy="603.55" r="0.8" fill="#111"/>
<circle cx="400.63" cy="614.14" r="0.8" fill="#111"/>
<circle cx="398.22" cy="604.4" r="0.8" fill="#111"/>
<circle cx="397.67" cy="613.57" r="0.8" fill="#111"/>
<circle cx="408.3" cy="604.57" r="0.8" fill="#111"/>
<circle cx="404.16" cy="614.29" r="0.8" fill="#111"/>
<circle cx="398.98" cy="604.74" r="0.8" fill="#111"/>
<circle cx="397.87" cy="614.38" r="0.8" fill="#111"/>
<circle cx="399.35" cy="603.98" r="0.8" fill="#111"/>
<circle cx="402.44" cy="614.67" r="0.8" fill="#111"/>
<circle cx="402.18" cy="604.18" r="0.8" fill="#111"/>
<circle cx="404.44" cy="613.73" r="0.8" fill="#111"/>
<circle cx="402.85" cy="603.14" r="0.8" fill="#111"/>
<circle cx="400.34" cy="613.81" r="0.8" fill="#111"/>
<circle cx="408.47" cy="605.11" r="0.8" fill="#111"/>
<circle cx="405.2" cy="614.54" r="0.8" fill="#111"/>
<circle cx="400.76" cy="603.89" r="0.8" fill="#111"/>
<circle cx="397.99" cy="614.77" r="0.8" fill="#111"/>
<circle cx="405.86" cy="601.77" r="0.8" fill="#111"/>
<circle cx="401.57" cy="615.24" r="0.8" fill="#111"/>
<circle cx="408.03" cy="603.07" r="0.8" fill="#111"/>
<circle cx="399.57" cy="614.37" r="0.8" fill="#111"/>
<circle cx="407.49" cy="600.23" r="0.8" fill="#111"/>
<circle cx="401.69" cy="614.83" r="0.8" fill="#111"/>
<circle cx="398.03" cy="603.46" r="0.8" fill="#111"/>
<circle cx="400.25" cy="613.61" r="0.8" fill="#111"/>
<circle cx="398.18" cy="603.39" r="0.8" fill="#111"/>
<circle cx="405.77" cy="616.57" r="0.8" fill="#111"/>
<circle cx="398.53" cy="604.06" r="0.8" fill="#111"/>
<circle cx="397.88" cy="614.57" r="0.8" fill="#111"/>
<circle cx="406.21" cy="603.79" r="0.8" fill="#111"/>
<circle cx="402.26" cy="615.31" r="0.8" fill="#111"/>
<circle cx="399.35" cy="603.93" r="0.8" fill="#111"/>
<circle cx="404.47" cy="614.12" r="0.8" fill="#111"/>
<circle cx="398.52" cy="603.71" r="0.8" fill="#111"/>
<circle cx="400.25" cy="614.62" r="0.8" fill="#111"/>
<circle cx="408.17" cy="603.34" r="0.8" fill="#111"/>
<circle cx="407.2" cy="613.9" r="0.8" fill="#111"/>
<circle cx="399.58" cy="602.98" r="0.8" fill="#111"/>
<circle cx="404.45" cy="615.55" r="0.8" fill="#111"/>
<circle cx="398.33" cy="604.47" r="0.8" fill="#111"/>
<circle cx="400.12" cy="614.37" r="0.8" fill="#111"/>
<circle cx="405.93" cy="602.89" r="0.8" fill="#111"/>
<circle cx="398.03" cy="614.73" r="0.8" fill="#111"/>
<circle cx="398.22" cy="603.73" r="0.8" fill="#111"/>
<circle cx="403.99" cy="614.24" r="0.8" fill="#111"/>
<circle cx="401.4" cy="602" r="0.8" fill="#111"/>
<circle cx="402.67" cy="615.04" r="0.8" fill="#111"/>
<circle cx="403.69" cy="603.87" r="0.8" fill="#111"/>
<circle cx="398.94" cy="614.09" r="0.8" fill="#111"/>
<circle cx="407.47" cy="603.44" r="0.8" fill="#111"/>
<circle cx="399.34" cy="613.97" r="0.8" fill="#111"/>
<circle cx="405.56" cy="603.89" r="0.8" fill="#111"/>
<circle cx="407.94" cy="614.44" r="0.8" fill="#111"/>
<circle cx="407.17" cy="602.28" r="0.8" fill="#111"/>
<circle cx="398.37" cy="613.99" r="0.8" fill="#111"/>
<circle cx="397.64" cy="604.53" r="0.8" fill="#111"/>
<circle cx="405.16" cy="614.44" r="0.8" fill="#111"/>
<circle cx="400.1" cy="604.29" r="0.8" fill="#111"/>
<circle cx="400.52" cy="613.64" r="0.8" fill="#111"/>
<circle cx="399.18" cy="603.95" r="0.8" fill="#111"/>
<circle cx="399.78" cy="614.16" r="0.8" fill="#111"/>
<circle cx="403.52" cy="604.22" r="0.8" fill="#111"/>
<circle cx="400.37" cy="613.71" r="0.8" fill="#111"/>
<circle cx="407.57" cy="603.15" r="0.8" fill="#111"/>
<circle cx="400.24" cy="614.52" r="0.8" fill="#111"/>
<circle cx="402.24" cy="604.11" r="0.8" fill="#111"/>
<circle cx="401.37" cy="614.61" r="0.8" fill="#111"/>
<circle cx="403.67" cy="604.06" r="0.8" fill="#111"/>
<circle cx="407.27" cy="615.32" r="0.8" fill="#111"/>
<circle cx="408.28" cy="602.1" r="0.8" fill="#111"/>
<circle cx="403.8" cy="613.52" r="0.8" fill="#111"/>
<circle cx="398.79" cy="604.14" r="0.8" fill="#111"/>
<circle cx="407.49" cy="614.7" r="0.8" fill="#111"/>
<circle cx="405.12" cy="603.54" r="0.8" fill="#111"/>
<circle cx="404.39" cy="614.52" r="0.8" fill="#111"/>
<circle cx="402.65" cy="603.54" r="0.8" fill="#111"/>
<circle cx="408.49" cy="613.83" r="0.8" fill="#111"/>
<circle cx="398.05" cy="603.26" r="0.8" fill="#111"/>
<circle cx="407.37" cy="614.22" r="0.8" fill="#111"/>
<circle cx="405.53" cy="602.84" r="0.8" fill="#111"/>
<circle cx="407.54" cy="613.04" r="0.8" fill="#111"/>
<circle cx="401.18" cy="603.17" r="0.8" fill="#111"/>
<circle cx="407.04" cy="612.8" r="0.8" fill="#111"/>
<circle cx="401.91" cy="604.08" r="0.8" fill="#111"/>
<circle cx="403.67" cy="613.01" r="0.8" fill="#111"/>
<circle cx="404.26" cy="602.6" r="0.8" fill="#111"/>
<circle cx="404.08" cy="615.26" r="0.8" fill="#111"/>
<circle cx="398.11" cy="602.99" r="0.8" fill="#111"/>
<circle cx="407.14" cy="612.37" r="0.8" fill="#111"/>
<circle cx="405.43" cy="602.16" r="0.8" fill="#111"/>
<circle cx="403.76" cy="615.36" r="0.8" fill="#111"/>
<circle cx="402.18" cy="603.84" r="0.8" fill="#111"/>
<circle cx="405.68" cy="614.29" r="0.8" fill="#111"/>
<circle cx="397.54" cy="603.69" r="0.8" fill="#111"/>
<circle cx="399.8" cy="613.97" r="0.8" fill="#111"/>
<circle cx="405.09" cy="602.09" r="0.8" fill="#111"/>
<circle cx="407.6" cy="614.69" r="0.8" fill="#111"/>
<circle cx="400.09" cy="604.44" r="0.8" fill="#111"/>
<circle cx="404.86" cy="614.62" r="0.8" fill="#111"/>
<circle cx="399.49" cy="604.61" r="0.8" fill="#111"/>
<circle cx="404.66" cy="616.14" r="0.8" fill="#111"/>
<circle cx="402.19" cy="604.2" r="0.8" fill="#111"/>
<circle cx="404.72" cy="614.1" r="0.8" fill="#111"/>
<circle cx="399.44" cy="602.94" r="0.8" fill="#111"/>
<circle cx="407.53" cy="615.39" r="0.8" fill="#111"/>
<circle cx="407.15" cy="602.13" r="0.8" fill="#111"/>
<circle cx="400.78" cy="615" r="0.8" fill="#111"/>
<circle cx="398.74" cy="602.93" r="0.8" fill="#111"/>
<circle cx="406.79" cy="614.68" r="0.8" fill="#111"/>
<circle cx="405.24" cy="604.06" r="0.8" fill="#111"/>
<circle cx="399.11" cy="614.22" r="0.8" fill="#111"/>
<circle cx="402.29" cy="603.58" r="0.8" fill="#111"/>
<circle cx="401.88" cy="614.95" r="0.8" fill="#111"/>
<circle cx="404.27" cy="602.69" r="0.8" fill="#111"/>
<circle cx="406.68" cy="614.67" r="0.8" fill="#111"/>
<circle cx="408.3" cy="602.61" r="0.8" fill="#111"/>
<circle cx="397.56" cy="614.37" r="0.8" fill="#111"/>
<circle cx="407.06" cy="604.71" r="0.8" fill="#111"/>
<circle cx="403.65" cy="614.85" r="0.8" fill="#111"/>
<circle cx="400.69" cy="603.86" r="0.8" fill="#111"/>
<circle cx="398.74" cy="614.25" r="0.8" fill="#111"/>
<circle cx="402.34" cy="605.09" r="0.8" fill="#111"/>
<circle cx="399.88" cy="614.58" r="0.8" fill="#111"/>
<circle cx="398.79" cy="604.82" r="0.8" fill="#111"/>
<circle cx="402.25" cy="614.77" r="0.8" fill="#111"/>
<circle cx="404.32" cy="602.55" r="0.8" fill="#111"/>
<circle cx="408.03" cy="613.21" r="0.8" fill="#111"/>
<circle cx="404.93" cy="603.7" r="0.8" fill="#111"/>
<circle cx="399.22" cy="615.01" r="0.8" fill="#111"/>
<circle cx="397.32" cy="603.4" r="0.8" fill="#111"/>
<circle cx="399.22" cy="614.53" r="0.8" fill="#111"/>
<circle cx="400.28" cy="603.29" r="0.8" fill="#111"/>
<circle cx="403.08" cy="615.48" r="0.8" fill="#111"/>
<circle cx="404.14" cy="603.5" r="0.8" fill="#111"/>
<circle cx="406.15" cy="613.72" r="0.8" fill="#111"/>
<circle cx="407.44" cy="605.18" r="0.8" fill="#111"/>
<circle cx="405.36" cy="615.63" r="0.8" fill="#111"/>
<circle cx="398.67" cy="603.27" r="0.8" fill="#111"/>
<circle cx="407.48" cy="615.05" r="0.8" fill="#111"/>
<circle cx="401.46" cy="602.39" r="0.8" fill="#111"/>
<circle cx="406.2" cy="613.84" r="0.8" fill="#111"/>
<circle cx="407.87" cy="601.56" r="0.8" fill="#111"/>
<circle cx="399.52" cy="614.58" r="0.8" fill="#111"/>
<circle cx="405.36" cy="603.89" r="0.8" fill="#111"/>
<circle cx="405.31" cy="613.47" r="0.8" fill="#111"/>
<circle cx="399.61" cy="605.37" r="0.8" fill="#111"/>
<circle cx="408.24" cy="613.06" r="0.8" fill="#111"/>
<circle cx="403.27" cy="603.74" r="0.8" fill="#111"/>
<circle cx="407.48" cy="613.85" r="0.8" fill="#111"/>
<circle cx="406.87" cy="602.93" r="0.8" fill="#111"/>
<circle cx="402.18" cy="614.72" r="0.8" fill="#111"/>
<circle cx="403.42" cy="603.65" r="0.8" fill="#111"/>
<circle cx="397.52" cy="613.72" r="0.8" fill="#111"/>
<circle cx="406.34" cy="604.86" r="0.8" fill="#111"/>
<circle cx="399.15" cy="614.78" r="0.8" fill="#111"/>
<circle cx="400.99" cy="603.89" r="0.8" fill="#111"/>
<circle cx="398.88" cy="614.05" r="0.8" fill="#111"/>
<circle cx="403.04" cy="603.32" r="0.8" fill="#111"/>
<circle cx="404.99" cy="612.98" r="0.8" fill="#111"/>
<circle cx="407.89" cy="600.46" r="0.8" fill="#111"/>
<circle cx="398.17" cy="614.4" r="0.8" fill="#111"/>
<circle cx="399.7" cy="603.42" r="0.8" fill="#111"/>
<circle cx="405.44" cy="614.47" r="0.8" fill="#111"/>
<circle cx="404.42" cy="601.75" r="0.8" fill="#111"/>
<circle cx="403.53" cy="614.31" r="0.8" fill="#111"/>
<circle cx="400.72" cy="602.85" r="0.8" fill="#111"/>
<circle cx="407.38" cy="615.91" r="0.8" fill="#111"/>
<circle cx="399.55" cy="604.92" r="0.8" fill="#111"/>
<circle cx="403.12" cy="612.89" r="0.8" fill="#111"/>
<circle cx="403.67" cy="603.83" r="0.8" fill="#111"/>
<circle cx="402.89" cy="615.39" r="0.8" fill="#111"/>
<circle cx="404.04" cy="605.72" r="0.8" fill="#111"/>
<circle cx="403.03" cy="614.85" r="0.8" fill="#111"/>
<circle cx="401.73" cy="604.02" r="0.8" fill="#111"/>
<circle cx="402.75" cy="613.59" r="0.8" fill="#111"/>
<circle cx="405.01" cy="604.41" r="0.8" fill="#111"/>
<circle cx="401.88" cy="614.82" r="0.8" fill="#111"/>
<circle cx="408.01" cy="603.81" r="0.8" fill="#111"/>
<circle cx="402.55" cy="614.22" r="0.8" fill="#111"/>
<circle cx="398.63" cy="603.08" r="0.8" fill="#111"/>
<circle cx="407.38" cy="615.37" r="0.8" fill="#111"/>
<circle cx="402.58" cy="603.42" r="0.8" fill="#111"/>
<circle cx="404.18" cy="615.03" r="0.8" fill="#111"/>
<circle cx="407.66" cy="604.35" r="0.8" fill="#111"/>
<circle cx="397.46" cy="614.96" r="0.8" fill="#111"/>
<circle cx="399.39" cy="604.1" r="0.8" fill="#111"/>
<circle cx="400.84" cy="615.43" r="0.8" fill="#111"/>
<circle cx="401.22" cy="603.53" r="0.8" fill="#111"/>
<circle cx="405.46" cy="614.31" r="0.8" fill="#111"/>
<circle cx="398.59" cy="603.62" r="0.8" fill="#111"/>
<circle cx="399.43" cy="614.35" r="0.8" fill="#111"/>
<circle cx="403.19" cy="602.83" r="0.8" fill="#111"/>
<circle cx="401.87" cy="614.73" r="0.8" fill="#111"/>
<circle cx="403.18" cy="603.86" r="0.8" fill="#111"/>
<circle cx="404.33" cy="615.02" r="0.8" fill="#111"/>
<circle cx="404.41" cy="601.74" r="0.8" fill="#111"/>
<circle cx="404.11" cy="614.25" r="0.8" fill="#111"/>
<circle cx="406.88" cy="603.35" r="0.8" fill="#111"/>
<circle cx="406.36" cy="616.1" r="0.8" fill="#111"/>
<circle cx="407.4" cy="602.75" r="0.8" fill="#111"/>
<circle cx="407.63" cy="615.43" r="0.8" fill="#111"/>
<circle cx="399.67" cy="605.26" r="0.8" fill="#111"/>
<circle cx="398.71" cy="614.34" r="0.8" fill="#111"/>
<circle cx="399.9" cy="603.84" r="0.8" fill="#111"/>
<circle cx="398.3" cy="613.92" r="0.8" fill="#111"/>
<circle cx="406.6" cy="601.65" r="0.8" fill="#111"/>
<circle cx="398.62" cy="614.82" r="0.8" fill="#111"/>
<circle cx="401.75" cy="603.66" r="0.8" fill="#111"/>
<circle cx="399.47" cy="614.28" r="0.8" fill="#111"/>
<circle cx="404.91" cy="605.41" r="0.8" fill="#111"/>
<circle cx="398.5" cy="613.57" r="0.8" fill="#111"/>
<circle cx="402.91" cy="603.64" r="0.8" fill="#111"/>
<circle cx="404.95" cy="613.58" r="0.8" fill="#111"/>
<circle cx="399.34" cy="604.24" r="0.8" fill="#111"/>
<circle cx="397.62" cy="614.42" r="0.8" fill="#111"/>
<circle cx="403.43" cy="602.46" r="0.8" fill="#111"/>
<circle cx="398.86" cy="614.29" r="0.8" fill="#111"/>
<circle cx="399.29" cy="604.31" r="0.8" fill="#111"/>
<circle cx="408.39" cy="616.52" r="0.8" fill="#111"/>
<circle cx="407.67" cy="603.4" r="0.8" fill="#111"/>
<circle cx="407.95" cy="614.88" r="0.8" fill="#111"/>
<circle cx="402.42" cy="603.71" r="0.8" fill="#111"/>
<circle cx="402.48" cy="613.84" r="0.8" fill="#111"/>
<circle cx="403.02" cy="602.59" r="0.8" fill="#111"/>
<circle cx="397.35" cy="614.6" r="0.8" fill="#111"/>
<circle cx="405.12" cy="603.68" r="0.8" fill="#111"/>
<circle cx="402.33" cy="614.1" r="0.8" fill="#111"/>
<circle cx="405.55" cy="602.8" r="0.8" fill="#111"/>
<circle cx="399.07" cy="614.58" r="0.8" fill="#111"/>
<circle cx="402.99" cy="605.28" r="0.8" fill="#111"/>
<circle cx="406.26" cy="614.8" r="0.8" fill="#111"/>
<circle cx="405.16" cy="604.19" r="0.8" fill="#111"/>
<circle cx="401.77" cy="613.7" r="0.8" fill="#111"/>
<circle cx="403.98" cy="601.03" r="0.8" fill="#111"/>
<circle cx="406.29" cy="614.55" r="0.8" fill="#111"/>
<circle cx="400.12" cy="604.81" r="0.8" fill="#111"/>
<circle cx="405.99" cy="613.83" r="0.8" fill="#111"/>
<circle cx="406.41" cy="601.48" r="0.8" fill="#111"/>
<circle cx="407.14" cy="615.77" r="0.8" fill="#111"/>
<circle cx="405.05" cy="603.54" r="0.8" fill="#111"/>
<circle cx="401.78" cy="613.27" r="0.8" fill="#111"/>
<circle cx="405.37" cy="604.1" r="0.8" fill="#111"/>
<circle cx="402.5" cy="614.78" r="0.8" fill="#111"/>
<circle cx="397.32" cy="603.74" r="0.8" fill="#111"/>
<circle cx="404.25" cy="615.46" r="0.8" fill="#111"/>
<circle cx="399.82" cy="604.81" r="0.8" fill="#111"/>
<circle cx="401.02" cy="614.1" r="0.8" fill="#111"/>
<circle cx="404.66" cy="602.41" r="0.8" fill="#111"/>
<circle cx="401.6" cy="614.09" r="0.8" fill="#111"/>
<circle cx="408.5" cy="601.93" r="0.8" fill="#111"/>
<circle cx="405.81" cy="613.54" r="0.8" fill="#111"/>
<circle cx="408.27" cy="604.51" r="0.8" fill="#111"/>
<circle cx="405.55" cy="614.77" r="0.8" fill="#111"/>
<circle cx="400.1" cy="603.72" r="0.8" fill="#111"/>
<circle cx="399.41" cy="614.49" r="0.8" fill="#111"/>
<circle cx="401.45" cy="604.2" r="0.8" fill="#111"/>
<circle cx="407.43" cy="615.08" r="0.8" fill="#111"/>
<circle cx="403.42" cy="601.37" r="0.8" fill="#111"/>
<circle cx="403.62" cy="614.43" r="0.8" fill="#111"/>
<circle cx="408.44" cy="601.71" r="0.8" fill="#111"/>
<circle cx="398.06" cy="613.58" r="0.8" fill="#111"/>
<circle cx="403.95" cy="603.5" r="0.8" fill="#111"/>
<circle cx="407.71" cy="614.38" r="0.8" fill="#111"/>
<circle cx="399.01" cy="603.65" r="0.8" fill="#111"/>
<circle cx="402.8" cy="614.58" r="0.8" fill="#111"/>
<circle cx="404.11" cy="605.42" r="0.8" fill="#111"/>
<circle cx="401.95" cy="615.08" r="0.8" fill="#111"/>
<circle cx="403.15" cy="602.93" r="0.8" fill="#111"/>
<circle cx="400.43" cy="614.06" r="0.8" fill="#111"/>
<circle cx="404.6" cy="602.74" r="0.8" fill="#111"/>
<circle cx="405.3" cy="614.33" r="0.8" fill="#111"/>
<circle cx="400.55" cy="604.35" r="0.8" fill="#111"/>
<circle cx="397.68" cy="614.35" r="0.8" fill="#111"/>
<circle cx="398.97" cy="604.03" r="0.8" fill="#111"/>
<circle cx="407.34" cy="613.72" r="0.8" fill="#111"/>
<circle cx="405.66" cy="606.01" r="0.8" fill="#111"/>
<circle cx="407.87" cy="615.58" r="0.8" fill="#111"/>
<circle cx="398.03" cy="604.59" r="0.8" fill="#111"/>
<circle cx="402.6" cy="614.05" r="0.8" fill="#111"/>
<circle cx="408.2" cy="603.08" r="0.8" fill="#111"/>
<circle cx="407.79" cy="615.85" r="0.8" fill="#111"/>
<circle cx="405.37" cy="600.79" r="0.8" fill="#111"/>
<circle cx="406.43" cy="615.12" r="0.8" fill="#111"/>
<circle cx="404.02" cy="604.38" r="0.8" fill="#111"/>
<circle cx="402.35" cy="615.16" r="0.8" fill="#111"/>
<circle cx="399.5" cy="604.68" r="0.8" fill="#111"/>
<circle cx="398.6" cy="614.57" r="0.8" fill="#111"/>
<circle cx="402.2" cy="603.25" r="0.8" fill="#111"/>
<circle cx="400.16" cy="613.8" r="0.8" fill="#111"/>
<circle cx="403.78" cy="602.21" r="0.8" fill="#111"/>
<circle cx="403.2" cy="615.16" r="0.8" fill="#111"/>
<circle cx="408.47" cy="604.71" r="0.8" fill="#111"/>
<circle cx="399.89" cy="614.1" r="0.8" fill="#111"/>
<circle cx="398.49" cy="604.84" r="0.8" fill="#111"/>
<circle cx="404.26" cy="613.66" r="0.8" fill="#111"/>
<circle cx="401.26" cy="603.62" r="0.8" fill="#111"/>
<circle cx="403.58" cy="615.7" r="0.8" fill="#111"/>
<circle cx="403.89" cy="602.53" r="0.8" fill="#111"/>
<circle cx="399.34" cy="613.64" r="0.8" fill="#111"/>
<circle cx="400.01" cy="605.33" r="0.8" fill="#111"/>
<circle cx="407.13" cy="614.39" r="0.8" fill="#111"/>
<circle cx="397.65" cy="604.54" r="0.8" fill="#111"/>
<circle cx="402" cy="614.68" r="0.8" fill="#111"/>
<circle cx="404.24" cy="604.33" r="0.8" fill="#111"/>
<circle cx="398.02" cy="614.73" r="0.8" fill="#111"/>
<circle cx="398.18" cy="603.78" r="0.8" fill="#111"/>
<circle cx="404.33" cy="613.63" r="0.8" fill="#111"/>
<circle cx="401.42" cy="603.26" r="0.8" fill="#111"/>
<circle cx="401.08" cy="614.5" r="0.8" fill="#111"/>
<circle cx="405.62" cy="603.5" r="0.8" fill="#111"/>
<circle cx="398.55" cy="614.16" r="0.8" fill="#111"/>
<circle cx="406.34" cy="602.03" r="0.8" fill="#111"/>
<circle cx="399.61" cy="613.66" r="0.8" fill="#111"/>
<circle cx="402" cy="603.62" r="0.8" fill="#111"/>
<circle cx="401.37" cy="615.69" r="0.8" fill="#111"/>
<circle cx="404.59" cy="604.21" r="0.8" fill="#111"/>
<circle cx="403.4" cy="614.47" r="0.8" fill="#111"/>
<circle cx="405.63" cy="604.18" r="0.8" fill="#111"/>
<circle cx="401.37" cy="614.1" r="0.8" fill="#111"/>
<circle cx="398.3" cy="604.24" r="0.8" fill="#111"/>
<circle cx="398.14" cy="614.18" r="0.8" fill="#111"/>
<circle cx="403.58" cy="602.25" r="0.8" fill="#111"/>
<circle cx="400.58" cy="614.51" r="0.8" fill="#111"/>
<circle cx="405.96" cy="603.86" r="0.8" fill="#111"/>
<circle cx="404.68" cy="614.83" r="0.8" fill="#111"/>
<circle cx="398.12" cy="603.81" r="0.8" fill="#111"/>
<circle cx="405.04" cy="615.86" r="0.8" fill="#111"/>
<circle cx="400.4" cy="604.25" r="0.8" fill="#111"/>
<circle cx="405.4" cy="615.23" r="0.8" fill="#111"/>
<circle cx="401.34" cy="604.6" r="0.8" fill="#111"/>
<circle cx="403.63" cy="615.36" r="0.8" fill="#111"/>
<circle cx="407.58" cy="605.26" r="0.8" fill="#111"/>
<circle cx="402.15" cy="613.89" r="0.8" fill="#111"/>
<circle cx="406.27" cy="602.95" r="0.8" fill="#111"/>
<circle cx="401.72" cy="615.04" r="0.8" fill="#111"/>
<circle cx="407.76" cy="603.71" r="0.8" fill="#111"/>
<circle cx="401.29" cy="614.13" r="0.8" fill="#111"/>
<circle cx="401.33" cy="603.29" r="0.8" fill="#111"/>
<circle cx="401.58" cy="614.98" r="0.8" fill="#111"/>
<circle cx="399.4" cy="602.95" r="0.8" fill="#111"/>
<circle cx="403.31" cy="613.98" r="0.8" fill="#111"/>
<circle cx="406.65" cy="602.62" r="0.8" fill="#111"/>
<circle cx="405.78" cy="614.39" r="0.8" fill="#111"/>
<circle cx="407.15" cy="603.1" r="0.8" fill="#111"/>
<circle cx="403.03" cy="614.66" r="0.8" fill="#111"/>
<circle cx="403.35" cy="601.58" r="0.8" fill="#111"/>
<circle cx="404.56" cy="613.68" r="0.8" fill="#111"/>
<circle cx="406.29" cy="604.37" r="0.8" fill="#111"/>
<circle cx="406.11" cy="615.06" r="0.8" fill="#111"/>
<circle cx="398.15" cy="604.88" r="0.8" fill="#111"/>
<circle cx="407.36" cy="615.42" r="0.8" fill="#111"/>
<circle cx="398.16" cy="603.89" r="0.8" fill="#111"/>
<circle cx="405.63" cy="614.24" r="0.8" fill="#111"/>
<circle cx="404.53" cy="603.44" r="0.8" fill="#111"/>
<circle cx="405.85" cy="615.23" r="0.8" fill="#111"/>
<circle cx="403.09" cy="603.65" r="0.8" fill="#111"/>
<circle cx="401.02" cy="613.77" r="0.8" fill="#111"/>
<circle cx="408.14" cy="602.45" r="0.8" fill="#111"/>
<circle cx="403.27" cy="613.72" r="0.8" fill="#111"/>
<circle cx="405.35" cy="602.8" r="0.8" fill="#111"/>
<circle cx="401.84" cy="612.95" r="0.8" fill="#111"/>
<circle cx="406.54" cy="602.23" r="0.8" fill="#111"/>
<circle cx="406.31" cy="613.09" r="0.8" fill="#111"/>
<circle cx="406.62" cy="605.12" r="0.8" fill="#111"/>
<circle cx="404.44" cy="613.23" r="0.8" fill="#111"/>
<circle cx="403.12" cy="603.21" r="0.8" fill="#111"/>
<circle cx="401.96" cy="613.23" r="0.8" fill="#111"/>
<circle cx="401.95" cy="604.45" r="0.8" fill="#111"/>
<circle cx="408.4" cy="616" r="0.8" fill="#111"/>
<circle cx="401.44" cy="603.99" r="0.8" fill="#111"/>
<circle cx="402" cy="614.89" r="0.8" fill="#111"/>
<circle cx="400.5" cy="604.08" r="0.8" fill="#111"/>
<circle cx="400.69" cy="614.38" r="0.8" fill="#111"/>
<circle cx="398.5" cy="603.47" r="0.8" fill="#111"/>
<circle cx="399.23" cy="613.55" r="0.8" fill="#111"/>
<circle cx="397.9" cy="603.44" r="0.8" fill="#111"/>
<circle cx="407.48" cy="614.99" r="0.8" fill="#111"/>
<circle cx="397.61" cy="604.41" r="0.8" fill="#111"/>
<circle cx="399.66" cy="614.63" r="0.8" fill="#111"/>
<circle cx="399.86" cy="603.74" r="0.8" fill="#111"/>
<circle cx="399.73" cy="613.58" r="0.8" fill="#111"/>
<circle cx="399.29" cy="603.91" r="0.8" fill="#111"/>
<circle cx="405.76" cy="615.13" r="0.8" fill="#111"/>
<circle cx="400.72" cy="602.62" r="0.8" fill="#111"/>
<circle cx="402.62" cy="614.08" r="0.8" fill="#111"/>
<circle cx="400.14" cy="604.99" r="0.8" fill="#111"/>
<circle cx="401.07" cy="613.47" r="0.8" fill="#111"/>
<circle cx="403.39" cy="604.46" r="0.8" fill="#111"/>
<circle cx="399.7" cy="614.2" r="0.8" fill="#111"/>
<circle cx="397.76" cy="605.04" r="0.8" fill="#111"/>
<circle cx="401.55" cy="614.05" r="0.8" fill="#111"/>
<circle cx="403.16" cy="602.92" r="0.8" fill="#111"/>
<circle cx="408.39" cy="614.62" r="0.8" fill="#111"/>
<circle cx="404.63" cy="603.42" r="0.8" fill="#111"/>
<circle cx="402.54" cy="614.6" r="0.8" fill="#111"/>
<circle cx="401.4" cy="604.09" r="0.8" fill="#111"/>
<circle cx="404.05" cy="613.33" r="0.8" fill="#111"/>
<circle cx="398.98" cy="604.3" r="0.8" fill="#111"/>
<circle cx="400.13" cy="614.87" r="0.8" fill="#111"/>
<circle cx="407.02" cy="601.71" r="0.8" fill="#111"/>
<circle cx="408.42" cy="614.55" r="0.8" fill="#111"/>
<circle cx="400.21" cy="603.51" r="0.8" fill="#111"/>
<circle cx="405.91" cy="614.5" r="0.8" fill="#111"/>
<circle cx="397.22" cy="604.62" r="0.8" fill="#111"/>
<circle cx="406.49" cy="613.04" r="0.8" fill="#111"/>
<circle cx="398.13" cy="603.99" r="0.8" fill="#111"/>
<circle cx="398.3" cy="615.2" r="0.8" fill="#111"/>
<circle cx="402.63" cy="601.7" r="0.8" fill="#111"/>
<circle cx="403.83" cy="614.92" r="0.8" fill="#111"/>
<circle cx="406.89" cy="602.58" r="0.8" fill="#111"/>
<circle cx="401.91" cy="615.65" r="0.8" fill="#111"/>
<circle cx="407.56" cy="604.75" r="0.8" fill="#111"/>
<circle cx="399.56" cy="614.99" r="0.8" fill="#111"/>
<circle cx="403.34" cy="603.07" r="0.8" fill="#111"/>
<circle cx="406.6" cy="614.55" r="0.8" fill="#111"/>
<circle cx="400.72" cy="603.72" r="0.8" fill="#111"/>
<circle cx="400.65" cy="614.66" r="0.8" fill="#111"/>
<circle cx="402.48" cy="603.48" r="0.8" fill="#111"/>
<circle cx="404.96" cy="613.8" r="0.8" fill="#111"/>
<circle cx="398.39" cy="603.58" r="0.8" fill="#111"/>
<circle cx="408.13" cy="615.36" r="0.8" fill="#111"/>
<circle cx="406.58" cy="603.12" r="0.8" fill="#111"/>
<circle cx="401.46" cy="614.36" r="0.8" fill="#111"/>
<circle cx="405.22" cy="603.44" r="0.8" fill="#111"/>
<circle cx="402.38" cy="615.42" r="0.8" fill="#111"/>
<circle cx="397.32" cy="605.09" r="0.8" fill="#111"/>
<circle cx="399.54" cy="614.33" r="0.8" fill="#111"/>
<circle cx="404.16" cy="603.25" r="0.8" fill="#111"/>
<circle cx="403.3" cy="615.24" r="0.8" fill="#111"/>
<circle cx="400.57" cy="603.49" r="0.8" fill="#111"/>
<circle cx="404.73" cy="615.28" r="0.8" fill="#111"/>
<circle cx="400.1" cy="604.22" r="0.8" fill="#111"/>
<circle cx="400.92" cy="615.46" r="0.8" fill="#111"/>
<circle cx="407.88" cy="601.49" r="0.8" fill="#111"/>
<circle cx="400.95" cy="614.02" r="0.8" fill="#111"/>
<circle cx="406.54" cy="603.67" r="0.8" fill="#111"/>
<circle cx="398.27" cy="614.5" r="0.8" fill="#111"/>
<circle cx="404.86" cy="603.24" r="0.8" fill="#111"/>
<circle cx="401.75" cy="614.03" r="0.8" fill="#111"/>
<circle cx="406.66" cy="602.83" r="0.8" fill="#111"/>
<circle cx="399.76" cy="614.24" r="0.8" fill="#111"/>
<circle cx="398.98" cy="604.44" r="0.8" fill="#111"/>
<circle cx="398.02" cy="614.71" r="0.8" fill="#111"/>
<circle cx="407.6" cy="601.97" r="0.8" fill="#111"/>
<circle cx="404.51" cy="615" r="0.8" fill="#111"/>
<circle cx="405.87" cy="603.69" r="0.8" fill="#111"/>
<circle cx="400.94" cy="613.84" r="0.8" fill="#111"/>
<circle cx="401.86" cy="604.46" r="0.8" fill="#111"/>
<circle cx="405.11" cy="614.66" r="0.8" fill="#111"/>
<circle cx="408.3" cy="603.42" r="0.8" fill="#111"/>
<circle cx="404.08" cy="613.4" r="0.8" fill="#111"/>
<circle cx="397.41" cy="603.95" r="0.8" fill="#111"/>
<circle cx="404.55" cy="615.22" r="0.8" fill="#111"/>
<circle cx="398.4" cy="603.59" r="0.8" fill="#111"/>
<circle cx="406.11" cy="615.36" r="0.8" fill="#111"/>
<circle cx="406.52" cy="602.76" r="0.8" fill="#111"/>
<circle cx="405.86" cy="614.27" r="0.8" fill="#111"/>
<circle cx="407.4" cy="602.19" r="0.8" fill="#111"/>
<circle cx="402.85" cy="614.29" r="0.8" fill="#111"/>
<circle cx="398.8" cy="603.64" r="0.8" fill="#111"/>
<circle cx="403.03" cy="612.34" r="0.8" fill="#111"/>
<circle cx="405.28" cy="603.66" r="0.8" fill="#111"/>
<circle cx="407.88" cy="614.12" r="0.8" fill="#111"/>
<circle cx="404.29" cy="603.56" r="0.8" fill="#111"/>
<circle cx="399.96" cy="614.64" r="0.8" fill="#111"/>
<circle cx="403.71" cy="603.26" r="0.8" fill="#111"/>
<circle cx="407.7" cy="613.86" r="0.8" fill="#111"/>
<circle cx="401.28" cy="603.41" r="0.8" fill="#111"/>
<circle cx="408.2" cy="614.81" r="0.8" fill="#111"/>
<circle cx="398.73" cy="604.64" r="0.8" fill="#111"/>
<circle cx="403.54" cy="613.97" r="0.8" fill="#111"/>
<circle cx="403.53" cy="603.36" r="0.8" fill="#111"/>
<circle cx="408.41" cy="616.87" r="0.8" fill="#111"/>
<circle cx="406.44" cy="602.81" r="0.8" fill="#111"/>
<circle cx="406.52" cy="614.35" r="0.8" fill="#111"/>
<circle cx="400.46" cy="604.25" r="0.8" fill="#111"/>
<circle cx="403.68" cy="614.18" r="0.8" fill="#111"/>
<circle cx="406.59" cy="603.7" r="0.8" fill="#111"/>
<circle cx="398.06" cy="614.95" r="0.8" fill="#111"/>
<circle cx="397.56" cy="604.81" r="0.8" fill="#111"/>
<circle cx="407.82" cy="617.26" r="0.8" fill="#111"/>
<circle cx="404.64" cy="602.94" r="0.8" fill="#111"/>
<circle cx="405.54" cy="615.81" r="0.8" fill="#111"/>
<circle cx="401.51" cy="602.64" r="0.8" fill="#111"/>
<circle cx="397.38" cy="613.81" r="0.8" fill="#111"/>
<circle cx="399.45" cy="603.62" r="0.8" fill="#111"/>
<circle cx="401.57" cy="614.53" r="0.8" fill="#111"/>
<circle cx="403.64" cy="603.99" r="0.8" fill="#111"/>
<circle cx="400.18" cy="615.08" r="0.8" fill="#111"/>
<circle cx="403.62" cy="602.92" r="0.8" fill="#111"/>
<circle cx="397.63" cy="614.96" r="0.8" fill="#111"/>
<circle cx="404.78" cy="604.8" r="0.8" fill="#111"/>
<circle cx="403.98" cy="616.14" r="0.8" fill="#111"/>
<circle cx="402.51" cy="602.71" r="0.8" fill="#111"/>
<circle cx="404.99" cy="615.2" r="0.8" fill="#111"/>
<circle cx="405.77" cy="603.3" r="0.8" fill="#111"/>
<circle cx="408.44" cy="613.55" r="0.8" fill="#111"/>
<circle cx="406.67" cy="603.82" r="0.8" fill="#111"/>
<circle cx="402.1" cy="613.89" r="0.8" fill="#111"/>
<circle cx="403.6" cy="604.37" r="0.8" fill="#111"/>
<circle cx="403.13" cy="613.99" r="0.8" fill="#111"/>
<circle cx="402.08" cy="604.23" r="0.8" fill="#111"/>
<circle cx="397.82" cy="614.06" r="0.8" fill="#111"/>
<circle cx="405.4" cy="604.56" r="0.8" fill="#111"/>
<circle cx="403.95" cy="613.78" r="0.8" fill="#111"/>
<circle cx="405.7" cy="602.87" r="0.8" fill="#111"/>
<circle cx="397.99" cy="615" r="0.8" fill="#111"/>
<circle cx="398.61" cy="603.41" r="0.8" fill="#111"/>
<circle cx="401.68" cy="614.73" r="0.8" fill="#111"/>
<circle cx="397.79" cy="603.92" r="0.8" fill="#111"/>
<circle cx="399.9" cy="613.68" r="0.8" fill="#111"/>
<circle cx="400.66" cy="603.44" r="0.8" fill="#111"/>
<circle cx="397.97" cy="614.57" r="0.8" fill="#111"/>
<circle cx="407.5" cy="604.62" r="0.8" fill="#111"/>
<circle cx="406.99" cy="614.36" r="0.8" fill="#111"/>
<circle cx="401.96" cy="603.88" r="0.8" fill="#111"/>
<circle cx="405.64" cy="614.02" r="0.8" fill="#111"/>
<circle cx="403.6" cy="603.83" r="0.8" fill="#111"/>
<circle cx="406.15" cy="614.38" r="0.8" fill="#111"/>
<circle cx="398.6" cy="602.68" r="0.8" fill="#111"/>
<circle cx="397.21" cy="614.01" r="0.8" fill="#111"/>
<circle cx="399.96" cy="603.73" r="0.8" fill="#111"/>
<circle cx="397.91" cy="614.77" r="0.8" fill="#111"/>
<circle cx="407.31" cy="603.54" r="0.8" fill="#111"/>
<circle cx="401.23" cy="613.82" r="0.8" fill="#111"/>
<circle cx="403.82" cy="603.7" r="0.8" fill="#111"/>
<circle cx="407.35" cy="614.73" r="0.8" fill="#111"/>
<circle cx="400.68" cy="602.23" r="0.8" fill="#111"/>
<circle cx="408.24" cy="614.71" r="0.8" fill="#111"/>
<circle cx="402.54" cy="603.81" r="0.8" fill="#111"/>
<circle cx="407.63" cy="615.44" r="0.8" fill="#111"/>
<circle cx="407.33" cy="603.79" r="0.8" fill="#111"/>
<circle cx="401.2" cy="615.66" r="0.8" fill="#111"/>
<circle cx="402.54" cy="604.39" r="0.8" fill="#111"/>
<circle cx="408.45" cy="616.51" r="0.8" fill="#111"/>
<circle cx="399.48" cy="603.68" r="0.8" fill="#111"/>
<circle cx="407.15" cy="614.2" r="0.8" fill="#111"/>
<circle cx="397.77" cy="604.81" r="0.8" fill="#111"/>
<circle cx="400.74" cy="615.08" r="0.8" fill="#111"/>
<circle cx="407.37" cy="604.24" r="0.8" fill="#111"/>
<circle cx="398.72" cy="613.7" r="0.8" fill="#111"/>
<circle cx="405.06" cy="604.29" r="0.8" fill="#111"/>
<circle cx="398.09" cy="614.11" r="0.8" fill="#111"/>
<circle cx="399.72" cy="603.58" r="0.8" fill="#111"/>
<circle cx="399.42" cy="615.26" r="0.8" fill="#111"/>
<circle cx="399.25" cy="604.06" r="0.8" fill="#111"/>
<circle cx="406.13" cy="615.93" r="0.8" fill="#111"/>
<circle cx="401.41" cy="602.96" r="0.8" fill="#111"/>
<circle cx="403.87" cy="613.13" r="0.8" fill="#111"/>
<circle cx="399.79" cy="603.47" r="0.8" fill="#111"/>
<circle cx="404.74" cy="616.38" r="0.8" fill="#111"/>
<circle cx="400.33" cy="603.68" r="0.8" fill="#111"/>
<circle cx="408.31" cy="614.36" r="0.8" fill="#111"/>
<circle cx="402.18" cy="602.75" r="0.8" fill="#111"/>
<circle cx="397.71" cy="614.2" r="0.8" fill="#111"/>
<circle cx="403.98" cy="603.34" r="0.8" fill="#111"/>
<circle cx="406.28" cy="615.29" r="0.8" fill="#111"/>
<circle cx="398.18" cy="603.89" r="0.8" fill="#111"/>
<circle cx="399.98" cy="615.42" r="0.8" fill="#111"/>
<circle cx="400.35" cy="603.46" r="0.8" fill="#111"/>
<circle cx="407.34" cy="614.48" r="0.8" fill="#111"/>
<circle cx="408.36" cy="604.2" r="0.8" fill="#111"/>
<circle cx="405.68" cy="614.8" r="0.8" fill="#111"/>
<circle cx="401.55" cy="604.52" r="0.8" fill="#111"/>
<circle cx="399.23" cy="614.07" r="0.8" fill="#111"/>
<circle cx="403.48" cy="603.05" r="0.8" fill="#111"/>
<circle cx="404.64" cy="613.94" r="0.8" fill="#111"/>
<circle cx="406.05" cy="602.12" r="0.8" fill="#111"/>
<circle cx="406.75" cy="614.52" r="0.8" fill="#111"/>
<circle cx="404.93" cy="601.16" r="0.8" fill="#111"/>
<circle cx="399.17" cy="614.18" r="0.8" fill="#111"/>
<circle cx="406.01" cy="603.94" r="0.8" fill="#111"/>
<circle cx="399.86" cy="615.12" r="0.8" fill="#111"/>
<circle cx="402.18" cy="603.87" r="0.8" fill="#111"/>
<circle cx="406.14" cy="613.06" r="0.8" fill="#111"/>
<circle cx="399.87" cy="603.46" r="0.8" fill="#111"/>
<circle cx="403.76" cy="614.57" r="0.8" fill="#111"/>
<circle cx="402.84" cy="604.65" r="0.8" fill="#111"/>
<circle cx="405.28" cy="614.84" r="0.8" fill="#111"/>
<circle cx="403.67" cy="603.88" r="0.8" fill="#111"/>
<circle cx="398.92" cy="614.1" r="0.8" fill="#111"/>
<circle cx="397.4" cy="603.63" r="0.8" fill="#111"/>
<circle cx="402.19" cy="614.5" r="0.8" fill="#111"/>
<circle cx="400.17" cy="603.96" r="0.8" fill="#111"/>
<circle cx="407.45" cy="614.31" r="0.8" fill="#111"/>
<circle cx="403.63" cy="602.08" r="0.8" fill="#111"/>
<circle cx="399.89" cy="614.1" r="0.8" fill="#111"/>
<circle cx="398.85" cy="603.96" r="0.8" fill="#111"/>
<circle cx="400.75" cy="614.6" r="0.8" fill="#111"/>
<circle cx="404.22" cy="602.78" r="0.8" fill="#111"/>
<circle cx="403.85" cy="614.44" r="0.8" fill="#111"/>
<circle cx="398.2" cy="604.24" r="0.8" fill="#111"/>
<circle cx="400.08" cy="614.05" r="0.8" fill="#111"/>
<circle cx="399.01" cy="603.6" r="0.8" fill="#111"/>
<circle cx="406.09" cy="613.05" r="0.8" fill="#111"/>
<circle cx="415.65" cy="603.38" r="0.9" fill="#6e48a6" stroke="#4a2a80" stroke-width="0.3"/>
<circle cx="412.41" cy="616.19" r="0.9" fill="#8262b4" stroke="#4a2a80" stroke-width="0.3"/>
<circle cx="410.66" cy="602.78" r="0.9" fill="#6e48a6" stroke="#4a2a80" stroke-width="0.3"/>
<circle cx="422.86" cy="615.85" r="0.9" fill="#8262b4" stroke="#4a2a80" stroke-width="0.3"/>
<circle cx="412.68" cy="602.83" r="0.9" fill="#6e48a6" stroke="#4a2a80" stroke-width="0.3"/>
<circle cx="422" cy="616.24" r="0.9" fill="#8262b4" stroke="#4a2a80" stroke-width="0.3"/>
<circle cx="413.9" cy="603.12" r="0.9" fill="#6e48a6" stroke="#4a2a80" stroke-width="0.3"/>
<circle cx="412.12" cy="615.01" r="0.9" fill="#8262b4" stroke="#4a2a80" stroke-width="0.3"/>
<circle cx="413.43" cy="603.52" r="0.9" fill="#6e48a6" stroke="#4a2a80" stroke-width="0.3"/>
<circle cx="411.52" cy="615.71" r="0.9" fill="#8262b4" stroke="#4a2a80" stroke-width="0.3"/>
<circle cx="432.92" cy="603.77" r="0.9" fill="#6e48a6" stroke="#4a2a80" stroke-width="0.3"/>
<circle cx="409.65" cy="613.19" r="0.9" fill="#8262b4" stroke="#4a2a80" stroke-width="0.3"/>
<circle cx="409.22" cy="603.79" r="0.9" fill="#6e48a6" stroke="#4a2a80" stroke-width="0.3"/>
<circle cx="414.49" cy="615.23" r="0.9" fill="#8262b4" stroke="#4a2a80" stroke-width="0.3"/>
<circle cx="425.41" cy="603.63" r="0.9" fill="#6e48a6" stroke="#4a2a80" stroke-width="0.3"/>
<circle cx="413.56" cy="616.41" r="0.9" fill="#8262b4" stroke="#4a2a80" stroke-width="0.3"/>
<circle cx="418.73" cy="602.84" r="0.9" fill="#6e48a6" stroke="#4a2a80" stroke-width="0.3"/>
<circle cx="416.87" cy="615.9" r="0.9" fill="#8262b4" stroke="#4a2a80" stroke-width="0.3"/>
<circle cx="410.03" cy="602.48" r="0.9" fill="#6e48a6" stroke="#4a2a80" stroke-width="0.3"/>
<circle cx="415.74" cy="617.19" r="0.9" fill="#8262b4" stroke="#4a2a80" stroke-width="0.3"/>
<circle cx="415.1" cy="601.79" r="0.9" fill="#6e48a6" stroke="#4a2a80" stroke-width="0.3"/>
<circle cx="415.66" cy="614.64" r="0.9" fill="#8262b4" stroke="#4a2a80" stroke-width="0.3"/>
<circle cx="419.79" cy="604.25" r="0.9" fill="#6e48a6" stroke="#4a2a80" stroke-width="0.3"/>
<circle cx="419.38" cy="617.07" r="0.9" fill="#8262b4" stroke="#4a2a80" stroke-width="0.3"/>
<circle cx="409.99" cy="603.97" r="0.9" fill="#6e48a6" stroke="#4a2a80" stroke-width="0.3"/>
<circle cx="412.85" cy="617.02" r="0.9" fill="#8262b4" stroke="#4a2a80" stroke-width="0.3"/>
<circle cx="411.11" cy="603.57" r="0.9" fill="#6e48a6" stroke="#4a2a80" stroke-width="0.3"/>
<circle cx="410.61" cy="616.94" r="0.9" fill="#8262b4" stroke="#4a2a80" stroke-width="0.3"/>
<circle cx="411.44" cy="604.1" r="0.9" fill="#6e48a6" stroke="#4a2a80" stroke-width="0.3"/>
<circle cx="421.31" cy="615.62" r="0.9" fill="#8262b4" stroke="#4a2a80" stroke-width="0.3"/>
<circle cx="411.8" cy="602.24" r="0.9" fill="#6e48a6" stroke="#4a2a80" stroke-width="0.3"/>
<circle cx="410.95" cy="615.81" r="0.9" fill="#8262b4" stroke="#4a2a80" stroke-width="0.3"/>
<circle cx="411.06" cy="601.76" r="0.9" fill="#6e48a6" stroke="#4a2a80" stroke-width="0.3"/>
<circle cx="408.75" cy="615.67" r="0.9" fill="#8262b4" stroke="#4a2a80" stroke-width="0.3"/>
<circle cx="410.92" cy="603.73" r="0.9" fill="#6e48a6" stroke="#4a2a80" stroke-width="0.3"/>
<circle cx="423.58" cy="617.33" r="0.9" fill="#8262b4" stroke="#4a2a80" stroke-width="0.3"/>
<circle cx="409.79" cy="601.85" r="0.9" fill="#6e48a6" stroke="#4a2a80" stroke-width="0.3"/>
<circle cx="411.65" cy="616.07" r="0.9" fill="#8262b4" stroke="#4a2a80" stroke-width="0.3"/>
<circle cx="415.03" cy="602.51" r="0.9" fill="#6e48a6" stroke="#4a2a80" stroke-width="0.3"/>
<circle cx="409.84" cy="613.24" r="0.9" fill="#8262b4" stroke="#4a2a80" stroke-width="0.3"/>
<circle cx="409.77" cy="602.68" r="0.9" fill="#6e48a6" stroke="#4a2a80" stroke-width="0.3"/>
<circle cx="412.16" cy="616.66" r="0.9" fill="#8262b4" stroke="#4a2a80" stroke-width="0.3"/>
<circle cx="421.95" cy="604.06" r="0.9" fill="#6e48a6" stroke="#4a2a80" stroke-width="0.3"/>
<circle cx="415.14" cy="617.51" r="0.9" fill="#8262b4" stroke="#4a2a80" stroke-width="0.3"/>
<circle cx="411" cy="602.8" r="0.9" fill="#6e48a6" stroke="#4a2a80" stroke-width="0.3"/>
<circle cx="413.43" cy="616.11" r="0.9" fill="#8262b4" stroke="#4a2a80" stroke-width="0.3"/>
<circle cx="412.65" cy="603.06" r="0.9" fill="#6e48a6" stroke="#4a2a80" stroke-width="0.3"/>
<circle cx="410.28" cy="615.24" r="0.9" fill="#8262b4" stroke="#4a2a80" stroke-width="0.3"/>
<circle cx="411.5" cy="604.05" r="0.9" fill="#6e48a6" stroke="#4a2a80" stroke-width="0.3"/>
<circle cx="412.92" cy="615.31" r="0.9" fill="#8262b4" stroke="#4a2a80" stroke-width="0.3"/>
<circle cx="410.07" cy="601.89" r="0.9" fill="#6e48a6" stroke="#4a2a80" stroke-width="0.3"/>
<circle cx="410.43" cy="613.45" r="0.9" fill="#8262b4" stroke="#4a2a80" stroke-width="0.3"/>
<circle cx="411.56" cy="603.52" r="0.9" fill="#6e48a6" stroke="#4a2a80" stroke-width="0.3"/>
<circle cx="411.04" cy="617.56" r="0.9" fill="#8262b4" stroke="#4a2a80" stroke-width="0.3"/>
<circle cx="414.64" cy="603.56" r="0.9" fill="#6e48a6" stroke="#4a2a80" stroke-width="0.3"/>
<circle cx="412.55" cy="614.78" r="0.9" fill="#8262b4" stroke="#4a2a80" stroke-width="0.3"/>
<circle cx="410.3" cy="603.95" r="0.9" fill="#6e48a6" stroke="#4a2a80" stroke-width="0.3"/>
<circle cx="409.02" cy="615.8" r="0.9" fill="#8262b4" stroke="#4a2a80" stroke-width="0.3"/>
<circle cx="418.96" cy="603.23" r="0.9" fill="#6e48a6" stroke="#4a2a80" stroke-width="0.3"/>
<circle cx="422.65" cy="614.88" r="0.9" fill="#8262b4" stroke="#4a2a80" stroke-width="0.3"/>
<circle cx="414.74" cy="602.78" r="0.9" fill="#6e48a6" stroke="#4a2a80" stroke-width="0.3"/>
<circle cx="417.63" cy="613.18" r="0.9" fill="#8262b4" stroke="#4a2a80" stroke-width="0.3"/>
<circle cx="410.92" cy="604.7" r="0.9" fill="#6e48a6" stroke="#4a2a80" stroke-width="0.3"/>
<circle cx="419.1" cy="613.04" r="0.9" fill="#8262b4" stroke="#4a2a80" stroke-width="0.3"/>
<circle cx="412.21" cy="602.22" r="0.9" fill="#6e48a6" stroke="#4a2a80" stroke-width="0.3"/>
<circle cx="410.98" cy="615.02" r="0.9" fill="#8262b4" stroke="#4a2a80" stroke-width="0.3"/>
<circle cx="415.23" cy="603.43" r="0.9" fill="#6e48a6" stroke="#4a2a80" stroke-width="0.3"/>
<circle cx="416.27" cy="616.03" r="0.9" fill="#8262b4" stroke="#4a2a80" stroke-width="0.3"/>
<circle cx="412.65" cy="604.12" r="0.9" fill="#6e48a6" stroke="#4a2a80" stroke-width="0.3"/>
<circle cx="409.43" cy="616.22" r="0.9" fill="#8262b4" stroke="#4a2a80" stroke-width="0.3"/>
<circle cx="415.47" cy="603.67" r="0.9" fill="#6e48a6" stroke="#4a2a80" stroke-width="0.3"/>
<circle cx="414.78" cy="617.19" r="0.9" fill="#8262b4" stroke="#4a2a80" stroke-width="0.3"/>
<circle cx="408.71" cy="603.38" r="0.9" fill="#6e48a6" stroke="#4a2a80" stroke-width="0.3"/>
<circle cx="413.36" cy="616.66" r="0.9" fill="#8262b4" stroke="#4a2a80" stroke-width="0.3"/>
<circle cx="414.29" cy="604.16" r="0.9" fill="#6e48a6" stroke="#4a2a80" stroke-width="0.3"/>
<circle cx="411.75" cy="613.85" r="0.9" fill="#8262b4" stroke="#4a2a80" stroke-width="0.3"/>
<circle cx="409" cy="602.55" r="0.9" fill="#6e48a6" stroke="#4a2a80" stroke-width="0.3"/>
<circle cx="414.78" cy="616.31" r="0.9" fill="#8262b4" stroke="#4a2a80" stroke-width="0.3"/>
<circle cx="415.55" cy="603.38" r="0.9" fill="#6e48a6" stroke="#4a2a80" stroke-width="0.3"/>
<circle cx="417.86" cy="616.1" r="0.9" fill="#8262b4" stroke="#4a2a80" stroke-width="0.3"/>
<circle cx="415.74" cy="602.3" r="0.9" fill="#6e48a6" stroke="#4a2a80" stroke-width="0.3"/>
<circle cx="411.47" cy="616.38" r="0.9" fill="#8262b4" stroke="#4a2a80" stroke-width="0.3"/>
<circle cx="415.35" cy="603.09" r="0.9" fill="#6e48a6" stroke="#4a2a80" stroke-width="0.3"/>
<circle cx="417.04" cy="614.58" r="0.9" fill="#8262b4" stroke="#4a2a80" stroke-width="0.3"/>
<circle cx="409.33" cy="604.71" r="0.9" fill="#6e48a6" stroke="#4a2a80" stroke-width="0.3"/>
<circle cx="412.24" cy="616.86" r="0.9" fill="#8262b4" stroke="#4a2a80" stroke-width="0.3"/>
<circle cx="422.47" cy="601.51" r="0.9" fill="#6e48a6" stroke="#4a2a80" stroke-width="0.3"/>
<circle cx="415.74" cy="616.83" r="0.9" fill="#8262b4" stroke="#4a2a80" stroke-width="0.3"/>
<circle cx="420.55" cy="602.43" r="0.9" fill="#6e48a6" stroke="#4a2a80" stroke-width="0.3"/>
<circle cx="416.75" cy="614.34" r="0.9" fill="#8262b4" stroke="#4a2a80" stroke-width="0.3"/>
<circle cx="415.09" cy="603.56" r="0.9" fill="#6e48a6" stroke="#4a2a80" stroke-width="0.3"/>
<circle cx="411.12" cy="617.97" r="0.9" fill="#8262b4" stroke="#4a2a80" stroke-width="0.3"/>
<circle cx="413.85" cy="602.12" r="0.9" fill="#6e48a6" stroke="#4a2a80" stroke-width="0.3"/>
<circle cx="410.5" cy="615.24" r="0.9" fill="#8262b4" stroke="#4a2a80" stroke-width="0.3"/>
<circle cx="414.36" cy="603.95" r="0.9" fill="#6e48a6" stroke="#4a2a80" stroke-width="0.3"/>
<circle cx="411.39" cy="616.65" r="0.9" fill="#8262b4" stroke="#4a2a80" stroke-width="0.3"/>
<circle cx="412.73" cy="602.79" r="0.9" fill="#6e48a6" stroke="#4a2a80" stroke-width="0.3"/>
<circle cx="410.67" cy="616.37" r="0.9" fill="#8262b4" stroke="#4a2a80" stroke-width="0.3"/>
<circle cx="410.83" cy="602.02" r="0.9" fill="#6e48a6" stroke="#4a2a80" stroke-width="0.3"/>
<circle cx="419.15" cy="615.65" r="0.9" fill="#8262b4" stroke="#4a2a80" stroke-width="0.3"/>
<circle cx="412.86" cy="603.43" r="0.9" fill="#6e48a6" stroke="#4a2a80" stroke-width="0.3"/>
<circle cx="420.81" cy="615.75" r="0.9" fill="#8262b4" stroke="#4a2a80" stroke-width="0.3"/>
<circle cx="418.52" cy="602.56" r="0.9" fill="#6e48a6" stroke="#4a2a80" stroke-width="0.3"/>
<circle cx="423.38" cy="614.94" r="0.9" fill="#8262b4" stroke="#4a2a80" stroke-width="0.3"/>
<circle cx="415.13" cy="602.73" r="0.9" fill="#6e48a6" stroke="#4a2a80" stroke-width="0.3"/>
<circle cx="418.62" cy="617.71" r="0.9" fill="#8262b4" stroke="#4a2a80" stroke-width="0.3"/>
<circle cx="413.11" cy="604.62" r="0.9" fill="#6e48a6" stroke="#4a2a80" stroke-width="0.3"/>
<circle cx="412.86" cy="613.6" r="0.9" fill="#8262b4" stroke="#4a2a80" stroke-width="0.3"/>
<circle cx="422.13" cy="602.67" r="0.9" fill="#6e48a6" stroke="#4a2a80" stroke-width="0.3"/>
<circle cx="414.88" cy="617.05" r="0.9" fill="#8262b4" stroke="#4a2a80" stroke-width="0.3"/>
<circle cx="418.14" cy="603.07" r="0.9" fill="#6e48a6" stroke="#4a2a80" stroke-width="0.3"/>
<circle cx="413.26" cy="616.3" r="0.9" fill="#8262b4" stroke="#4a2a80" stroke-width="0.3"/>
<circle cx="408.56" cy="601.2" r="0.9" fill="#6e48a6" stroke="#4a2a80" stroke-width="0.3"/>
<circle cx="409.02" cy="616.46" r="0.9" fill="#8262b4" stroke="#4a2a80" stroke-width="0.3"/>
<circle cx="410.63" cy="603.54" r="0.9" fill="#6e48a6" stroke="#4a2a80" stroke-width="0.3"/>
<circle cx="412.89" cy="615.44" r="0.9" fill="#8262b4" stroke="#4a2a80" stroke-width="0.3"/>
<circle cx="411.11" cy="603.03" r="0.9" fill="#6e48a6" stroke="#4a2a80" stroke-width="0.3"/>
<circle cx="419.13" cy="616.77" r="0.9" fill="#8262b4" stroke="#4a2a80" stroke-width="0.3"/>
<circle cx="414.74" cy="603.74" r="0.9" fill="#6e48a6" stroke="#4a2a80" stroke-width="0.3"/>
<circle cx="409.85" cy="613.87" r="0.9" fill="#8262b4" stroke="#4a2a80" stroke-width="0.3"/>
<circle cx="416.36" cy="604.85" r="0.9" fill="#6e48a6" stroke="#4a2a80" stroke-width="0.3"/>
<circle cx="410.43" cy="615.11" r="0.9" fill="#8262b4" stroke="#4a2a80" stroke-width="0.3"/>
<circle cx="408.72" cy="604.34" r="0.9" fill="#6e48a6" stroke="#4a2a80" stroke-width="0.3"/>
<circle cx="410.94" cy="614.16" r="0.9" fill="#8262b4" stroke="#4a2a80" stroke-width="0.3"/>
<circle cx="409.71" cy="601.88" r="0.9" fill="#6e48a6" stroke="#4a2a80" stroke-width="0.3"/>
<circle cx="410.12" cy="614.25" r="0.9" fill="#8262b4" stroke="#4a2a80" stroke-width="0.3"/>
<circle cx="414.86" cy="604.59" r="0.9" fill="#6e48a6" stroke="#4a2a80" stroke-width="0.3"/>
<circle cx="417.28" cy="613.65" r="0.9" fill="#8262b4" stroke="#4a2a80" stroke-width="0.3"/>
<circle cx="415.64" cy="602.46" r="0.9" fill="#6e48a6" stroke="#4a2a80" stroke-width="0.3"/>
<circle cx="411.67" cy="613.67" r="0.9" fill="#8262b4" stroke="#4a2a80" stroke-width="0.3"/>
<circle cx="415.07" cy="601.15" r="0.9" fill="#6e48a6" stroke="#4a2a80" stroke-width="0.3"/>
<circle cx="414.34" cy="616.42" r="0.9" fill="#8262b4" stroke="#4a2a80" stroke-width="0.3"/>
<circle cx="411.14" cy="602.07" r="0.9" fill="#6e48a6" stroke="#4a2a80" stroke-width="0.3"/>
<circle cx="409.06" cy="615.62" r="0.9" fill="#8262b4" stroke="#4a2a80" stroke-width="0.3"/>
<circle cx="423.83" cy="601.99" r="0.9" fill="#6e48a6" stroke="#4a2a80" stroke-width="0.3"/>
<circle cx="412.98" cy="615.37" r="0.9" fill="#8262b4" stroke="#4a2a80" stroke-width="0.3"/>
<circle cx="411.49" cy="601.68" r="0.9" fill="#6e48a6" stroke="#4a2a80" stroke-width="0.3"/>
<circle cx="414.29" cy="614.57" r="0.9" fill="#8262b4" stroke="#4a2a80" stroke-width="0.3"/>
<circle cx="429.04" cy="602.23" r="0.9" fill="#6e48a6" stroke="#4a2a80" stroke-width="0.3"/>
<circle cx="421.31" cy="616.25" r="0.9" fill="#8262b4" stroke="#4a2a80" stroke-width="0.3"/>
<circle cx="410.12" cy="603.08" r="0.9" fill="#6e48a6" stroke="#4a2a80" stroke-width="0.3"/>
<circle cx="411.59" cy="617.59" r="0.9" fill="#8262b4" stroke="#4a2a80" stroke-width="0.3"/>
<circle cx="412.29" cy="602.85" r="0.9" fill="#6e48a6" stroke="#4a2a80" stroke-width="0.3"/>
<circle cx="409.45" cy="615.7" r="0.9" fill="#8262b4" stroke="#4a2a80" stroke-width="0.3"/>
<circle cx="416.81" cy="602.63" r="0.9" fill="#6e48a6" stroke="#4a2a80" stroke-width="0.3"/>
<circle cx="413.62" cy="616.32" r="0.9" fill="#8262b4" stroke="#4a2a80" stroke-width="0.3"/>
<circle cx="412.97" cy="600.73" r="0.9" fill="#6e48a6" stroke="#4a2a80" stroke-width="0.3"/>
<circle cx="410.28" cy="616.77" r="0.9" fill="#8262b4" stroke="#4a2a80" stroke-width="0.3"/>
<circle cx="417.93" cy="601.77" r="0.9" fill="#6e48a6" stroke="#4a2a80" stroke-width="0.3"/>
<circle cx="416.88" cy="615.44" r="0.9" fill="#8262b4" stroke="#4a2a80" stroke-width="0.3"/>
<circle cx="411.75" cy="601.43" r="0.9" fill="#6e48a6" stroke="#4a2a80" stroke-width="0.3"/>
<circle cx="409.99" cy="614.7" r="0.9" fill="#8262b4" stroke="#4a2a80" stroke-width="0.3"/>
<circle cx="410.12" cy="603.37" r="0.9" fill="#6e48a6" stroke="#4a2a80" stroke-width="0.3"/>
<circle cx="414.41" cy="615.14" r="0.9" fill="#8262b4" stroke="#4a2a80" stroke-width="0.3"/>
<circle cx="412.29" cy="602.92" r="0.9" fill="#6e48a6" stroke="#4a2a80" stroke-width="0.3"/>
<circle cx="409.25" cy="615.66" r="0.9" fill="#8262b4" stroke="#4a2a80" stroke-width="0.3"/>
<circle cx="412.32" cy="602.61" r="0.9" fill="#6e48a6" stroke="#4a2a80" stroke-width="0.3"/>
<circle cx="413.3" cy="614.76" r="0.9" fill="#8262b4" stroke="#4a2a80" stroke-width="0.3"/>
<circle cx="409.71" cy="604.27" r="0.9" fill="#6e48a6" stroke="#4a2a80" stroke-width="0.3"/>
<circle cx="412.88" cy="616.26" r="0.9" fill="#8262b4" stroke="#4a2a80" stroke-width="0.3"/>
<circle cx="411.1" cy="602.99" r="0.9" fill="#6e48a6" stroke="#4a2a80" stroke-width="0.3"/>
<circle cx="414.21" cy="614.83" r="0.9" fill="#8262b4" stroke="#4a2a80" stroke-width="0.3"/>
<circle cx="412.69" cy="603.24" r="0.9" fill="#6e48a6" stroke="#4a2a80" stroke-width="0.3"/>
<circle cx="437.45" cy="616.26" r="0.9" fill="#8262b4" stroke="#4a2a80" stroke-width="0.3"/>
<circle cx="412.96" cy="605.17" r="0.9" fill="#6e48a6" stroke="#4a2a80" stroke-width="0.3"/>
<circle cx="417.25" cy="615.73" r="0.9" fill="#8262b4" stroke="#4a2a80" stroke-width="0.3"/>
<circle cx="411.14" cy="601.69" r="0.9" fill="#6e48a6" stroke="#4a2a80" stroke-width="0.3"/>
<circle cx="418.55" cy="616.17" r="0.9" fill="#8262b4" stroke="#4a2a80" stroke-width="0.3"/>
<circle cx="414.29" cy="601.57" r="0.9" fill="#6e48a6" stroke="#4a2a80" stroke-width="0.3"/>
<circle cx="411.91" cy="618.6" r="0.9" fill="#8262b4" stroke="#4a2a80" stroke-width="0.3"/>
<circle cx="424.4" cy="600.94" r="0.9" fill="#6e48a6" stroke="#4a2a80" stroke-width="0.3"/>
<circle cx="423.59" cy="616.49" r="0.9" fill="#8262b4" stroke="#4a2a80" stroke-width="0.3"/>
<circle cx="409.23" cy="602.03" r="0.9" fill="#6e48a6" stroke="#4a2a80" stroke-width="0.3"/>
<circle cx="413.6" cy="615.65" r="0.9" fill="#8262b4" stroke="#4a2a80" stroke-width="0.3"/>
<circle cx="410.67" cy="603.18" r="0.9" fill="#6e48a6" stroke="#4a2a80" stroke-width="0.3"/>
<circle cx="417.49" cy="617.21" r="0.9" fill="#8262b4" stroke="#4a2a80" stroke-width="0.3"/>
<circle cx="411.82" cy="604.23" r="0.9" fill="#6e48a6" stroke="#4a2a80" stroke-width="0.3"/>
<circle cx="414.33" cy="615.59" r="0.9" fill="#8262b4" stroke="#4a2a80" stroke-width="0.3"/>
<circle cx="409.58" cy="602.77" r="0.9" fill="#6e48a6" stroke="#4a2a80" stroke-width="0.3"/>
<circle cx="423.77" cy="615.4" r="0.9" fill="#8262b4" stroke="#4a2a80" stroke-width="0.3"/>
<circle cx="411.71" cy="600.95" r="0.9" fill="#6e48a6" stroke="#4a2a80" stroke-width="0.3"/>
<circle cx="420.86" cy="616.93" r="0.9" fill="#8262b4" stroke="#4a2a80" stroke-width="0.3"/>
<circle cx="414.51" cy="601.18" r="0.9" fill="#6e48a6" stroke="#4a2a80" stroke-width="0.3"/>
<circle cx="412.4" cy="615.43" r="0.9" fill="#8262b4" stroke="#4a2a80" stroke-width="0.3"/>
<circle cx="415.74" cy="602.6" r="0.9" fill="#6e48a6" stroke="#4a2a80" stroke-width="0.3"/>
<circle cx="410.29" cy="614.44" r="0.9" fill="#8262b4" stroke="#4a2a80" stroke-width="0.3"/>
<circle cx="409.88" cy="602.68" r="0.9" fill="#6e48a6" stroke="#4a2a80" stroke-width="0.3"/>
<circle cx="413.91" cy="615.09" r="0.9" fill="#8262b4" stroke="#4a2a80" stroke-width="0.3"/>
<circle cx="414" cy="603.63" r="0.9" fill="#6e48a6" stroke="#4a2a80" stroke-width="0.3"/>
<circle cx="417.06" cy="613.7" r="0.9" fill="#8262b4" stroke="#4a2a80" stroke-width="0.3"/>
<circle cx="415.55" cy="604.14" r="0.9" fill="#6e48a6" stroke="#4a2a80" stroke-width="0.3"/>
<circle cx="412.68" cy="616.35" r="0.9" fill="#8262b4" stroke="#4a2a80" stroke-width="0.3"/>
<circle cx="413.97" cy="602.33" r="0.9" fill="#6e48a6" stroke="#4a2a80" stroke-width="0.3"/>
<circle cx="414.87" cy="616.19" r="0.9" fill="#8262b4" stroke="#4a2a80" stroke-width="0.3"/>
<circle cx="408.77" cy="601.92" r="0.9" fill="#6e48a6" stroke="#4a2a80" stroke-width="0.3"/>
<circle cx="408.96" cy="613.66" r="0.9" fill="#8262b4" stroke="#4a2a80" stroke-width="0.3"/>
<circle cx="410.49" cy="602.13" r="0.9" fill="#6e48a6" stroke="#4a2a80" stroke-width="0.3"/>
<circle cx="412.22" cy="615.94" r="0.9" fill="#8262b4" stroke="#4a2a80" stroke-width="0.3"/>
<circle cx="413.19" cy="603.91" r="0.9" fill="#6e48a6" stroke="#4a2a80" stroke-width="0.3"/>
<circle cx="418.53" cy="615.71" r="0.9" fill="#8262b4" stroke="#4a2a80" stroke-width="0.3"/>
<circle cx="413.92" cy="603.49" r="0.9" fill="#6e48a6" stroke="#4a2a80" stroke-width="0.3"/>
<circle cx="428.9" cy="615.28" r="0.9" fill="#8262b4" stroke="#4a2a80" stroke-width="0.3"/>
<circle cx="412.84" cy="605.24" r="0.9" fill="#6e48a6" stroke="#4a2a80" stroke-width="0.3"/>
<circle cx="414.63" cy="617.49" r="0.9" fill="#8262b4" stroke="#4a2a80" stroke-width="0.3"/>
<circle cx="425.75" cy="604.76" r="0.9" fill="#6e48a6" stroke="#4a2a80" stroke-width="0.3"/>
<circle cx="428.23" cy="616.98" r="0.9" fill="#8262b4" stroke="#4a2a80" stroke-width="0.3"/>
<circle cx="409.96" cy="604.1" r="0.9" fill="#6e48a6" stroke="#4a2a80" stroke-width="0.3"/>
<circle cx="409.95" cy="614.61" r="0.9" fill="#8262b4" stroke="#4a2a80" stroke-width="0.3"/>
<circle cx="410.15" cy="604.71" r="0.9" fill="#6e48a6" stroke="#4a2a80" stroke-width="0.3"/>
<circle cx="415.6" cy="615.2" r="0.9" fill="#8262b4" stroke="#4a2a80" stroke-width="0.3"/>
<circle cx="411.36" cy="603.91" r="0.9" fill="#6e48a6" stroke="#4a2a80" stroke-width="0.3"/>
<circle cx="413.3" cy="615.46" r="0.9" fill="#8262b4" stroke="#4a2a80" stroke-width="0.3"/>
<circle cx="413.34" cy="602.04" r="0.9" fill="#6e48a6" stroke="#4a2a80" stroke-width="0.3"/>
<circle cx="412.13" cy="614.76" r="0.9" fill="#8262b4" stroke="#4a2a80" stroke-width="0.3"/>
<circle cx="420.18" cy="601.63" r="0.9" fill="#6e48a6" stroke="#4a2a80" stroke-width="0.3"/>
<circle cx="415.91" cy="614.17" r="0.9" fill="#8262b4" stroke="#4a2a80" stroke-width="0.3"/>
<circle cx="418.21" cy="602.95" r="0.9" fill="#6e48a6" stroke="#4a2a80" stroke-width="0.3"/>
<circle cx="420.71" cy="617.15" r="0.9" fill="#8262b4" stroke="#4a2a80" stroke-width="0.3"/>
<circle cx="411.54" cy="601.61" r="0.9" fill="#6e48a6" stroke="#4a2a80" stroke-width="0.3"/>
<circle cx="412.99" cy="614.32" r="0.9" fill="#8262b4" stroke="#4a2a80" stroke-width="0.3"/>
<circle cx="412.56" cy="603.46" r="0.9" fill="#6e48a6" stroke="#4a2a80" stroke-width="0.3"/>
<circle cx="417.44" cy="614.65" r="0.9" fill="#8262b4" stroke="#4a2a80" stroke-width="0.3"/>
<circle cx="410.41" cy="602.81" r="0.9" fill="#6e48a6" stroke="#4a2a80" stroke-width="0.3"/>
<circle cx="414.94" cy="614.55" r="0.9" fill="#8262b4" stroke="#4a2a80" stroke-width="0.3"/>
<circle cx="416.89" cy="602.16" r="0.9" fill="#6e48a6" stroke="#4a2a80" stroke-width="0.3"/>
<circle cx="412.94" cy="615.19" r="0.9" fill="#8262b4" stroke="#4a2a80" stroke-width="0.3"/>
<circle cx="431.63" cy="603.69" r="0.9" fill="#6e48a6" stroke="#4a2a80" stroke-width="0.3"/>
<circle cx="409.06" cy="614.21" r="0.9" fill="#8262b4" stroke="#4a2a80" stroke-width="0.3"/>
<circle cx="410.38" cy="599.07" r="0.9" fill="#6e48a6" stroke="#4a2a80" stroke-width="0.3"/>
<circle cx="422.46" cy="617.05" r="0.9" fill="#8262b4" stroke="#4a2a80" stroke-width="0.3"/>
<circle cx="424.44" cy="605.08" r="0.9" fill="#6e48a6" stroke="#4a2a80" stroke-width="0.3"/>
<circle cx="414.7" cy="615.59" r="0.9" fill="#8262b4" stroke="#4a2a80" stroke-width="0.3"/>
<circle cx="414.33" cy="601.51" r="0.9" fill="#6e48a6" stroke="#4a2a80" stroke-width="0.3"/>
<circle cx="423.27" cy="614.92" r="0.9" fill="#8262b4" stroke="#4a2a80" stroke-width="0.3"/>
<circle cx="411.15" cy="601.44" r="0.9" fill="#6e48a6" stroke="#4a2a80" stroke-width="0.3"/>
<circle cx="411.61" cy="615.45" r="0.9" fill="#8262b4" stroke="#4a2a80" stroke-width="0.3"/>
<circle cx="416.6" cy="601.7" r="0.9" fill="#6e48a6" stroke="#4a2a80" stroke-width="0.3"/>
<circle cx="408.57" cy="617.94" r="0.9" fill="#8262b4" stroke="#4a2a80" stroke-width="0.3"/>
<circle cx="417.41" cy="603.36" r="0.9" fill="#6e48a6" stroke="#4a2a80" stroke-width="0.3"/>
<circle cx="412.23" cy="614.83" r="0.9" fill="#8262b4" stroke="#4a2a80" stroke-width="0.3"/>
<circle cx="410.49" cy="604.6" r="0.9" fill="#6e48a6" stroke="#4a2a80" stroke-width="0.3"/>
<circle cx="418.18" cy="616.31" r="0.9" fill="#8262b4" stroke="#4a2a80" stroke-width="0.3"/>
<circle cx="410.51" cy="601.43" r="0.9" fill="#6e48a6" stroke="#4a2a80" stroke-width="0.3"/>
<circle cx="409.28" cy="617.9" r="0.9" fill="#8262b4" stroke="#4a2a80" stroke-width="0.3"/>
<circle cx="416.39" cy="601.46" r="0.9" fill="#6e48a6" stroke="#4a2a80" stroke-width="0.3"/>
<circle cx="426.09" cy="615.08" r="0.9" fill="#8262b4" stroke="#4a2a80" stroke-width="0.3"/>
<circle cx="409.75" cy="602.13" r="0.9" fill="#6e48a6" stroke="#4a2a80" stroke-width="0.3"/>
<circle cx="411.1" cy="615.92" r="0.9" fill="#8262b4" stroke="#4a2a80" stroke-width="0.3"/>
<circle cx="415.23" cy="603.17" r="0.9" fill="#6e48a6" stroke="#4a2a80" stroke-width="0.3"/>
<circle cx="419.14" cy="613.93" r="0.9" fill="#8262b4" stroke="#4a2a80" stroke-width="0.3"/>
<circle cx="412.01" cy="603.39" r="0.9" fill="#6e48a6" stroke="#4a2a80" stroke-width="0.3"/>
<circle cx="421.15" cy="617.15" r="0.9" fill="#8262b4" stroke="#4a2a80" stroke-width="0.3"/>
<circle cx="420.48" cy="601.59" r="0.9" fill="#6e48a6" stroke="#4a2a80" stroke-width="0.3"/>
<circle cx="431.22" cy="617.2" r="0.9" fill="#8262b4" stroke="#4a2a80" stroke-width="0.3"/>
<circle cx="411.34" cy="604.52" r="0.9" fill="#6e48a6" stroke="#4a2a80" stroke-width="0.3"/>
<circle cx="418.29" cy="614.24" r="0.9" fill="#8262b4" stroke="#4a2a80" stroke-width="0.3"/>
<circle cx="412.14" cy="604.57" r="0.9" fill="#6e48a6" stroke="#4a2a80" stroke-width="0.3"/>
<circle cx="409.86" cy="615.53" r="0.9" fill="#8262b4" stroke="#4a2a80" stroke-width="0.3"/>
<circle cx="411.98" cy="603.76" r="0.9" fill="#6e48a6" stroke="#4a2a80" stroke-width="0.3"/>
<circle cx="413.21" cy="614.73" r="0.9" fill="#8262b4" stroke="#4a2a80" stroke-width="0.3"/>
<circle cx="417.72" cy="601.99" r="0.9" fill="#6e48a6" stroke="#4a2a80" stroke-width="0.3"/>
<circle cx="410.38" cy="616.09" r="0.9" fill="#8262b4" stroke="#4a2a80" stroke-width="0.3"/>
<circle cx="411.41" cy="601.57" r="0.9" fill="#6e48a6" stroke="#4a2a80" stroke-width="0.3"/>
<circle cx="411.41" cy="615.95" r="0.9" fill="#8262b4" stroke="#4a2a80" stroke-width="0.3"/>
<circle cx="418.09" cy="602.47" r="0.9" fill="#6e48a6" stroke="#4a2a80" stroke-width="0.3"/>
<circle cx="412.01" cy="616.17" r="0.9" fill="#8262b4" stroke="#4a2a80" stroke-width="0.3"/>
<circle cx="420" cy="602.98" r="0.9" fill="#6e48a6" stroke="#4a2a80" stroke-width="0.3"/>
<circle cx="409.19" cy="614.11" r="0.9" fill="#8262b4" stroke="#4a2a80" stroke-width="0.3"/>
<circle cx="411.34" cy="604.03" r="0.9" fill="#6e48a6" stroke="#4a2a80" stroke-width="0.3"/>
<circle cx="415.78" cy="616.99" r="0.9" fill="#8262b4" stroke="#4a2a80" stroke-width="0.3"/>
<circle cx="420.87" cy="603.88" r="0.9" fill="#6e48a6" stroke="#4a2a80" stroke-width="0.3"/>
<circle cx="416.4" cy="616.33" r="0.9" fill="#8262b4" stroke="#4a2a80" stroke-width="0.3"/>
<circle cx="426.36" cy="603.07" r="0.9" fill="#6e48a6" stroke="#4a2a80" stroke-width="0.3"/>
<circle cx="416.04" cy="617.19" r="0.9" fill="#8262b4" stroke="#4a2a80" stroke-width="0.3"/>
<circle cx="409.43" cy="604.49" r="0.9" fill="#6e48a6" stroke="#4a2a80" stroke-width="0.3"/>
<circle cx="412.25" cy="618.12" r="0.9" fill="#8262b4" stroke="#4a2a80" stroke-width="0.3"/>
<circle cx="411.85" cy="605.19" r="0.9" fill="#6e48a6" stroke="#4a2a80" stroke-width="0.3"/>
<circle cx="412.66" cy="614.19" r="0.9" fill="#8262b4" stroke="#4a2a80" stroke-width="0.3"/>
<circle cx="415.29" cy="602.48" r="0.9" fill="#6e48a6" stroke="#4a2a80" stroke-width="0.3"/>
<circle cx="408.99" cy="613.53" r="0.9" fill="#8262b4" stroke="#4a2a80" stroke-width="0.3"/>
<circle cx="411.09" cy="603" r="0.9" fill="#6e48a6" stroke="#4a2a80" stroke-width="0.3"/>
<circle cx="414.54" cy="616.05" r="0.9" fill="#8262b4" stroke="#4a2a80" stroke-width="0.3"/>
<circle cx="425.87" cy="603.93" r="0.9" fill="#6e48a6" stroke="#4a2a80" stroke-width="0.3"/>
<circle cx="411.99" cy="617.46" r="0.9" fill="#8262b4" stroke="#4a2a80" stroke-width="0.3"/>
<circle cx="411.14" cy="602.04" r="0.9" fill="#6e48a6" stroke="#4a2a80" stroke-width="0.3"/>
<circle cx="412.34" cy="615.86" r="0.9" fill="#8262b4" stroke="#4a2a80" stroke-width="0.3"/>
<circle cx="413.02" cy="602.34" r="0.9" fill="#6e48a6" stroke="#4a2a80" stroke-width="0.3"/>
<circle cx="415.32" cy="616.11" r="0.9" fill="#8262b4" stroke="#4a2a80" stroke-width="0.3"/>
<circle cx="414.77" cy="600.91" r="0.9" fill="#6e48a6" stroke="#4a2a80" stroke-width="0.3"/>
<circle cx="417.49" cy="614.77" r="0.9" fill="#8262b4" stroke="#4a2a80" stroke-width="0.3"/>
<circle cx="421.46" cy="604.28" r="0.9" fill="#6e48a6" stroke="#4a2a80" stroke-width="0.3"/>
<circle cx="415.37" cy="616.2" r="0.9" fill="#8262b4" stroke="#4a2a80" stroke-width="0.3"/>
<circle cx="416.97" cy="604.21" r="0.9" fill="#6e48a6" stroke="#4a2a80" stroke-width="0.3"/>
<circle cx="412.29" cy="614.42" r="0.9" fill="#8262b4" stroke="#4a2a80" stroke-width="0.3"/>
<circle cx="423.19" cy="601.73" r="0.9" fill="#6e48a6" stroke="#4a2a80" stroke-width="0.3"/>
<circle cx="420.41" cy="615.91" r="0.9" fill="#8262b4" stroke="#4a2a80" stroke-width="0.3"/>
<circle cx="415.47" cy="603.14" r="0.9" fill="#6e48a6" stroke="#4a2a80" stroke-width="0.3"/>
<circle cx="415.73" cy="615.81" r="0.9" fill="#8262b4" stroke="#4a2a80" stroke-width="0.3"/>
<circle cx="413.38" cy="601.49" r="0.9" fill="#6e48a6" stroke="#4a2a80" stroke-width="0.3"/>
<circle cx="431.37" cy="615.39" r="0.9" fill="#8262b4" stroke="#4a2a80" stroke-width="0.3"/>
<circle cx="416.01" cy="602.9" r="0.9" fill="#6e48a6" stroke="#4a2a80" stroke-width="0.3"/>
<circle cx="414.34" cy="613.88" r="0.9" fill="#8262b4" stroke="#4a2a80" stroke-width="0.3"/>
<circle cx="416.4" cy="599.3" r="0.9" fill="#6e48a6" stroke="#4a2a80" stroke-width="0.3"/>
<circle cx="417.15" cy="616.16" r="0.9" fill="#8262b4" stroke="#4a2a80" stroke-width="0.3"/>
<circle cx="417.42" cy="603.89" r="0.9" fill="#6e48a6" stroke="#4a2a80" stroke-width="0.3"/>
<circle cx="413.63" cy="619.39" r="0.9" fill="#8262b4" stroke="#4a2a80" stroke-width="0.3"/>
<circle cx="410.32" cy="604" r="0.9" fill="#6e48a6" stroke="#4a2a80" stroke-width="0.3"/>
<circle cx="413.81" cy="616.54" r="0.9" fill="#8262b4" stroke="#4a2a80" stroke-width="0.3"/>
<circle cx="408.66" cy="602.26" r="0.9" fill="#6e48a6" stroke="#4a2a80" stroke-width="0.3"/>
<circle cx="414.64" cy="617.16" r="0.9" fill="#8262b4" stroke="#4a2a80" stroke-width="0.3"/>
<circle cx="417.34" cy="601.74" r="0.9" fill="#6e48a6" stroke="#4a2a80" stroke-width="0.3"/>
<circle cx="408.83" cy="617.95" r="0.9" fill="#8262b4" stroke="#4a2a80" stroke-width="0.3"/>
<circle cx="410.06" cy="600.67" r="0.9" fill="#6e48a6" stroke="#4a2a80" stroke-width="0.3"/>
<circle cx="415.48" cy="616.54" r="0.9" fill="#8262b4" stroke="#4a2a80" stroke-width="0.3"/>
<circle cx="423.29" cy="603.28" r="0.9" fill="#6e48a6" stroke="#4a2a80" stroke-width="0.3"/>
<circle cx="425.49" cy="614.99" r="0.9" fill="#8262b4" stroke="#4a2a80" stroke-width="0.3"/>
<circle cx="415.39" cy="603.1" r="0.9" fill="#6e48a6" stroke="#4a2a80" stroke-width="0.3"/>
<circle cx="418.73" cy="615.3" r="0.9" fill="#8262b4" stroke="#4a2a80" stroke-width="0.3"/>
<circle cx="418.63" cy="604.19" r="0.9" fill="#6e48a6" stroke="#4a2a80" stroke-width="0.3"/>
<circle cx="411.72" cy="616.99" r="0.9" fill="#8262b4" stroke="#4a2a80" stroke-width="0.3"/>
<circle cx="415.39" cy="603.97" r="0.9" fill="#6e48a6" stroke="#4a2a80" stroke-width="0.3"/>
<circle cx="411.01" cy="615.88" r="0.9" fill="#8262b4" stroke="#4a2a80" stroke-width="0.3"/>
<circle cx="414.74" cy="602.85" r="0.9" fill="#6e48a6" stroke="#4a2a80" stroke-width="0.3"/>
<circle cx="409.6" cy="614.4" r="0.9" fill="#8262b4" stroke="#4a2a80" stroke-width="0.3"/>
<circle cx="410.65" cy="603.06" r="0.9" fill="#6e48a6" stroke="#4a2a80" stroke-width="0.3"/>
<circle cx="410.38" cy="616.91" r="0.9" fill="#8262b4" stroke="#4a2a80" stroke-width="0.3"/>
<circle cx="416.27" cy="602.52" r="0.9" fill="#6e48a6" stroke="#4a2a80" stroke-width="0.3"/>
<circle cx="410.86" cy="614.94" r="0.9" fill="#8262b4" stroke="#4a2a80" stroke-width="0.3"/>
<circle cx="411.06" cy="602.27" r="0.9" fill="#6e48a6" stroke="#4a2a80" stroke-width="0.3"/>
<circle cx="418.69" cy="615.36" r="0.9" fill="#8262b4" stroke="#4a2a80" stroke-width="0.3"/>
<circle cx="417.09" cy="603.8" r="0.9" fill="#6e48a6" stroke="#4a2a80" stroke-width="0.3"/>
<circle cx="422.86" cy="613.51" r="0.9" fill="#8262b4" stroke="#4a2a80" stroke-width="0.3"/>
<circle cx="409.44" cy="602.92" r="0.9" fill="#6e48a6" stroke="#4a2a80" stroke-width="0.3"/>
<circle cx="417.43" cy="617.48" r="0.9" fill="#8262b4" stroke="#4a2a80" stroke-width="0.3"/>
<circle cx="409.66" cy="600.83" r="0.9" fill="#6e48a6" stroke="#4a2a80" stroke-width="0.3"/>
<circle cx="414.3" cy="616.86" r="0.9" fill="#8262b4" stroke="#4a2a80" stroke-width="0.3"/>
<circle cx="412.07" cy="602.98" r="0.9" fill="#6e48a6" stroke="#4a2a80" stroke-width="0.3"/>
<circle cx="415.44" cy="618.71" r="0.9" fill="#8262b4" stroke="#4a2a80" stroke-width="0.3"/>
<circle cx="417.56" cy="601.35" r="0.9" fill="#6e48a6" stroke="#4a2a80" stroke-width="0.3"/>
<circle cx="416.95" cy="615.96" r="0.9" fill="#8262b4" stroke="#4a2a80" stroke-width="0.3"/>
<circle cx="413.62" cy="597.02" r="0.95" fill="#dc2a20"/>
<circle cx="463.21" cy="594.94" r="0.95" fill="#dc2a20"/>
<circle cx="428.4" cy="594.73" r="0.95" fill="#dc2a20"/>
<circle cx="461.31" cy="595.5" r="0.95" fill="#dc2a20"/>
<circle cx="464.84" cy="594.13" r="0.95" fill="#dc2a20"/>
<circle cx="462.33" cy="594.97" r="0.95" fill="#dc2a20"/>
<circle cx="432.27" cy="595.85" r="0.95" fill="#dc2a20"/>
<circle cx="424.24" cy="594.71" r="0.95" fill="#dc2a20"/>
<circle cx="430.7" cy="595.21" r="0.95" fill="#dc2a20"/>
<circle cx="430.15" cy="595.93" r="0.95" fill="#dc2a20"/>
<circle cx="434.4" cy="596.04" r="0.95" fill="#dc2a20"/>
<circle cx="458.3" cy="595.59" r="0.95" fill="#dc2a20"/>
<circle cx="412.64" cy="595.48" r="0.95" fill="#dc2a20"/>
<circle cx="432.58" cy="596.21" r="0.95" fill="#dc2a20"/>
<circle cx="422.14" cy="595.79" r="0.95" fill="#dc2a20"/>
<circle cx="427.55" cy="595.91" r="0.95" fill="#dc2a20"/>
<circle cx="437.56" cy="596.08" r="0.95" fill="#dc2a20"/>
<circle cx="437.76" cy="594.19" r="0.95" fill="#dc2a20"/>
<circle cx="409.53" cy="594.37" r="0.95" fill="#dc2a20"/>
<circle cx="409.42" cy="595.31" r="0.95" fill="#dc2a20"/>
<circle cx="444.01" cy="594.95" r="0.95" fill="#dc2a20"/>
<circle cx="444.29" cy="595.84" r="0.95" fill="#dc2a20"/>
<circle cx="430.76" cy="595.98" r="0.95" fill="#dc2a20"/>
<circle cx="443.78" cy="594.47" r="0.95" fill="#dc2a20"/>
<circle cx="427.59" cy="595.08" r="0.95" fill="#dc2a20"/>
<circle cx="453.47" cy="595.84" r="0.95" fill="#dc2a20"/>
<circle cx="412.13" cy="596.28" r="0.95" fill="#dc2a20"/>
<circle cx="424.94" cy="596.18" r="0.95" fill="#dc2a20"/>
<circle cx="455.94" cy="593.49" r="0.95" fill="#dc2a20"/>
<circle cx="432.74" cy="595.32" r="0.95" fill="#dc2a20"/>
<circle cx="425.86" cy="596.46" r="0.95" fill="#dc2a20"/>
<circle cx="467.06" cy="594.96" r="0.95" fill="#dc2a20"/>
<circle cx="458.06" cy="595.19" r="0.95" fill="#dc2a20"/>
<circle cx="457.34" cy="594.75" r="0.95" fill="#dc2a20"/>
<circle cx="455.51" cy="595.53" r="0.95" fill="#dc2a20"/>
<circle cx="454.05" cy="595.5" r="0.95" fill="#dc2a20"/>
<circle cx="411.83" cy="595.95" r="0.95" fill="#dc2a20"/>
<circle cx="463.71" cy="594.4" r="0.95" fill="#dc2a20"/>
<circle cx="446.68" cy="593.07" r="0.95" fill="#dc2a20"/>
<circle cx="453.41" cy="595.44" r="0.95" fill="#dc2a20"/>
<circle cx="443.21" cy="594.05" r="0.95" fill="#dc2a20"/>
<circle cx="433.68" cy="596.39" r="0.95" fill="#dc2a20"/>
<circle cx="449.1" cy="593.11" r="0.95" fill="#dc2a20"/>
<circle cx="413.42" cy="596.77" r="0.95" fill="#dc2a20"/>
<circle cx="455.1" cy="593.8" r="0.95" fill="#dc2a20"/>
<circle cx="431.29" cy="595.74" r="0.95" fill="#dc2a20"/>
<circle cx="435.41" cy="595.81" r="0.95" fill="#dc2a20"/>
<circle cx="427.88" cy="596.38" r="0.95" fill="#dc2a20"/>
<circle cx="452.35" cy="595.32" r="0.95" fill="#dc2a20"/>
<circle cx="458.21" cy="595.44" r="0.95" fill="#dc2a20"/>
<circle cx="448.31" cy="595.41" r="0.95" fill="#dc2a20"/>
<circle cx="415.99" cy="596.8" r="0.95" fill="#dc2a20"/>
<circle cx="427.29" cy="595.05" r="0.95" fill="#dc2a20"/>
<circle cx="463.41" cy="595.09" r="0.95" fill="#dc2a20"/>
<circle cx="421.46" cy="595.44" r="0.95" fill="#dc2a20"/>
<circle cx="458.52" cy="594.89" r="0.95" fill="#dc2a20"/>
<circle cx="416.28" cy="595.95" r="0.95" fill="#dc2a20"/>
<circle cx="410.85" cy="596.1" r="0.95" fill="#dc2a20"/>
<circle cx="434.48" cy="595.04" r="0.95" fill="#dc2a20"/>
<circle cx="463.76" cy="594.2" r="0.95" fill="#dc2a20"/>
<circle cx="438.12" cy="595.85" r="0.95" fill="#dc2a20"/>
<circle cx="454.94" cy="594.63" r="0.95" fill="#dc2a20"/>
<circle cx="415.21" cy="596.98" r="0.95" fill="#dc2a20"/>
<circle cx="443.56" cy="595.38" r="0.95" fill="#dc2a20"/>
<circle cx="420.93" cy="596.4" r="0.95" fill="#dc2a20"/>
<circle cx="429.64" cy="595.94" r="0.95" fill="#dc2a20"/>
<circle cx="443.89" cy="594.87" r="0.95" fill="#dc2a20"/>
<circle cx="442.88" cy="596.02" r="0.95" fill="#dc2a20"/>
<circle cx="458.7" cy="594.63" r="0.95" fill="#dc2a20"/>
<circle cx="437.35" cy="595.01" r="0.95" fill="#dc2a20"/>
<circle cx="466.86" cy="594.52" r="0.95" fill="#dc2a20"/>
<circle cx="422.78" cy="595.01" r="0.95" fill="#dc2a20"/>
<circle cx="424.41" cy="596.53" r="0.95" fill="#dc2a20"/>
<circle cx="424.17" cy="595.06" r="0.95" fill="#dc2a20"/>
<circle cx="412.79" cy="596.51" r="0.95" fill="#dc2a20"/>
<circle cx="487.29" cy="587.47" r="0.95" fill="#dc2a20"/>
<circle cx="468.56" cy="589.92" r="0.95" fill="#dc2a20"/>
<circle cx="504.4" cy="585.09" r="0.95" fill="#dc2a20"/>
<circle cx="500.04" cy="585.15" r="0.95" fill="#dc2a20"/>
<circle cx="455.27" cy="593.17" r="0.95" fill="#dc2a20"/>
<circle cx="489.71" cy="587.53" r="0.95" fill="#dc2a20"/>
<circle cx="495.93" cy="587.04" r="0.95" fill="#dc2a20"/>
<circle cx="442.31" cy="594.77" r="0.95" fill="#dc2a20"/>
<circle cx="476.4" cy="588.2" r="0.95" fill="#dc2a20"/>
<circle cx="461.98" cy="589.79" r="0.95" fill="#dc2a20"/>
<circle cx="490.47" cy="584.53" r="0.95" fill="#dc2a20"/>
<circle cx="493.18" cy="585.41" r="0.95" fill="#dc2a20"/>
<circle cx="454.42" cy="591.76" r="0.95" fill="#dc2a20"/>
<circle cx="453.15" cy="591.21" r="0.95" fill="#dc2a20"/>
<circle cx="447.97" cy="594.23" r="0.95" fill="#dc2a20"/>
<circle cx="490.48" cy="584.84" r="0.95" fill="#dc2a20"/>
<circle cx="500.98" cy="585.13" r="0.95" fill="#dc2a20"/>
<circle cx="485.49" cy="586.08" r="0.95" fill="#dc2a20"/>
<circle cx="487.43" cy="585.29" r="0.95" fill="#dc2a20"/>
<circle cx="459.2" cy="591.09" r="0.95" fill="#dc2a20"/>
<circle cx="457.47" cy="590.79" r="0.95" fill="#dc2a20"/>
<circle cx="456.45" cy="590.99" r="0.95" fill="#dc2a20"/>
<circle cx="456.74" cy="593.31" r="0.95" fill="#dc2a20"/>
<circle cx="459.34" cy="593.27" r="0.95" fill="#dc2a20"/>
<circle cx="472" cy="590.35" r="0.95" fill="#dc2a20"/>
<circle cx="457.99" cy="593.09" r="0.95" fill="#dc2a20"/>
<circle cx="473.61" cy="589.56" r="0.95" fill="#dc2a20"/>
<circle cx="497.67" cy="585.59" r="0.95" fill="#dc2a20"/>
<circle cx="496.41" cy="584.42" r="0.95" fill="#dc2a20"/>
<circle cx="480.22" cy="586.92" r="0.95" fill="#dc2a20"/>
<circle cx="475.28" cy="590.09" r="0.95" fill="#dc2a20"/>
<circle cx="483.56" cy="586.58" r="0.95" fill="#dc2a20"/>
<circle cx="457.15" cy="591.75" r="0.95" fill="#dc2a20"/>
<circle cx="443.59" cy="593.57" r="0.95" fill="#dc2a20"/>
<circle cx="491.96" cy="587.92" r="0.95" fill="#dc2a20"/>
<circle cx="455.41" cy="591.82" r="0.95" fill="#dc2a20"/>
<circle cx="488.13" cy="588.64" r="0.95" fill="#dc2a20"/>
<circle cx="502.28" cy="584.44" r="0.95" fill="#dc2a20"/>
<circle cx="463.02" cy="592.68" r="0.95" fill="#dc2a20"/>
<circle cx="455.32" cy="592.84" r="0.95" fill="#dc2a20"/>
<circle cx="502.07" cy="586.98" r="0.95" fill="#dc2a20"/>
<circle cx="483.37" cy="585.66" r="0.95" fill="#dc2a20"/>
<circle cx="446.73" cy="592.99" r="0.95" fill="#dc2a20"/>
<circle cx="477.32" cy="585.96" r="0.95" fill="#dc2a20"/>
<circle cx="460.42" cy="588.64" r="0.95" fill="#dc2a20"/>
<circle cx="436" cy="578.5" r="0.95" fill="#dc2a20"/>
<circle cx="457" cy="581" r="0.95" fill="#dc2a20"/>
<circle cx="497" cy="577.5" r="0.95" fill="#dc2a20"/>
<circle cx="503" cy="576.5" r="0.95" fill="#dc2a20"/>
<circle cx="503" cy="582.5" r="0.95" fill="#dc2a20"/>
<circle cx="504" cy="586" r="0.95" fill="#dc2a20"/>
<circle cx="431" cy="588.5" r="0.95" fill="#dc2a20"/>
<circle cx="466" cy="587" r="0.95" fill="#dc2a20"/>
<circle cx="470" cy="585.2" r="0.95" fill="#dc2a20"/>
<circle cx="486" cy="585" r="0.95" fill="#dc2a20"/>
<circle cx="478" cy="588.5" r="0.95" fill="#dc2a20"/>
<circle cx="500" cy="589.5" r="0.95" fill="#dc2a20"/>
<circle cx="455.22" cy="622.36" r="0.95" fill="#dc2a20"/>
<circle cx="412.6" cy="621.14" r="0.95" fill="#dc2a20"/>
<circle cx="410.57" cy="624.16" r="0.95" fill="#dc2a20"/>
<circle cx="445.31" cy="622.14" r="0.95" fill="#dc2a20"/>
<circle cx="454.33" cy="620.7" r="0.95" fill="#dc2a20"/>
<circle cx="413.09" cy="622.08" r="0.95" fill="#dc2a20"/>
<circle cx="436.93" cy="621.03" r="0.95" fill="#dc2a20"/>
<circle cx="427.77" cy="621.98" r="0.95" fill="#dc2a20"/>
<circle cx="435.45" cy="621.06" r="0.95" fill="#dc2a20"/>
<circle cx="431.12" cy="622.52" r="0.95" fill="#dc2a20"/>
<circle cx="434.75" cy="621.83" r="0.95" fill="#dc2a20"/>
<circle cx="438.55" cy="621.12" r="0.95" fill="#dc2a20"/>
<circle cx="460.54" cy="621.05" r="0.95" fill="#dc2a20"/>
<circle cx="424.91" cy="620.6" r="0.95" fill="#dc2a20"/>
<circle cx="426.79" cy="621.35" r="0.95" fill="#dc2a20"/>
<circle cx="460.73" cy="623.69" r="0.95" fill="#dc2a20"/>
<circle cx="459.35" cy="622.95" r="0.95" fill="#dc2a20"/>
<circle cx="458.55" cy="621.64" r="0.95" fill="#dc2a20"/>
<circle cx="410.07" cy="622.3" r="0.95" fill="#dc2a20"/>
<circle cx="445.34" cy="620.43" r="0.95" fill="#dc2a20"/>
<circle cx="441.48" cy="622.94" r="0.95" fill="#dc2a20"/>
<circle cx="413.58" cy="622.58" r="0.95" fill="#dc2a20"/>
<circle cx="436.52" cy="620.67" r="0.95" fill="#dc2a20"/>
<circle cx="414.92" cy="620.4" r="0.95" fill="#dc2a20"/>
<circle cx="455.06" cy="620.62" r="0.95" fill="#dc2a20"/>
<circle cx="410.69" cy="620.39" r="0.95" fill="#dc2a20"/>
<circle cx="452.98" cy="620.98" r="0.95" fill="#dc2a20"/>
<circle cx="439.74" cy="621.98" r="0.95" fill="#dc2a20"/>
<circle cx="449.14" cy="620.32" r="0.95" fill="#dc2a20"/>
<circle cx="412.6" cy="620.35" r="0.95" fill="#dc2a20"/>
<circle cx="451.09" cy="623.11" r="0.95" fill="#dc2a20"/>
<circle cx="430.6" cy="620.74" r="0.95" fill="#dc2a20"/>
<circle cx="426.78" cy="620.45" r="0.95" fill="#dc2a20"/>
<circle cx="449.82" cy="620.51" r="0.95" fill="#dc2a20"/>
<circle cx="422.9" cy="621.87" r="0.95" fill="#dc2a20"/>
<circle cx="426.78" cy="621.24" r="0.95" fill="#dc2a20"/>
<circle cx="444.77" cy="621.35" r="0.95" fill="#dc2a20"/>
<circle cx="455.74" cy="620.61" r="0.95" fill="#dc2a20"/>
<circle cx="418.31" cy="620.97" r="0.95" fill="#dc2a20"/>
<circle cx="434.39" cy="621.23" r="0.95" fill="#dc2a20"/>
<circle cx="419" cy="625.5" r="0.95" fill="#dc2a20"/>
<circle cx="431" cy="626.5" r="0.95" fill="#dc2a20"/>
<circle cx="452" cy="625" r="0.95" fill="#dc2a20"/>
<circle cx="458" cy="622.5" r="0.95" fill="#dc2a20"/>
<circle cx="463.3" cy="629.3" r="0.95" fill="#dc2a20"/>
<circle cx="445" cy="623.5" r="0.95" fill="#dc2a20"/>
<line x1="407.9" y1="564.1" x2="407.9" y2="655.6" stroke="#333" stroke-width="1.1" stroke-dasharray="4,2.6" />
<line x1="391.5" y1="598.6" x2="510" y2="598.6" stroke="#333" stroke-width="1.1" stroke-dasharray="4,2.6" />
<line x1="391.5" y1="619.2" x2="510" y2="619.2" stroke="#333" stroke-width="1.1" stroke-dasharray="4,2.6" />
<text x="501.2" y="572.4" font-size="4.3" fill="#333" stroke="#333" stroke-width="0.05" text-anchor="middle" >TNFSF10</text>
<text x="482.2" y="576" font-size="4.3" fill="#333" stroke="#333" stroke-width="0.05" text-anchor="middle" >BACH2</text>
<text x="432.8" y="583.4" font-size="4.3" fill="#333" stroke="#333" stroke-width="0.05" text-anchor="middle" >KLRB1</text>
<text x="452.5" y="581.3" font-size="4.3" fill="#333" stroke="#333" stroke-width="0.05" text-anchor="middle" >SPP1</text>
<text x="423.3" y="589.3" font-size="4.3" fill="#333" stroke="#333" stroke-width="0.05" text-anchor="middle" >PDE7B</text>
<text x="465.5" y="588.3" font-size="4.3" fill="#333" stroke="#333" stroke-width="0.05" text-anchor="middle" >VIM</text>
<text x="479.8" y="587.2" font-size="4.3" fill="#333" stroke="#333" stroke-width="0.05" text-anchor="middle" >CLEC2B</text>
<text x="501.7" y="587.7" font-size="4.3" fill="#333" stroke="#333" stroke-width="0.05" text-anchor="middle" >S100A4</text>
<text x="501.2" y="593.5" font-size="4.3" fill="#333" stroke="#333" stroke-width="0.05" text-anchor="middle" >TMSB10</text>
<text x="463.9" y="594" font-size="4.3" fill="#333" stroke="#333" stroke-width="0.05" text-anchor="middle" >ATXN1</text>
<text x="475.1" y="597.2" font-size="4.3" fill="#333" stroke="#333" stroke-width="0.05" text-anchor="middle" >CD52</text>
<text x="465.5" y="599.9" font-size="4.3" fill="#333" stroke="#333" stroke-width="0.05" text-anchor="middle" >FCER1G</text>
<text x="502.2" y="598.6" font-size="4.3" fill="#333" stroke="#333" stroke-width="0.05" text-anchor="middle" >IFITM2</text>
<text x="446.8" y="604.1" font-size="4.3" fill="#333" stroke="#333" stroke-width="0.05" text-anchor="middle" >SOX4</text>
<text x="405.6" y="626" font-size="4.3" fill="#333" stroke="#333" stroke-width="0.05" text-anchor="middle" >HIST1H4C</text>
<text x="424.8" y="628.2" font-size="4.3" fill="#333" stroke="#333" stroke-width="0.05" text-anchor="middle" >TOP2A</text>
<text x="457.3" y="624.7" font-size="4.3" fill="#333" stroke="#333" stroke-width="0.05" text-anchor="middle" >ZNF521</text>
<text x="443.8" y="630" font-size="4.3" fill="#333" stroke="#333" stroke-width="0.05" text-anchor="middle" >TBC1D5</text>
<text x="469.4" y="632.5" font-size="4.3" fill="#333" stroke="#333" stroke-width="0.05" text-anchor="middle" >ANGPT1</text></svg></body></html>
